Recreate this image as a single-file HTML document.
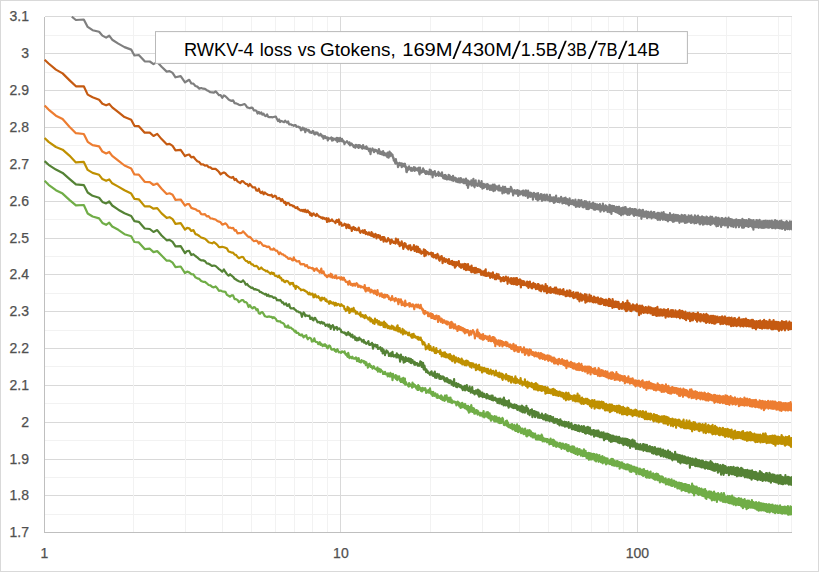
<!DOCTYPE html>
<html><head><meta charset="utf-8"><title>RWKV-4 loss vs Gtokens</title>
<style>html,body{margin:0;padding:0;background:#fff;}body{width:819px;height:572px;overflow:hidden;font-family:"Liberation Sans",sans-serif;}</style></head>
<body>
<svg width="819" height="572" viewBox="0 0 819 572" style="display:block">
<rect x="0" y="0" width="819" height="572" fill="#fff"/>
<rect x="0.5" y="0.5" width="818" height="571" fill="none" stroke="#d9d9d9" stroke-width="1"/>
<g fill="none" stroke-width="1" shape-rendering="crispEdges"><path d="M44.5 16.5H791.5M44.5 53.5H791.5M44.5 90.5H791.5M44.5 127.5H791.5M44.5 164.5H791.5M44.5 201.5H791.5M44.5 238.5H791.5M44.5 274.5H791.5M44.5 311.5H791.5M44.5 348.5H791.5M44.5 385.5H791.5M44.5 422.5H791.5M44.5 459.5H791.5M44.5 495.5H791.5M44.5 532.5H791.5" stroke="#d9d9d9"/><path d="M44.5 35.5H791.5M44.5 72.5H791.5M44.5 109.5H791.5M44.5 145.5H791.5M44.5 182.5H791.5M44.5 219.5H791.5M44.5 256.5H791.5M44.5 293.5H791.5M44.5 330.5H791.5M44.5 366.5H791.5M44.5 403.5H791.5M44.5 440.5H791.5M44.5 477.5H791.5M44.5 514.5H791.5" stroke="#f2f2f2"/><path d="M340.5 16.5V532.5M637.5 16.5V532.5" stroke="#d9d9d9"/><path d="M133.5 16.5V532.5M185.5 16.5V532.5M222.5 16.5V532.5M251.5 16.5V532.5M275.5 16.5V532.5M294.5 16.5V532.5M312.5 16.5V532.5M327.5 16.5V532.5M430.5 16.5V532.5M482.5 16.5V532.5M519.5 16.5V532.5M548.5 16.5V532.5M571.5 16.5V532.5M591.5 16.5V532.5M608.5 16.5V532.5M623.5 16.5V532.5M726.5 16.5V532.5M778.5 16.5V532.5M791.5 16.5V532.5" stroke="#f2f2f2"/><path d="M44.5 16.5V532.5H791.5" stroke="#bfbfbf"/></g>
<clipPath id="cp"><rect x="40" y="16.0" width="751.9" height="520"/></clipPath><g clip-path="url(#cp)">
<path d="M71.8,16.7 75.9,20.0 83.8,19.5 87.7,26.9 92.6,30.2 99.1,31.8 102.4,35.6 106.1,37.6 109.2,35.7 112.2,39.7 118.3,43.6 124.5,47.1 131.2,49.6 134.4,55.5 138.8,55.0 144.7,61.3 149.8,61.5 153.5,64.1 157.2,62.1 161.6,66.7 166.7,71.6 169.6,71.1 172.6,72.9 175.5,77.3 180.7,76.1 185.0,82.4 187.1,81.0 189.2,79.8 191.3,83.4 193.4,83.6 195.4,86.0 197.3,86.6 199.3,88.6 201.2,88.0 203.1,88.7 205.0,88.9 206.8,90.2 208.6,91.1 210.4,92.2 212.2,92.4 213.9,92.7 215.6,91.4 217.3,93.1 219.0,95.2 220.6,95.1 222.2,97.8 223.9,95.4 225.4,96.3 227.0,97.8 228.6,99.5 230.1,100.4 231.6,100.9 233.1,100.4 234.6,103.1 236.0,103.3 237.5,103.9 238.9,104.8 240.3,105.2 241.7,105.0 243.1,104.5 244.5,104.0 245.8,105.3 247.2,107.4 248.5,107.8 249.8,108.2 251.3,107.6 252.6,107.9 253.9,110.4 255.1,110.4 256.4,110.7 257.6,113.6 258.8,112.0 260.0,113.7 261.2,112.4 262.4,114.6 263.6,113.7 264.8,115.8 265.9,116.1 267.1,114.4 268.2,116.9 269.3,117.1 270.5,117.1 271.6,117.1 272.7,117.3 273.7,117.0 274.8,116.7 275.9,116.7 277.0,119.1 278.0,121.0 279.1,119.5 280.1,122.0 281.1,120.9 282.1,121.3 283.2,121.9 284.2,122.2 285.2,120.6 286.1,121.8 287.1,122.7 288.1,121.3 289.1,124.3 290.0,124.3 291.0,124.3 291.9,125.1 292.9,125.2 293.8,125.8 294.7,125.1 295.6,125.0 296.5,126.8 297.4,126.7 298.3,126.5 299.2,127.7 300.1,127.3 301.0,130.4 301.9,129.9 302.7,127.6 303.6,129.6 304.5,128.5 305.3,132.2 306.2,129.1 307.0,129.6 307.8,130.7 308.7,129.8 309.5,132.4 310.3,131.6 311.1,132.8 311.9,132.9 312.7,130.9 313.5,131.5 314.3,134.3 315.1,134.3 315.9,132.3 316.7,133.7 317.5,132.6 318.2,134.5 319.0,135.5 319.7,135.4 320.5,133.8 321.3,134.9 322.0,136.6 322.7,135.6 323.5,138.6 324.2,136.3 325.0,136.2 325.7,138.0 326.4,137.6 327.1,137.3 327.8,140.4 328.5,137.8 329.2,138.7 330.0,138.6 330.7,138.1 331.3,137.3 332.0,140.6 332.7,138.0 333.4,140.2 334.1,138.8 334.8,139.2 335.4,138.7 336.1,140.3 336.8,137.8 337.4,141.9 338.1,138.2 338.8,140.1 339.4,141.2 340.1,137.9 340.7,140.3 341.3,141.0 342.0,138.9 342.6,141.4 343.3,140.6 343.9,141.5 344.5,144.2 345.1,142.7 345.8,142.3 346.4,142.1 347.0,141.2 347.6,142.4 348.2,143.0 348.8,144.0 349.4,142.4 350.0,145.4 350.6,143.8 351.2,143.4 351.8,143.7 352.4,145.4 353.0,145.2 353.6,147.0 354.2,145.6 354.7,146.5 355.3,147.8 355.9,144.8 356.5,146.3 357.0,145.4 357.6,147.0 358.2,145.1 358.7,148.0 359.3,146.9 359.8,145.2 360.4,147.2 360.9,146.0 361.5,146.8 362.0,148.5 362.6,148.7 363.1,145.0 363.7,147.7 364.2,147.1 364.7,148.4 365.3,147.4 365.8,148.7 366.3,146.4 366.9,149.0 367.4,147.6 367.9,149.3 368.4,148.8 368.9,150.8 369.5,151.5 370.0,148.6 370.5,154.2 371.0,150.4 371.5,150.5 372.0,149.8 372.5,148.5 373.0,149.7 373.5,150.6 374.0,152.2 374.5,149.8 375.0,149.7 375.5,151.0 376.0,150.6 376.5,150.2 377.0,151.7 377.5,150.9 377.9,153.3 378.4,153.2 378.9,149.0 379.4,151.7 379.9,152.0 380.3,154.0 380.8,151.6 381.3,152.2 381.7,154.2 382.2,154.4 382.7,153.8 383.1,151.2 383.6,155.2 384.1,152.9 384.5,152.8 385.0,154.0 385.4,155.5 385.9,153.9 386.4,153.6 386.8,154.9 387.3,157.1 387.7,152.7 388.1,154.2 388.6,157.7 389.0,154.8 389.5,151.7 389.9,156.3 390.4,153.9 390.8,152.9 391.2,155.7 391.7,154.4 392.1,154.4 392.5,154.8 393.0,157.7 393.4,157.5 393.8,160.6 394.2,159.9 394.7,159.7 395.1,162.8 395.5,163.6 395.9,159.2 396.4,163.5 396.8,162.2 397.2,163.5 397.6,163.7 398.0,167.1 398.4,166.3 398.8,164.7 399.2,163.0 399.7,162.8 400.1,163.9 400.5,165.1 400.9,164.2 401.3,163.5 401.7,167.2 402.1,163.5 402.5,166.4 402.9,163.8 403.3,165.9 403.7,164.6 404.1,166.2 404.5,164.9 404.9,163.7 405.2,166.9 405.6,166.0 406.0,166.9 406.4,171.8 406.8,172.1 407.2,169.7 407.6,168.9 407.9,170.2 408.3,167.2 408.7,168.5 409.1,166.3 409.5,168.8 409.8,168.1 410.2,168.7 410.6,170.1 411.0,170.7 411.3,167.9 411.7,168.7 412.1,170.8 412.5,168.5 412.8,170.2 413.2,170.1 413.6,169.1 413.9,167.1 414.3,169.5 414.7,170.9 415.0,168.6 415.4,167.7 415.7,169.8 416.1,170.1 416.5,169.5 416.8,169.0 417.2,169.0 417.5,168.6 417.9,170.6 418.2,168.1 418.6,167.7 418.9,170.5 419.3,173.4 419.6,174.4 420.0,167.6 420.3,171.4 420.7,171.5 421.0,172.2 421.4,172.7 421.7,170.6 422.1,170.6 422.4,171.1 422.7,171.9 423.1,168.4 423.4,170.5 423.8,169.7 424.1,171.5 424.4,172.0 424.8,171.1 425.1,173.0 425.4,171.4 425.8,174.0 426.1,171.4 426.4,172.5 426.8,171.2 427.1,172.2 427.4,173.7 427.8,172.2 428.1,172.2 428.4,173.7 428.7,174.2 429.1,172.1 429.4,173.5 429.7,169.7 430.0,173.3 430.4,171.1 430.7,174.4 431.0,170.3 431.3,173.2 431.6,171.5 431.9,173.6 432.3,172.6 432.6,177.5 432.9,173.7 433.2,172.1 433.5,174.6 433.8,172.2 434.2,171.6 434.5,174.4 434.8,171.1 435.1,174.3 435.4,173.8 435.7,175.9 436.0,173.6 436.3,175.4 436.6,174.1 436.9,174.3 437.2,174.0 437.5,174.4 437.8,174.8 438.1,175.0 438.4,171.8 438.7,176.0 439.0,174.6 439.3,173.2 439.6,174.7 439.9,173.8 440.2,175.2 440.5,175.0 440.8,173.8 441.1,175.8 441.4,174.3 441.7,176.2 442.0,172.4 442.3,176.0 442.6,175.0 442.9,175.4 443.2,178.2 443.5,175.6 443.8,176.7 444.1,177.8 444.3,178.6 444.6,175.0 444.9,178.2 445.2,175.3 445.5,175.0 445.8,178.8 446.1,175.9 446.3,177.3 446.6,178.6 446.9,179.5 447.2,177.2 447.5,177.0 447.8,176.8 448.0,177.4 448.3,179.1 448.6,174.8 448.9,177.3 449.2,178.9 449.4,179.0 449.7,175.5 450.0,179.6 450.3,178.2 450.5,176.9 450.8,176.8 451.1,177.5 451.4,178.0 451.6,180.1 451.9,177.3 452.2,176.9 452.4,177.4 452.7,178.4 453.0,175.9 453.3,180.9 453.5,179.2 453.8,180.1 454.1,180.1 454.3,179.5 454.6,178.9 454.9,177.5 455.1,178.9 455.4,179.4 455.7,180.4 455.9,181.1 456.2,181.5 456.4,178.4 456.7,179.8 457.0,180.5 457.2,180.1 457.5,181.9 457.7,179.7 458.0,182.1 458.3,179.8 458.5,179.6 458.8,178.3 459.0,181.6 459.3,182.4 459.6,181.7 459.8,180.2 460.1,181.7 460.3,179.7 460.6,182.5 460.8,178.1 461.1,180.3 461.3,178.6 461.6,180.3 461.8,179.4 462.1,180.9 462.3,182.0 462.6,181.1 462.8,181.8 463.1,180.9 463.3,182.8 463.6,183.0 463.8,179.4 464.1,183.0 464.3,182.8 464.6,183.1 464.8,182.1 465.1,179.8 465.3,183.0 465.6,181.4 465.8,182.3 466.0,178.6 466.3,183.1 466.5,183.3 466.8,185.2 467.1,182.0 467.4,184.7 467.7,180.3 468.0,187.9 468.2,186.9 468.5,183.7 468.7,181.2 468.9,182.8 469.2,183.6 469.4,183.2 469.6,183.7 469.9,184.3 470.1,182.1 470.4,183.1 470.6,182.8 470.8,183.3 471.1,184.0 471.3,180.3 471.6,185.7 471.9,182.7 472.2,181.9 472.5,182.3 472.7,184.4 472.9,180.8 473.1,183.8 473.4,178.9 473.6,185.8 473.8,183.5 474.1,185.7 474.3,182.9 474.6,187.3 474.9,182.4 475.2,185.3 475.4,180.8 475.7,180.3 475.9,185.1 476.1,184.2 476.3,183.5 476.6,184.2 476.8,183.5 477.1,184.8 477.4,185.9 477.7,184.5 477.9,185.7 478.1,185.6 478.3,185.2 478.6,183.9 478.8,180.7 479.1,184.5 479.4,182.5 479.7,186.0 479.9,185.0 480.1,183.0 480.3,186.3 480.6,186.8 480.9,183.5 481.2,186.0 481.4,184.1 481.6,181.2 481.8,184.6 482.1,185.0 482.4,188.6 482.7,187.7 482.9,185.0 483.1,187.0 483.3,184.1 483.6,184.0 483.9,187.8 484.2,185.7 484.4,184.9 484.6,184.5 484.8,187.2 485.1,184.7 485.4,186.5 485.7,186.4 485.9,186.2 486.1,185.3 486.4,184.4 486.7,187.0 486.9,186.6 487.1,189.1 487.3,186.7 487.6,184.0 487.9,188.7 488.1,187.7 488.3,186.0 488.6,187.9 488.9,185.4 489.2,185.5 489.4,185.5 489.6,185.9 489.9,190.0 490.2,187.3 490.4,188.9 490.6,185.7 490.9,186.3 491.2,186.1 491.4,189.8 491.6,185.6 491.9,187.0 492.2,186.5 492.4,185.9 492.6,188.4 492.9,184.7 493.2,189.9 493.4,191.2 493.6,190.0 493.9,187.5 494.2,189.5 494.3,189.4 494.6,184.7 494.9,187.3 495.1,190.4 495.3,188.0 495.6,186.1 495.9,189.2 496.1,188.9 496.4,187.9 496.7,187.9 496.9,188.2 497.1,186.3 497.4,187.5 497.6,187.7 497.8,187.0 498.1,189.4 498.4,190.5 498.6,188.6 498.9,187.4 499.1,185.5 499.3,189.2 499.6,187.1 499.9,190.4 500.1,190.7 500.4,189.0 500.6,189.1 500.8,188.0 501.1,188.1 501.4,190.1 501.6,188.9 501.9,189.9 502.1,188.9 502.4,193.4 502.7,190.7 502.9,186.6 503.1,189.1 503.4,191.0 503.6,190.7 503.9,187.5 504.1,189.0 504.4,192.6 504.7,189.9 504.9,192.2 505.1,186.8 505.4,190.4 505.6,188.7 505.9,191.6 506.1,191.6 506.4,188.9 506.6,191.9 506.9,189.3 507.2,190.5 507.4,190.3 507.6,193.4 507.9,190.4 508.1,188.9 508.4,191.2 508.6,191.5 508.9,193.5 509.1,191.4 509.4,189.1 509.6,190.1 509.9,189.9 510.1,189.8 510.4,191.5 510.7,188.4 510.8,186.9 511.1,190.9 511.4,189.0 511.6,188.4 511.9,191.7 512.1,190.6 512.4,191.4 512.6,190.4 512.9,193.7 513.1,195.4 513.4,192.6 513.6,191.6 513.9,190.7 514.1,193.2 514.4,190.3 514.6,190.1 514.9,192.1 515.1,193.5 515.4,192.4 515.6,191.1 515.9,192.1 516.1,191.8 516.4,192.7 516.6,193.7 516.9,190.3 517.1,192.0 517.4,190.4 517.6,192.5 517.9,190.3 518.1,195.9 518.4,193.5 518.6,191.4 518.9,194.4 519.1,191.9 519.4,194.6 519.6,190.9 519.9,192.2 520.1,193.1 520.4,192.3 520.6,194.4 520.9,192.3 521.1,192.5 521.4,193.2 521.6,193.6 521.9,191.4 522.1,193.0 522.4,190.9 522.6,193.6 522.9,192.9 523.1,195.5 523.4,191.9 523.6,190.6 523.9,193.8 524.1,191.7 524.4,195.0 524.6,193.1 524.9,194.9 525.1,195.2 525.4,195.8 525.6,194.5 525.9,190.4 526.1,195.5 526.4,193.1 526.6,195.2 526.9,192.6 527.1,193.5 527.4,195.5 527.6,194.0 527.9,197.8 528.1,190.7 528.4,195.6 528.6,196.4 528.9,193.3 529.1,196.4 529.4,193.8 529.6,196.0 529.9,192.5 530.1,196.8 530.4,193.9 530.6,194.4 530.9,192.8 531.1,193.9 531.4,196.3 531.6,193.1 531.9,195.4 532.1,194.0 532.4,197.2 532.6,194.7 532.9,199.6 533.1,194.5 533.4,196.3 533.6,195.5 533.9,192.9 534.1,193.1 534.4,196.6 534.6,196.6 534.9,195.6 535.1,196.7 535.4,194.1 535.6,194.4 535.9,198.9 536.1,193.9 536.4,197.6 536.6,193.6 536.9,198.3 537.1,196.0 537.4,197.1 537.6,200.5 537.9,197.9 538.1,193.0 538.4,198.2 538.6,199.6 538.9,195.2 539.1,196.3 539.4,197.9 539.6,195.5 539.9,199.0 540.1,196.0 540.4,197.6 540.6,198.4 540.9,194.1 541.1,196.3 541.4,195.0 541.6,194.3 541.9,200.8 542.1,197.9 542.4,196.9 542.6,200.1 542.9,195.6 543.1,196.7 543.4,195.3 543.6,196.1 543.9,194.8 544.1,199.7 544.4,195.7 544.6,194.5 544.9,197.7 545.1,200.1 545.4,196.4 545.6,198.8 545.9,196.2 546.1,197.3 546.4,199.7 546.6,198.0 546.9,194.7 547.1,199.7 547.4,196.4 547.6,197.3 547.9,198.9 548.1,200.2 548.4,198.5 548.6,200.2 548.9,196.6 549.1,196.7 549.4,200.6 549.6,201.3 549.9,194.9 550.1,197.7 550.4,196.7 550.6,201.2 550.9,198.0 551.1,197.6 551.4,200.7 551.6,200.8 551.9,198.5 552.1,197.8 552.4,200.6 552.6,197.8 552.9,201.4 553.1,198.0 553.4,202.0 553.6,197.3 553.9,202.9 554.1,198.4 554.4,200.3 554.6,198.1 554.9,202.3 555.1,198.2 555.4,201.3 555.6,196.9 555.9,199.6 556.1,195.5 556.4,200.5 556.6,200.8 556.9,198.6 557.1,198.4 557.4,201.8 557.6,200.3 557.9,201.8 558.1,198.6 558.4,202.0 558.6,198.4 558.9,201.8 559.1,198.3 559.4,200.4 559.6,202.5 559.9,199.3 560.1,198.8 560.4,200.7 560.6,198.9 560.9,200.4 561.1,196.9 561.4,201.3 561.6,199.1 561.9,200.8 562.1,198.9 562.4,203.4 562.6,199.8 562.9,201.2 563.1,198.3 563.4,200.9 563.6,199.3 563.9,203.0 564.1,199.7 564.4,202.9 564.6,198.2 564.9,201.0 565.1,199.4 565.4,202.1 565.6,197.7 565.9,203.6 566.1,203.4 566.4,200.5 566.6,202.5 566.9,200.3 567.1,199.1 567.4,203.3 567.6,203.8 567.9,200.5 568.1,199.9 568.4,204.6 568.6,201.0 568.9,205.4 569.1,204.5 569.4,201.1 569.6,198.4 569.9,201.9 570.1,202.8 570.4,200.5 570.6,200.9 570.9,202.5 571.1,204.0 571.4,200.6 571.6,203.1 571.9,201.5 572.1,204.2 572.4,201.8 572.6,203.1 572.9,200.2 573.1,200.7 573.4,202.7 573.6,204.1 573.9,201.5 574.1,205.2 574.4,202.2 574.6,205.1 574.9,201.4 575.1,204.5 575.4,199.5 575.6,201.5 575.9,207.0 576.1,201.7 576.4,205.4 576.6,206.0 576.9,204.5 577.1,205.1 577.4,202.0 577.6,206.3 577.9,203.4 578.1,204.3 578.4,200.2 578.6,199.9 578.9,204.9 579.1,202.6 579.4,206.9 579.6,205.5 579.9,200.6 580.1,203.8 580.4,202.3 580.6,205.7 580.9,202.1 581.1,205.4 581.4,200.0 581.6,205.2 581.9,203.1 582.1,201.8 582.4,204.4 582.6,207.1 582.9,203.2 583.1,206.4 583.4,202.8 583.6,207.3 583.9,203.4 584.1,201.8 584.4,206.5 584.6,201.2 584.9,205.9 585.1,206.5 585.4,202.9 585.6,206.2 585.9,201.4 586.1,201.3 586.4,209.0 586.6,207.6 586.9,202.1 587.1,207.6 587.4,203.3 587.6,206.6 587.9,204.1 588.1,209.1 588.4,203.5 588.6,203.9 588.9,207.4 589.1,208.7 589.4,201.8 589.6,207.7 589.9,203.9 590.1,207.7 590.4,205.2 590.6,207.5 590.9,205.9 591.1,204.1 591.4,207.8 591.6,207.9 591.9,204.5 592.1,206.2 592.4,203.1 592.6,205.2 592.9,206.8 593.1,202.6 593.4,208.1 593.6,209.3 593.9,204.7 594.1,203.9 594.4,209.7 594.6,205.5 594.9,208.7 595.1,203.9 595.4,209.6 595.6,206.7 595.9,209.1 596.1,204.8 596.4,208.1 596.6,208.5 596.9,204.4 597.1,207.7 597.4,206.2 597.6,209.2 597.9,204.9 598.1,205.5 598.4,209.4 598.6,205.8 598.9,209.3 599.1,205.4 599.4,208.0 599.6,208.5 599.9,204.0 600.1,206.2 600.4,211.7 600.6,205.5 600.9,209.0 601.1,206.2 601.4,208.2 601.6,210.1 601.9,206.8 602.1,209.4 602.4,206.5 602.6,208.3 602.9,203.5 603.1,209.0 603.4,206.5 603.6,206.9 603.9,211.3 604.1,206.8 604.4,209.2 604.6,206.3 604.9,210.3 605.1,209.5 605.4,205.4 605.6,205.3 605.9,209.6 606.1,210.1 606.4,205.9 606.6,208.4 606.9,210.0 607.1,209.7 607.4,207.2 607.6,211.9 607.9,207.3 608.1,210.5 608.4,207.7 608.6,210.0 608.9,207.8 609.1,210.5 609.4,204.9 609.6,212.1 609.9,206.5 610.1,210.0 610.4,206.4 610.6,205.6 610.9,210.5 611.1,207.7 611.4,213.9 611.6,210.6 611.9,208.2 612.1,210.3 612.4,205.8 612.6,210.9 612.9,207.7 613.1,207.4 613.4,211.0 613.6,206.1 613.9,211.0 614.1,206.1 614.4,211.2 614.6,210.4 614.9,207.5 615.1,208.6 615.4,212.0 615.6,208.3 615.9,209.2 616.1,212.1 616.4,206.9 616.6,211.9 616.9,209.4 617.1,208.0 617.4,212.6 617.6,207.1 617.9,211.2 618.1,207.7 618.4,213.2 618.6,211.0 618.9,207.2 619.1,206.7 619.4,214.0 619.6,208.7 619.9,211.2 620.1,212.7 620.4,209.2 620.6,208.6 620.9,210.3 621.1,215.3 621.4,208.0 621.6,208.3 621.9,210.7 622.1,211.8 622.4,210.3 622.6,212.8 622.9,207.7 623.1,214.5 623.4,209.9 623.6,208.9 623.9,212.2 624.1,212.7 624.4,208.5 624.6,207.4 624.9,211.9 625.1,213.7 625.4,209.6 625.6,207.0 625.9,211.9 626.1,212.7 626.4,211.0 626.6,208.6 626.9,213.2 627.1,214.7 627.4,209.5 627.6,215.0 627.9,209.3 628.1,209.8 628.4,212.7 628.6,209.0 628.9,213.8 629.1,208.8 629.4,214.9 629.6,209.3 629.9,214.5 630.1,208.3 630.4,213.0 630.6,213.6 630.9,208.8 631.1,209.3 631.4,213.0 631.6,210.7 631.9,213.4 632.1,212.1 632.4,209.2 632.6,209.5 632.9,212.4 633.1,209.4 633.4,214.9 633.6,212.6 633.9,210.9 634.1,216.0 634.4,210.3 634.6,209.1 634.9,214.8 635.1,209.2 635.4,213.2 635.6,214.1 635.9,209.3 636.1,214.9 636.4,211.7 636.6,210.8 636.9,215.3 637.1,215.0 637.4,210.9 637.6,214.5 637.9,212.3 638.1,214.7 638.4,210.3 638.6,214.6 638.9,211.3 639.1,215.9 639.4,209.6 639.6,210.1 639.9,214.6 640.1,215.4 640.4,212.8 640.6,215.3 640.9,210.4 641.1,212.1 641.4,218.8 641.6,215.4 641.9,210.8 642.1,212.1 642.4,216.5 642.6,216.4 642.9,209.8 643.1,215.8 643.4,211.1 643.6,216.7 643.9,212.0 644.1,212.0 644.4,215.0 644.6,212.4 644.9,215.5 645.1,216.6 645.4,212.8 645.6,211.7 645.9,215.0 646.1,216.5 646.4,211.3 646.6,215.7 646.9,213.4 647.1,218.2 647.4,212.1 647.6,217.7 647.9,213.0 648.1,216.5 648.4,211.8 648.6,212.7 648.9,216.1 649.1,212.5 649.4,216.9 649.6,217.3 649.9,215.3 650.1,217.2 650.4,212.9 650.6,216.4 650.9,212.5 651.1,211.5 651.4,217.3 651.6,218.3 651.9,213.2 652.1,217.0 652.4,213.2 652.6,213.3 652.9,217.4 653.1,214.2 653.4,216.8 653.6,212.2 653.9,217.5 654.1,216.9 654.4,212.2 654.6,216.8 654.9,214.8 655.1,215.1 655.4,217.9 655.6,214.2 655.9,217.9 656.1,217.8 656.4,213.8 656.6,214.2 656.9,217.6 657.1,215.7 657.4,219.3 657.6,212.8 657.9,219.9 658.1,214.0 658.4,218.1 658.6,218.0 658.9,212.9 659.1,214.1 659.4,218.9 659.6,213.9 659.9,219.4 660.1,220.0 660.4,213.9 660.6,219.2 660.9,215.6 661.1,216.8 661.4,212.7 661.6,214.6 661.9,217.9 662.1,214.9 662.4,218.2 662.6,215.0 662.9,219.8 663.1,215.0 663.4,216.7 663.6,212.1 663.9,218.3 664.1,218.5 664.4,213.9 664.6,218.2 664.9,214.1 665.1,219.8 665.4,214.5 665.6,215.1 665.9,219.8 666.1,218.3 666.4,214.5 666.6,220.1 666.9,215.5 667.1,218.7 667.4,214.9 667.6,215.2 667.9,221.3 668.1,219.0 668.4,215.6 668.6,219.9 668.9,216.1 669.1,214.8 669.4,219.8 669.6,220.0 669.9,213.2 670.1,220.0 670.4,214.3 670.6,215.9 670.9,219.4 671.1,220.1 671.4,215.4 671.6,218.9 671.9,215.5 672.1,220.8 672.4,215.0 672.6,216.8 672.9,221.8 673.1,215.8 673.4,220.9 673.6,214.4 673.9,220.9 674.1,221.5 674.4,215.8 674.6,219.3 674.9,215.5 675.1,218.7 675.4,215.5 675.6,220.7 675.9,214.8 676.1,220.6 676.4,215.0 676.6,220.7 676.9,215.6 677.1,215.3 677.4,218.6 677.6,220.6 677.9,215.2 678.1,217.7 678.4,219.5 678.6,216.0 678.9,219.1 679.1,215.9 679.4,222.8 679.6,216.0 679.9,221.3 680.1,216.3 680.4,220.6 680.6,217.3 680.9,221.4 681.1,216.1 681.4,221.7 681.6,214.8 681.9,221.5 682.1,215.7 682.4,221.1 682.6,221.3 682.9,215.6 683.1,221.4 683.4,217.2 683.6,220.2 683.9,216.7 684.1,217.7 684.4,221.4 684.6,215.1 684.9,223.0 685.1,223.0 685.4,215.4 685.6,220.2 685.9,216.8 686.1,222.4 686.4,216.9 686.6,217.7 686.9,222.6 687.1,221.7 687.4,217.1 687.6,217.8 687.9,221.8 688.1,221.7 688.4,217.5 688.6,215.3 688.9,220.9 689.1,217.1 689.4,220.5 689.6,216.4 689.9,221.8 690.1,216.4 690.4,221.5 690.6,217.1 690.9,223.0 691.1,222.5 691.4,215.4 691.6,221.8 691.9,216.8 692.1,216.9 692.4,222.3 692.6,222.1 692.9,217.9 693.1,217.6 693.4,222.0 693.6,217.3 693.9,220.7 694.1,217.9 694.4,223.4 694.6,222.1 694.9,215.3 695.1,218.7 695.4,222.8 695.6,221.6 695.9,216.5 696.1,218.7 696.4,222.5 696.6,223.0 696.9,216.7 697.1,217.9 697.4,221.9 697.6,217.9 697.9,222.0 698.1,215.7 698.4,221.6 698.6,222.0 698.9,216.8 699.1,217.8 699.4,223.8 699.6,218.5 699.9,221.5 700.1,224.3 700.4,219.1 700.6,217.3 700.9,223.3 701.1,222.6 701.4,217.2 701.6,217.0 701.9,223.2 702.1,216.3 702.4,221.5 702.6,217.2 702.9,224.6 703.1,218.1 703.4,223.3 703.6,224.5 703.9,217.2 704.1,221.6 704.4,219.3 704.6,218.0 704.9,223.7 705.1,218.0 705.4,222.7 705.6,222.8 705.9,217.6 706.1,223.6 706.4,216.7 706.6,222.6 706.9,219.0 707.1,224.3 707.4,217.4 707.6,218.1 707.9,223.8 708.1,218.3 708.4,222.4 708.6,222.7 708.9,218.0 709.1,218.3 709.4,224.1 709.6,219.0 709.9,224.3 710.1,222.4 710.4,216.5 710.6,224.9 710.9,217.3 711.1,219.5 711.4,223.2 711.6,223.8 711.9,217.9 712.1,216.9 712.4,223.7 712.6,222.5 712.9,218.2 713.1,222.2 713.4,218.5 713.6,220.0 713.9,223.1 714.1,219.1 714.4,221.8 714.6,223.0 714.9,219.8 715.1,224.4 715.4,217.8 715.6,217.3 715.9,224.1 716.1,219.1 716.4,226.3 716.6,217.7 716.9,224.7 717.1,219.7 717.4,225.6 717.6,219.7 717.9,224.1 718.1,225.9 718.4,218.7 718.6,217.8 718.9,223.9 719.1,218.9 719.4,224.1 719.6,224.4 719.9,220.0 720.1,224.3 720.4,219.5 720.6,219.8 720.9,223.3 721.1,227.0 721.4,218.2 721.6,220.2 721.9,223.5 722.1,225.2 722.4,218.1 722.6,218.6 722.9,224.6 723.1,224.6 723.4,219.8 723.6,219.5 723.9,224.2 724.1,224.0 724.4,219.1 724.6,225.4 724.9,220.9 725.1,219.4 725.4,225.5 725.6,217.8 725.9,224.9 726.1,220.4 726.4,224.2 726.6,220.5 726.9,225.1 727.1,219.0 727.4,223.5 727.6,219.3 727.9,227.4 728.1,225.6 728.4,219.3 728.6,217.7 728.9,224.5 729.1,219.6 729.4,224.8 729.6,219.1 729.9,225.1 730.1,219.0 730.4,224.7 730.6,224.7 730.9,219.2 731.1,226.3 731.4,220.6 731.6,219.5 731.9,226.2 732.1,224.4 732.4,219.7 732.6,224.1 732.9,219.8 733.1,220.5 733.4,227.0 733.6,225.1 733.9,221.1 734.1,221.3 734.4,225.2 734.6,221.0 734.9,225.1 735.1,219.9 735.4,225.1 735.6,219.9 735.9,227.5 736.1,224.7 736.4,219.3 736.6,219.9 736.9,224.8 737.1,220.1 737.4,224.4 737.6,225.1 737.9,220.9 738.1,224.1 738.4,220.1 738.6,221.2 738.9,227.1 739.1,220.0 739.4,224.3 739.6,220.5 739.9,225.6 740.1,220.1 740.4,224.2 740.6,225.5 740.9,220.9 741.1,225.4 741.4,220.0 741.6,224.8 741.9,220.4 742.1,227.6 742.4,218.9 742.6,220.9 742.9,225.0 743.1,220.5 743.4,225.3 743.6,227.6 743.9,220.2 744.1,227.5 744.4,221.1 744.6,225.1 744.9,220.1 745.1,221.2 745.4,224.8 745.6,226.0 745.9,220.3 746.1,225.4 746.4,220.1 746.6,220.5 746.9,226.2 747.1,221.6 747.4,226.4 747.6,221.3 747.9,225.6 748.1,220.5 748.4,226.5 748.6,226.8 748.9,219.1 749.1,225.7 749.4,220.0 749.6,226.1 749.9,220.8 750.1,221.8 750.4,225.9 750.6,219.8 750.9,226.0 751.1,221.1 751.4,225.2 751.6,226.3 751.9,220.5 752.1,221.2 752.4,227.4 752.6,220.7 752.9,226.4 753.1,222.3 753.4,229.7 753.6,220.0 753.9,227.5 754.1,221.8 754.4,226.8 754.6,221.7 754.9,227.1 755.1,221.8 755.4,226.4 755.6,222.0 755.9,226.4 756.1,227.0 756.4,220.0 756.6,227.1 756.9,220.9 757.1,220.3 757.4,226.1 757.6,222.0 757.9,225.7 758.1,227.2 758.4,220.8 758.6,227.8 758.9,222.4 759.1,221.4 759.4,227.3 759.6,219.9 759.9,226.9 760.1,226.6 760.4,221.7 760.6,222.3 760.9,226.1 761.1,227.7 761.4,221.3 761.6,227.2 761.9,221.6 762.1,228.0 762.4,221.4 762.6,221.4 762.9,227.6 763.1,221.2 763.4,227.1 763.6,221.6 763.9,228.0 764.1,220.9 764.4,226.6 764.6,223.7 764.9,227.0 765.1,227.3 765.4,221.7 765.6,227.3 765.9,220.7 766.1,221.4 766.4,226.9 766.6,227.0 766.9,221.9 767.1,227.5 767.4,221.9 767.6,227.0 767.9,220.9 768.1,227.6 768.4,221.5 768.6,221.7 768.9,227.1 769.1,227.7 769.4,222.0 769.6,227.5 769.9,220.8 770.1,222.3 770.4,226.8 770.6,223.1 770.9,226.7 771.1,227.0 771.4,221.6 771.6,227.4 771.9,220.7 772.1,228.1 772.4,222.0 772.6,226.8 772.9,222.4 773.1,228.0 773.4,222.2 773.6,227.7 773.9,221.9 774.1,227.2 774.4,222.5 774.6,220.7 774.9,227.8 775.1,220.2 775.4,228.5 775.6,221.5 775.9,227.4 776.1,226.8 776.4,222.6 776.6,226.6 776.9,220.9 777.1,227.8 777.4,221.6 777.6,222.1 777.9,227.4 778.1,223.1 778.4,227.9 778.6,222.4 778.9,227.6 779.1,221.5 779.4,227.8 779.6,221.1 779.9,228.5 780.1,226.8 780.4,222.5 780.6,223.0 780.9,227.3 781.1,227.3 781.4,220.6 781.6,227.9 781.9,222.7 782.1,228.9 782.4,222.4 782.6,222.1 782.9,228.1 783.1,222.2 783.4,227.4 783.6,222.9 783.9,227.5 784.1,228.2 784.4,222.6 784.6,227.4 784.9,222.6 785.1,230.0 785.4,222.9 785.6,227.5 785.9,222.4 786.1,222.0 786.4,228.0 786.6,221.2 786.9,228.7 787.1,221.9 787.4,227.4 787.6,229.2 787.9,222.6 788.1,222.9 788.4,228.6 788.6,227.7 788.9,223.2 789.1,228.2 789.4,222.8 789.6,229.3 789.9,221.3 790.1,222.6 790.4,228.8 790.6,228.1 790.9,223.5 791.1,228.6 791.4,221.8 791.6,227.4 791.9,221.7 792.1,229.2 792.4,222.8 792.6,229.9 792.9,223.2 793.1,229.7 793.4,221.7 793.6,229.5 793.9,223.0 794.1,223.1 794.4,225.7" stroke="#7f7f7f" stroke-width="2.2" fill="none" stroke-linejoin="round" stroke-linecap="butt"/>
<path d="M44.6,59.7 48.6,63.5 55.9,69.6 62.6,73.4 69.4,80.1 75.9,86.3 83.8,86.3 87.7,94.6 92.6,97.2 99.1,99.8 102.4,103.8 106.1,105.3 109.2,103.9 112.2,107.4 118.3,112.1 124.5,117.1 131.2,119.8 134.4,125.8 138.8,126.2 144.7,132.7 149.8,132.6 153.5,136.0 157.2,133.9 161.6,139.1 166.7,144.3 169.6,143.9 172.6,145.9 175.5,150.3 180.7,149.9 185.0,156.1 187.1,155.0 189.2,154.5 191.3,157.4 193.4,156.8 195.4,159.2 197.3,161.2 199.3,162.1 201.2,164.5 203.1,164.3 205.0,165.7 206.8,165.3 208.6,167.1 210.4,167.3 212.2,168.8 213.9,168.9 215.6,168.9 217.3,170.3 219.0,172.0 220.6,174.3 222.2,173.2 223.9,172.4 225.4,173.2 227.0,175.2 228.6,176.4 230.1,177.3 231.6,177.8 233.1,176.9 234.6,180.0 236.0,179.0 237.5,181.4 238.9,182.2 240.3,183.2 241.7,181.1 243.1,181.4 244.5,182.7 245.8,183.9 247.2,184.1 248.5,186.1 249.8,184.0 251.3,185.7 252.6,187.4 253.9,187.3 255.1,187.4 256.4,190.5 257.6,190.8 258.8,188.7 260.0,192.1 261.2,193.0 262.4,191.6 263.6,194.3 264.8,192.5 265.9,193.6 267.1,194.2 268.2,195.0 269.3,195.2 270.5,195.4 271.6,194.7 272.7,197.1 273.7,196.6 274.8,195.7 275.9,196.2 277.0,198.7 278.0,198.7 279.1,198.0 280.1,199.1 281.1,201.1 282.1,199.1 283.2,200.8 284.2,202.9 285.2,201.8 286.1,205.0 287.1,203.0 288.1,203.1 289.1,203.5 290.0,205.1 291.0,205.1 291.9,205.1 292.9,206.3 293.8,205.8 294.7,207.1 295.6,207.9 296.5,208.1 297.4,207.1 298.3,209.4 299.2,209.1 300.1,210.2 301.0,210.7 301.9,209.8 302.7,211.2 303.6,210.0 304.5,211.6 305.3,209.7 306.2,212.2 307.0,211.9 307.8,210.5 308.7,212.7 309.5,212.2 310.3,215.1 311.1,213.4 311.9,215.8 312.7,214.6 313.5,213.3 314.3,214.8 315.1,215.0 315.9,216.0 316.7,213.8 317.5,215.4 318.2,215.4 319.0,216.6 319.7,216.8 320.5,217.3 321.3,217.9 322.0,217.3 322.7,218.7 323.5,217.7 324.2,218.0 325.0,219.1 325.7,219.2 326.4,218.2 327.1,222.0 327.8,218.8 328.5,218.3 329.2,221.4 330.0,220.9 330.7,221.0 331.3,220.0 332.0,219.4 332.7,220.8 333.4,221.2 334.1,221.5 334.8,221.7 335.4,223.2 336.1,220.7 336.8,220.0 337.4,221.9 338.1,220.6 338.8,219.5 339.4,224.6 340.1,223.2 340.7,222.5 341.3,223.1 342.0,225.8 342.6,225.4 343.3,225.4 343.9,225.1 344.5,223.7 345.1,225.1 345.8,224.4 346.4,228.2 347.0,224.8 347.6,224.8 348.2,224.7 348.8,227.8 349.4,225.2 350.0,228.2 350.6,228.0 351.2,227.6 351.8,231.0 352.4,227.5 353.0,228.9 353.6,227.0 354.2,227.7 354.7,229.8 355.3,228.1 355.9,229.2 356.5,230.2 357.0,229.7 357.6,229.2 358.2,230.0 358.7,227.5 359.3,229.9 359.8,231.7 360.4,232.8 360.9,231.6 361.5,231.1 362.0,231.3 362.6,230.3 363.1,232.7 363.7,232.8 364.2,231.2 364.7,230.1 365.3,232.8 365.8,234.0 366.3,232.0 366.9,233.2 367.4,233.5 367.9,234.5 368.4,234.0 368.9,232.4 369.5,234.8 370.0,233.5 370.5,234.2 371.0,235.5 371.5,232.1 372.0,235.8 372.5,233.4 373.0,234.3 373.5,236.8 374.0,237.0 374.5,234.5 375.0,234.4 375.5,233.9 376.0,234.9 376.5,238.4 377.0,236.7 377.5,235.2 377.9,236.6 378.4,235.1 378.9,237.0 379.4,238.2 379.9,235.5 380.3,238.7 380.8,239.9 381.3,239.1 381.7,237.3 382.2,239.5 382.7,237.0 383.1,237.1 383.6,241.6 384.1,237.1 384.5,237.9 385.0,238.8 385.4,239.4 385.9,241.3 386.4,240.7 386.8,241.6 387.3,241.0 387.7,240.4 388.1,238.2 388.6,240.5 389.0,239.4 389.5,239.6 389.9,240.3 390.4,243.8 390.8,242.4 391.2,242.5 391.7,239.7 392.1,241.3 392.5,241.2 393.0,242.0 393.4,242.9 393.8,241.6 394.2,242.1 394.7,243.0 395.1,242.8 395.5,243.5 395.9,238.6 396.4,241.2 396.8,242.5 397.2,241.4 397.6,241.4 398.0,239.4 398.4,244.2 398.8,242.8 399.2,242.1 399.7,246.1 400.1,243.1 400.5,245.1 400.9,244.4 401.3,245.1 401.7,241.3 402.1,244.2 402.5,244.0 402.9,245.7 403.3,248.9 403.7,247.2 404.1,247.0 404.5,243.2 404.9,245.8 405.2,245.2 405.6,243.7 406.0,246.3 406.4,247.5 406.8,246.6 407.2,247.6 407.6,248.4 407.9,246.0 408.3,249.5 408.7,245.6 409.1,246.7 409.5,247.0 409.8,246.6 410.2,245.2 410.6,249.0 411.0,250.3 411.3,248.5 411.7,248.1 412.1,247.5 412.5,248.8 412.8,249.1 413.2,248.2 413.6,247.7 413.9,245.0 414.3,248.7 414.7,251.0 415.0,249.1 415.4,246.9 415.7,248.1 416.1,247.1 416.5,246.5 416.8,251.9 417.2,250.0 417.5,250.6 417.9,246.8 418.2,250.9 418.6,251.3 418.9,252.2 419.3,249.0 419.6,248.8 420.0,252.6 420.3,251.8 420.7,250.6 421.0,252.2 421.4,253.8 421.7,251.8 422.1,252.2 422.4,253.0 422.7,252.8 423.1,251.6 423.4,252.1 423.8,249.3 424.1,250.3 424.4,256.1 424.8,251.5 425.1,250.0 425.4,254.6 425.8,255.4 426.1,251.0 426.4,253.0 426.8,252.8 427.1,252.8 427.4,252.1 427.8,252.2 428.1,252.8 428.4,254.4 428.7,253.5 429.1,254.2 429.4,254.2 429.7,253.8 430.0,253.3 430.4,253.1 430.7,253.9 431.0,254.5 431.3,252.6 431.6,253.6 431.9,256.3 432.3,253.8 432.6,255.3 432.9,253.2 433.2,257.2 433.5,257.4 433.8,256.0 434.2,255.9 434.5,256.5 434.8,255.8 435.1,255.0 435.4,257.4 435.7,255.2 436.0,257.0 436.3,258.4 436.6,254.9 436.9,256.5 437.2,256.9 437.5,253.9 437.8,256.4 438.1,257.3 438.4,255.4 438.7,258.9 439.0,260.0 439.3,259.8 439.6,260.8 439.9,257.5 440.2,259.7 440.5,258.6 440.8,256.5 441.1,257.0 441.4,257.9 441.7,256.0 442.0,258.7 442.3,258.9 442.6,263.1 442.9,259.5 443.2,261.2 443.5,260.1 443.8,258.4 444.1,258.1 444.3,258.8 444.6,259.3 444.9,261.6 445.2,261.8 445.5,259.6 445.8,259.9 446.1,259.2 446.3,260.2 446.6,261.0 446.9,259.9 447.2,261.0 447.5,260.0 447.8,263.0 448.0,261.5 448.3,260.5 448.6,263.5 448.9,259.0 449.2,261.4 449.4,264.0 449.7,263.7 450.0,263.1 450.3,262.0 450.5,263.7 450.8,263.4 451.1,264.0 451.4,261.0 451.6,264.3 451.9,261.4 452.2,261.0 452.4,262.9 452.7,263.0 453.0,265.1 453.3,263.0 453.5,263.9 453.8,262.0 454.1,261.8 454.3,263.2 454.6,264.7 454.9,267.7 455.1,262.4 455.4,266.7 455.7,263.7 455.9,266.3 456.2,262.2 456.4,264.8 456.7,264.7 457.0,263.9 457.2,264.2 457.5,264.7 457.7,265.0 458.0,262.1 458.3,263.1 458.5,263.7 458.8,261.1 459.0,263.2 459.3,266.4 459.6,265.8 459.8,264.1 460.1,266.9 460.3,265.6 460.6,264.3 460.8,266.7 461.1,267.8 461.3,265.4 461.6,267.1 461.8,266.5 462.1,266.6 462.3,264.4 462.6,264.3 462.8,264.7 463.1,266.9 463.3,266.4 463.6,266.3 463.8,268.6 464.1,269.0 464.3,264.1 464.6,263.8 464.8,266.3 465.1,267.7 465.3,268.0 465.6,266.8 465.8,264.2 466.0,270.1 466.3,266.4 466.5,268.0 466.8,267.6 467.1,267.2 467.4,269.6 467.7,265.9 468.0,264.2 468.2,267.1 468.5,268.6 468.7,268.6 468.9,268.8 469.2,270.0 469.4,269.9 469.6,267.8 469.9,266.5 470.1,267.5 470.4,270.4 470.6,267.7 470.8,270.5 471.1,269.9 471.3,272.1 471.6,265.7 471.9,272.1 472.2,269.3 472.5,269.2 472.7,271.5 472.9,269.0 473.1,268.0 473.4,269.1 473.6,270.5 473.8,269.2 474.1,272.5 474.3,268.5 474.6,268.0 474.9,272.9 475.2,272.7 475.4,269.8 475.7,269.0 475.9,267.8 476.1,272.6 476.3,271.4 476.6,271.5 476.8,270.1 477.1,272.5 477.4,269.1 477.7,269.6 477.9,271.4 478.1,269.1 478.3,271.9 478.6,269.8 478.8,270.6 479.1,270.6 479.4,272.2 479.7,269.6 479.9,270.6 480.1,269.7 480.3,271.0 480.6,270.3 480.9,272.6 481.2,274.8 481.4,271.4 481.6,274.1 481.8,271.4 482.1,271.3 482.4,273.9 482.7,274.1 482.9,273.3 483.1,272.8 483.3,275.2 483.6,272.0 483.9,271.5 484.2,271.0 484.4,272.0 484.6,275.4 484.8,270.7 485.1,275.7 485.4,271.0 485.7,269.4 485.9,276.0 486.1,272.5 486.4,273.8 486.7,273.2 486.9,276.0 487.1,275.3 487.3,273.8 487.6,275.4 487.9,273.6 488.1,275.3 488.3,275.7 488.6,272.6 488.9,274.8 489.2,273.1 489.4,275.1 489.6,274.1 489.9,276.1 490.2,277.8 490.4,276.6 490.6,275.6 490.9,273.4 491.2,275.8 491.4,277.0 491.6,276.4 491.9,274.4 492.2,277.0 492.4,275.7 492.6,277.7 492.9,272.3 493.2,274.4 493.4,275.0 493.6,276.6 493.9,274.8 494.2,275.8 494.3,277.6 494.6,275.5 494.9,279.1 495.1,275.4 495.3,275.6 495.6,275.3 495.9,277.3 496.1,275.6 496.4,279.2 496.7,273.8 496.9,276.2 497.1,277.3 497.4,276.9 497.6,278.0 497.8,277.3 498.1,275.5 498.4,277.6 498.6,274.3 498.9,278.7 499.1,277.0 499.3,276.7 499.6,277.3 499.9,277.1 500.1,277.3 500.4,278.0 500.6,278.6 500.8,281.5 501.1,279.4 501.4,278.2 501.6,278.6 501.9,279.3 502.1,280.0 502.4,278.1 502.7,277.7 502.9,279.2 503.1,281.0 503.4,277.0 503.6,278.6 503.9,278.4 504.1,281.1 504.4,279.1 504.7,278.2 504.9,280.3 505.1,279.5 505.4,278.4 505.6,279.5 505.9,276.7 506.1,278.5 506.4,280.4 506.6,278.3 506.9,279.8 507.2,278.9 507.4,278.8 507.6,283.8 507.9,278.5 508.1,277.4 508.4,278.4 508.6,279.2 508.9,281.5 509.1,279.3 509.4,280.6 509.6,281.0 509.9,280.2 510.1,280.1 510.4,283.2 510.7,278.7 510.8,279.6 511.1,278.0 511.4,279.5 511.6,283.9 511.9,281.1 512.1,279.6 512.4,278.9 512.6,278.8 512.9,282.4 513.1,278.4 513.4,284.2 513.6,278.3 513.9,284.0 514.1,283.0 514.4,278.4 514.6,282.5 514.9,280.3 515.1,279.3 515.4,280.0 515.6,284.4 515.9,279.6 516.1,278.1 516.4,284.4 516.6,281.0 516.9,278.2 517.1,285.0 517.4,280.7 517.6,283.0 517.9,279.5 518.1,283.7 518.4,280.1 518.6,283.4 518.9,282.8 519.1,284.1 519.4,280.9 519.6,282.7 519.9,279.4 520.1,283.8 520.4,280.4 520.6,281.7 520.9,287.4 521.1,284.3 521.4,280.6 521.6,282.5 521.9,284.7 522.1,282.3 522.4,284.8 522.6,284.4 522.9,282.8 523.1,281.1 523.4,284.7 523.6,283.2 523.9,285.1 524.1,283.3 524.4,281.7 524.6,284.7 524.9,283.1 525.1,283.9 525.4,285.0 525.6,283.8 525.9,284.8 526.1,283.7 526.4,285.7 526.6,285.1 526.9,283.0 527.1,281.7 527.4,286.4 527.6,285.4 527.9,284.5 528.1,285.5 528.4,287.8 528.6,286.4 528.9,282.1 529.1,286.3 529.4,282.5 529.6,285.0 529.9,281.6 530.1,286.6 530.4,286.1 530.6,283.6 530.9,287.0 531.1,284.4 531.4,287.9 531.6,286.1 531.9,284.1 532.1,288.4 532.4,286.9 532.6,283.9 532.9,287.0 533.1,286.3 533.4,282.9 533.6,287.1 533.9,285.6 534.1,287.1 534.4,284.2 534.6,287.3 534.9,284.6 535.1,287.4 535.4,284.1 535.6,285.8 535.9,289.2 536.1,287.7 536.4,285.7 536.6,285.8 536.9,287.0 537.1,286.5 537.4,288.7 537.6,288.8 537.9,284.1 538.1,287.0 538.4,284.0 538.6,288.1 538.9,284.9 539.1,288.2 539.4,290.4 539.6,287.2 539.9,289.9 540.1,286.0 540.4,288.7 540.6,288.4 540.9,285.6 541.1,291.3 541.4,285.9 541.6,289.4 541.9,286.9 542.1,288.2 542.4,285.3 542.6,286.0 542.9,288.3 543.1,286.3 543.4,290.0 543.6,288.5 543.9,286.5 544.1,291.5 544.4,288.1 544.6,291.0 544.9,289.6 545.1,287.3 545.4,289.4 545.6,284.1 545.9,291.3 546.1,291.4 546.4,289.5 546.6,287.9 546.9,293.1 547.1,286.2 547.4,289.3 547.6,288.9 547.9,288.1 548.1,288.1 548.4,289.8 548.6,289.5 548.9,290.3 549.1,292.3 549.4,288.0 549.6,288.1 549.9,291.5 550.1,288.3 550.4,287.2 550.6,289.2 550.9,292.9 551.1,289.5 551.4,288.8 551.6,289.6 551.9,291.1 552.1,290.9 552.4,289.5 552.6,291.9 552.9,290.2 553.1,288.9 553.4,292.4 553.6,292.5 553.9,289.4 554.1,289.4 554.4,291.2 554.6,289.7 554.9,287.7 555.1,288.6 555.4,293.3 555.6,292.1 555.9,288.6 556.1,287.6 556.4,293.2 556.6,292.5 556.9,290.3 557.1,289.4 557.4,293.6 557.6,290.2 557.9,292.0 558.1,293.0 558.4,289.7 558.6,289.8 558.9,293.5 559.1,293.5 559.4,291.2 559.6,294.4 559.9,289.5 560.1,289.3 560.4,292.7 560.6,291.0 560.9,293.8 561.1,292.2 561.4,290.9 561.6,291.5 561.9,293.5 562.1,290.3 562.4,291.7 562.6,294.3 562.9,292.2 563.1,293.6 563.4,289.2 563.6,294.6 563.9,291.8 564.1,291.5 564.4,294.0 564.6,291.6 564.9,294.2 565.1,292.0 565.4,294.3 565.6,296.1 565.9,292.0 566.1,296.1 566.4,291.8 566.6,292.7 566.9,290.7 567.1,293.3 567.4,295.7 567.6,292.2 567.9,294.9 568.1,295.3 568.4,293.9 568.6,294.1 568.9,295.7 569.1,295.7 569.4,290.4 569.6,291.8 569.9,296.4 570.1,296.3 570.4,290.9 570.6,294.8 570.9,295.6 571.1,296.2 571.4,293.1 571.6,295.8 571.9,293.1 572.1,296.0 572.4,293.8 572.6,295.0 572.9,293.2 573.1,297.5 573.4,292.0 573.6,298.1 573.9,293.7 574.1,294.4 574.4,297.7 574.6,297.1 574.9,294.3 575.1,295.3 575.4,297.3 575.6,296.9 575.9,294.7 576.1,292.7 576.4,297.5 576.6,294.4 576.9,296.8 577.1,297.5 577.4,294.4 577.6,299.2 577.9,292.7 578.1,294.5 578.4,298.7 578.6,297.0 578.9,294.5 579.1,295.2 579.4,301.3 579.6,300.8 579.9,296.1 580.1,298.9 580.4,293.5 580.6,295.4 580.9,298.2 581.1,298.4 581.4,295.9 581.6,294.6 581.9,300.7 582.1,299.9 582.4,296.3 582.6,299.4 582.9,295.4 583.1,296.3 583.4,298.1 583.6,296.8 583.9,299.1 584.1,297.0 584.4,299.9 584.6,299.6 584.9,294.2 585.1,295.6 585.4,302.6 585.6,296.9 585.9,300.1 586.1,295.6 586.4,300.3 586.6,294.6 586.9,301.6 587.1,299.4 587.4,297.2 587.6,297.3 587.9,299.9 588.1,297.4 588.4,300.4 588.6,300.7 588.9,297.2 589.1,301.3 589.4,294.7 589.6,297.0 589.9,300.3 590.1,301.5 590.4,297.7 590.6,296.9 590.9,300.9 591.1,295.8 591.4,299.6 591.6,300.9 591.9,298.2 592.1,298.0 592.4,301.8 592.6,298.8 592.9,301.8 593.1,298.5 593.4,302.5 593.6,300.6 593.9,296.6 594.1,299.6 594.4,296.8 594.6,298.6 594.9,301.2 595.1,298.1 595.4,302.4 595.6,302.0 595.9,298.0 596.1,299.3 596.4,302.1 596.6,301.3 596.9,300.2 597.1,300.6 597.4,297.5 597.6,302.1 597.9,299.3 598.1,297.6 598.4,303.6 598.6,303.1 598.9,299.6 599.1,303.3 599.4,299.9 599.6,302.5 599.9,299.1 600.1,304.1 600.4,300.8 600.6,303.1 600.9,298.3 601.1,299.7 601.4,303.8 601.6,298.8 601.9,303.3 602.1,299.8 602.4,302.9 602.6,299.3 602.9,303.2 603.1,299.7 603.4,302.6 603.6,300.0 603.9,305.0 604.1,300.2 604.4,303.1 604.6,300.1 604.9,304.2 605.1,299.9 605.4,305.1 605.6,301.3 605.9,305.3 606.1,299.7 606.4,304.8 606.6,303.9 606.9,301.8 607.1,300.9 607.4,304.3 607.6,300.8 607.9,305.1 608.1,301.8 608.4,305.9 608.6,303.8 608.9,298.9 609.1,305.9 609.4,299.8 609.6,301.4 609.9,304.3 610.1,299.7 610.4,305.9 610.6,305.0 610.9,301.0 611.1,302.1 611.4,305.1 611.6,302.5 611.9,306.3 612.1,302.2 612.4,307.9 612.6,299.0 612.9,305.8 613.1,301.6 613.4,306.7 613.6,305.8 613.9,301.7 614.1,302.9 614.4,307.1 614.6,302.9 614.9,305.0 615.1,306.9 615.4,301.5 615.6,307.0 615.9,301.5 616.1,307.0 616.4,303.9 616.6,303.9 616.9,306.7 617.1,301.8 617.4,306.3 617.6,307.2 617.9,303.7 618.1,305.4 618.4,302.3 618.6,301.9 618.9,308.8 619.1,307.7 619.4,303.7 619.6,308.9 619.9,304.0 620.1,307.1 620.4,305.1 620.6,306.6 620.9,304.3 621.1,304.2 621.4,307.2 621.6,304.3 621.9,308.8 622.1,307.6 622.4,303.4 622.6,307.9 622.9,302.2 623.1,307.5 623.4,304.3 623.6,306.5 623.9,304.5 624.1,307.4 624.4,304.1 624.6,309.5 624.9,304.9 625.1,309.1 625.4,303.2 625.6,307.8 625.9,304.9 626.1,311.1 626.4,305.4 626.6,303.9 626.9,310.9 627.1,308.2 627.4,300.6 627.6,303.6 627.9,309.7 628.1,308.7 628.4,302.9 628.6,308.6 628.9,304.8 629.1,303.7 629.4,309.4 629.6,303.6 629.9,308.0 630.1,306.0 630.4,311.0 630.6,309.2 630.9,306.4 631.1,305.8 631.4,311.1 631.6,310.4 631.9,305.5 632.1,308.8 632.4,305.0 632.6,309.7 632.9,304.3 633.1,309.1 633.4,305.3 633.6,309.2 633.9,305.8 634.1,309.7 634.4,306.0 634.6,309.6 634.9,305.3 635.1,307.1 635.4,308.9 635.6,306.9 635.9,310.6 636.1,309.7 636.4,306.5 636.6,310.7 636.9,304.3 637.1,311.4 637.4,307.8 637.6,305.6 637.9,311.0 638.1,306.8 638.4,310.4 638.6,310.6 638.9,306.4 639.1,315.1 639.4,306.4 639.6,312.1 639.9,305.7 640.1,307.9 640.4,312.2 640.6,308.3 640.9,311.7 641.1,313.6 641.4,307.8 641.6,307.3 641.9,310.1 642.1,305.7 642.4,311.9 642.6,311.4 642.9,306.5 643.1,308.3 643.4,311.4 643.6,312.9 643.9,308.2 644.1,311.1 644.4,308.0 644.6,308.6 644.9,310.5 645.1,312.5 645.4,307.2 645.6,311.9 645.9,307.2 646.1,312.4 646.4,308.8 646.6,311.3 646.9,308.0 647.1,312.1 647.4,308.3 647.6,313.1 647.9,308.1 648.1,307.5 648.4,311.5 648.6,306.5 648.9,311.9 649.1,309.2 649.4,312.4 649.6,307.5 649.9,312.6 650.1,308.9 650.4,313.5 650.6,307.4 650.9,312.8 651.1,309.0 651.4,312.7 651.6,308.2 651.9,312.6 652.1,309.2 652.4,313.2 652.6,314.9 652.9,308.4 653.1,310.5 653.4,314.8 653.6,313.0 653.9,308.7 654.1,314.6 654.4,309.7 654.6,308.7 654.9,313.1 655.1,313.1 655.4,308.0 655.6,308.0 655.9,315.5 656.1,313.4 656.4,308.7 656.6,315.9 656.9,310.3 657.1,312.8 657.4,306.9 657.6,315.7 657.9,309.1 658.1,309.7 658.4,314.5 658.6,310.1 658.9,315.1 659.1,315.7 659.4,310.1 659.6,309.6 659.9,313.9 660.1,315.3 660.4,309.7 660.6,313.4 660.9,309.3 661.1,315.5 661.4,312.0 661.6,314.1 661.9,310.2 662.1,311.8 662.4,315.2 662.6,315.7 662.9,310.8 663.1,311.5 663.4,315.1 663.6,309.4 663.9,314.5 664.1,314.1 664.4,310.8 664.6,309.6 664.9,315.2 665.1,312.0 665.4,315.1 665.6,317.7 665.9,310.7 666.1,314.3 666.4,310.0 666.6,316.4 666.9,310.7 667.1,315.1 667.4,310.8 667.6,315.3 667.9,311.3 668.1,309.1 668.4,316.6 668.6,311.2 668.9,315.7 669.1,316.5 669.4,311.4 669.6,311.7 669.9,315.4 670.1,311.3 670.4,315.1 670.6,311.6 670.9,315.8 671.1,310.2 671.4,317.0 671.6,311.2 671.9,315.2 672.1,316.7 672.4,310.5 672.6,316.0 672.9,310.1 673.1,311.9 673.4,316.6 673.6,316.6 673.9,313.1 674.1,315.4 674.4,312.9 674.6,312.6 674.9,316.6 675.1,316.6 675.4,310.4 675.6,313.3 675.9,316.5 676.1,316.5 676.4,312.4 676.6,317.3 676.9,311.7 677.1,316.4 677.4,312.5 677.6,316.6 677.9,311.6 678.1,311.4 678.4,316.9 678.6,311.5 678.9,316.5 679.1,312.3 679.4,317.3 679.6,310.1 679.9,318.3 680.1,316.2 680.4,312.2 680.6,311.4 680.9,317.0 681.1,317.2 681.4,311.5 681.6,313.9 681.9,317.0 682.1,310.9 682.4,317.6 682.6,318.1 682.9,313.5 683.1,311.5 683.4,316.9 683.6,317.8 683.9,313.2 684.1,318.3 684.4,313.9 684.6,318.9 684.9,313.5 685.1,318.8 685.4,311.7 685.6,313.1 685.9,317.0 686.1,320.1 686.4,313.4 686.6,313.5 686.9,318.3 687.1,314.3 687.4,317.1 687.6,313.0 687.9,317.6 688.1,313.6 688.4,318.6 688.6,318.3 688.9,313.7 689.1,318.9 689.4,312.8 689.6,318.0 689.9,314.1 690.1,321.2 690.4,315.2 690.6,318.5 690.9,314.8 691.1,313.6 691.4,320.3 691.6,314.4 691.9,317.3 692.1,318.8 692.4,313.7 692.6,315.0 692.9,320.3 693.1,313.1 693.4,319.0 693.6,318.5 693.9,315.5 694.1,313.6 694.4,318.4 694.6,317.9 694.9,313.9 695.1,318.5 695.4,314.5 695.6,314.6 695.9,319.9 696.1,313.8 696.4,319.0 696.6,318.1 696.9,315.0 697.1,321.7 697.4,314.5 697.6,320.7 697.9,312.5 698.1,318.2 698.4,313.9 698.6,318.7 698.9,314.5 699.1,319.4 699.4,315.5 699.6,314.6 699.9,320.6 700.1,314.8 700.4,320.5 700.6,321.4 700.9,314.2 701.1,314.7 701.4,320.3 701.6,315.0 701.9,319.2 702.1,316.1 702.4,320.0 702.6,319.7 702.9,316.2 703.1,315.4 703.4,321.1 703.6,314.2 703.9,320.1 704.1,315.2 704.4,321.4 704.6,321.2 704.9,315.1 705.1,315.0 705.4,320.2 705.6,314.6 705.9,319.4 706.1,322.9 706.4,313.8 706.6,319.8 706.9,316.0 707.1,322.2 707.4,314.8 707.6,316.1 707.9,320.4 708.1,320.9 708.4,315.5 708.6,321.4 708.9,316.2 709.1,317.0 709.4,322.9 709.6,320.6 709.9,317.0 710.1,321.9 710.4,316.4 710.6,322.1 710.9,315.9 711.1,320.3 711.4,317.5 711.6,317.2 711.9,323.2 712.1,315.9 712.4,321.7 712.6,322.8 712.9,316.1 713.1,317.5 713.4,322.4 713.6,315.8 713.9,321.6 714.1,323.6 714.4,317.7 714.6,317.0 714.9,323.3 715.1,323.5 715.4,316.4 715.6,323.3 715.9,316.6 716.1,322.5 716.4,317.6 716.6,317.9 716.9,322.2 717.1,317.6 717.4,321.5 717.6,316.7 717.9,321.8 718.1,322.1 718.4,317.5 718.6,317.8 718.9,321.9 719.1,321.9 719.4,318.2 719.6,322.3 719.9,317.1 720.1,318.1 720.4,324.1 720.6,323.0 720.9,318.7 721.1,322.6 721.4,317.2 721.6,323.6 721.9,318.9 722.1,316.4 722.4,321.4 722.6,323.1 722.9,317.8 723.1,323.9 723.4,318.4 723.6,318.3 723.9,322.6 724.1,322.8 724.4,317.4 724.6,316.5 724.9,322.1 725.1,316.6 725.4,323.7 725.6,323.4 725.9,319.6 726.1,318.2 726.4,323.0 726.6,324.4 726.9,318.5 727.1,323.8 727.4,318.9 727.6,323.8 727.9,317.9 728.1,318.1 728.4,324.3 728.6,318.5 728.9,324.4 729.1,317.6 729.4,324.4 729.6,318.0 729.9,323.7 730.1,318.2 730.4,324.5 730.6,324.4 730.9,319.1 731.1,326.1 731.4,318.1 731.6,317.6 731.9,325.2 732.1,324.7 732.4,319.6 732.6,320.3 732.9,325.6 733.1,319.5 733.4,325.8 733.6,324.7 733.9,318.4 734.1,323.6 734.4,318.3 734.6,324.6 734.9,318.0 735.1,325.5 735.4,319.9 735.6,319.9 735.9,325.4 736.1,325.2 736.4,320.1 736.6,326.1 736.9,319.5 737.1,319.4 737.4,325.4 737.6,319.5 737.9,325.4 738.1,324.2 738.4,318.7 738.6,320.6 738.9,325.1 739.1,317.7 739.4,324.1 739.6,319.8 739.9,323.9 740.1,319.6 740.4,326.4 740.6,325.4 740.9,320.1 741.1,319.6 741.4,325.0 741.6,325.0 741.9,320.5 742.1,325.8 742.4,319.3 742.6,320.5 742.9,325.2 743.1,320.4 743.4,326.5 743.6,325.3 743.9,319.0 744.1,319.5 744.4,325.6 744.6,325.2 744.9,321.6 745.1,325.1 745.4,320.0 745.6,325.2 745.9,318.6 746.1,326.2 746.4,320.2 746.6,326.3 746.9,321.0 747.1,325.8 747.4,320.4 747.6,319.9 747.9,325.0 748.1,325.8 748.4,321.2 748.6,320.1 748.9,326.5 749.1,326.0 749.4,320.9 749.6,325.8 749.9,320.9 750.1,321.0 750.4,326.0 750.6,326.4 750.9,320.3 751.1,326.4 751.4,320.7 751.6,326.4 751.9,319.8 752.1,326.2 752.4,321.5 752.6,328.1 752.9,319.9 753.1,321.7 753.4,326.4 753.6,321.7 753.9,326.7 754.1,321.4 754.4,328.0 754.6,321.4 754.9,326.7 755.1,322.2 755.4,327.0 755.6,321.7 755.9,329.3 756.1,327.2 756.4,321.2 756.6,321.6 756.9,327.7 757.1,326.6 757.4,321.9 757.6,321.6 757.9,327.0 758.1,327.0 758.4,321.2 758.6,327.3 758.9,321.8 759.1,321.2 759.4,326.5 759.6,327.8 759.9,320.8 760.1,320.5 760.4,326.4 760.6,327.8 760.9,321.7 761.1,327.8 761.4,323.1 761.6,326.9 761.9,321.8 762.1,328.6 762.4,322.9 762.6,321.1 762.9,326.5 763.1,328.0 763.4,322.6 763.6,327.7 763.9,322.3 764.1,319.9 764.4,327.8 764.6,322.3 764.9,328.2 765.1,322.8 765.4,327.4 765.6,322.5 765.9,327.5 766.1,321.1 766.4,327.4 766.6,327.1 766.9,322.3 767.1,328.4 767.4,321.9 767.6,321.6 767.9,326.7 768.1,321.8 768.4,328.3 768.6,328.2 768.9,322.1 769.1,327.2 769.4,321.9 769.6,319.9 769.9,326.5 770.1,322.8 770.4,327.4 770.6,323.3 770.9,328.7 771.1,327.1 771.4,323.1 771.6,321.5 771.9,329.3 772.1,328.0 772.4,321.9 772.6,328.2 772.9,322.7 773.1,323.1 773.4,329.2 773.6,320.0 773.9,328.0 774.1,327.3 774.4,322.0 774.6,322.5 774.9,328.6 775.1,322.4 775.4,328.8 775.6,321.9 775.9,328.6 776.1,323.1 776.4,328.2 776.6,328.0 776.9,321.9 777.1,322.7 777.4,329.1 777.6,327.7 777.9,322.7 778.1,328.1 778.4,323.0 778.6,322.0 778.9,330.8 779.1,329.4 779.4,322.9 779.6,323.4 779.9,328.0 780.1,329.2 780.4,322.5 780.6,322.5 780.9,328.0 781.1,328.3 781.4,322.4 781.6,330.1 781.9,321.2 782.1,328.7 782.4,322.5 782.6,328.8 782.9,322.7 783.1,322.8 783.4,327.9 783.6,321.8 783.9,328.2 784.1,322.5 784.4,329.0 784.6,323.7 784.9,330.3 785.1,328.8 785.4,321.8 785.6,328.5 785.9,322.5 786.1,328.4 786.4,321.3 786.6,323.0 786.9,328.0 787.1,324.1 787.4,328.4 787.6,323.6 787.9,328.2 788.1,323.4 788.4,330.0 788.6,324.1 788.9,327.7 789.1,328.9 789.4,321.5 789.6,323.6 789.9,328.8 790.1,323.1 790.4,328.4 790.6,323.6 790.9,329.2 791.1,322.8 791.4,328.8 791.6,324.2 791.9,328.3 792.1,323.8 792.4,327.2 792.6,328.9 792.9,322.1 793.1,330.3 793.4,322.8 793.6,321.5 793.9,329.9 794.1,328.4 794.4,324.2" stroke="#c55a11" stroke-width="2.2" fill="none" stroke-linejoin="round" stroke-linecap="butt"/>
<path d="M44.6,105.4 48.6,109.6 55.9,115.7 62.6,119.1 69.4,126.7 75.9,133.2 83.8,134.0 87.7,141.8 92.6,145.2 99.1,146.4 102.4,151.6 106.1,153.5 109.2,152.0 112.2,155.9 118.3,160.7 124.5,165.5 131.2,168.4 134.4,174.4 138.8,174.6 144.7,181.8 149.8,182.2 153.5,185.0 157.2,183.5 161.6,188.7 166.7,194.0 169.6,193.3 172.6,194.7 175.5,199.9 180.7,199.5 185.0,205.7 187.1,204.2 189.2,204.2 191.3,207.9 193.4,208.6 195.4,209.2 197.3,210.7 199.3,211.1 201.2,214.1 203.1,214.3 205.0,214.2 206.8,216.4 208.6,216.1 210.4,218.4 212.2,218.5 213.9,219.2 215.6,219.5 217.3,221.0 219.0,221.6 220.6,222.3 222.2,224.6 223.9,224.1 225.4,223.3 227.0,224.8 228.6,227.7 230.1,227.6 231.6,228.2 233.1,227.8 234.6,230.6 236.0,230.1 237.5,233.4 238.9,233.1 240.3,233.1 241.7,232.9 243.1,231.3 244.5,232.9 245.8,234.2 247.2,235.8 248.5,236.8 249.8,236.9 251.3,238.4 252.6,240.0 253.9,241.1 255.1,240.9 256.4,240.6 257.6,241.5 258.8,243.7 260.0,242.0 261.2,243.0 262.4,244.8 263.6,245.8 264.8,245.6 265.9,246.3 267.1,247.1 268.2,246.6 269.3,246.9 270.5,249.3 271.6,249.4 272.7,249.7 273.7,248.5 274.8,249.8 275.9,250.8 277.0,250.5 278.0,252.2 279.1,254.2 280.1,252.4 281.1,253.5 282.1,254.3 283.2,254.4 284.2,255.6 285.2,255.7 286.1,256.9 287.1,257.1 288.1,258.7 289.1,258.8 290.0,258.2 291.0,258.8 291.9,259.9 292.9,260.4 293.8,257.4 294.7,260.0 295.6,260.1 296.5,261.4 297.4,261.3 298.3,261.4 299.2,261.1 300.1,263.7 301.0,264.5 301.9,263.8 302.7,264.5 303.6,264.1 304.5,264.5 305.3,266.2 306.2,266.0 307.0,265.1 307.8,267.1 308.7,268.0 309.5,267.3 310.3,267.8 311.1,268.0 311.9,268.5 312.7,267.9 313.5,269.7 314.3,270.9 315.1,269.0 315.9,269.3 316.7,268.3 317.5,270.7 318.2,270.4 319.0,271.1 319.7,272.7 320.5,271.7 321.3,268.6 322.0,273.0 322.7,272.5 323.5,271.4 324.2,273.7 325.0,275.3 325.7,275.2 326.4,276.3 327.1,277.2 327.8,275.7 328.5,275.0 329.2,276.3 330.0,276.4 330.7,273.7 331.3,277.2 332.0,274.6 332.7,277.7 333.4,277.5 334.1,276.8 334.8,277.8 335.4,275.6 336.1,275.5 336.8,278.4 337.4,278.2 338.1,278.0 338.8,277.3 339.4,277.6 340.1,278.5 340.7,279.5 341.3,277.2 342.0,278.8 342.6,279.6 343.3,277.7 343.9,277.9 344.5,280.2 345.1,280.0 345.8,281.8 346.4,281.8 347.0,282.0 347.6,281.9 348.2,284.6 348.8,282.7 349.4,281.0 350.0,282.4 350.6,284.8 351.2,284.1 351.8,283.8 352.4,285.6 353.0,284.2 353.6,285.4 354.2,283.7 354.7,285.0 355.3,285.6 355.9,283.9 356.5,283.1 357.0,283.5 357.6,284.4 358.2,286.9 358.7,285.6 359.3,286.5 359.8,285.7 360.4,286.5 360.9,287.4 361.5,286.3 362.0,287.0 362.6,287.3 363.1,287.0 363.7,287.5 364.2,288.6 364.7,285.0 365.3,290.4 365.8,291.4 366.3,288.9 366.9,288.0 367.4,289.2 367.9,290.5 368.4,290.7 368.9,287.8 369.5,290.5 370.0,290.2 370.5,292.5 371.0,289.7 371.5,291.7 372.0,290.3 372.5,290.7 373.0,291.4 373.5,292.9 374.0,293.5 374.5,290.6 375.0,290.6 375.5,291.5 376.0,294.0 376.5,292.0 377.0,295.2 377.5,290.2 377.9,293.4 378.4,293.7 378.9,293.5 379.4,294.2 379.9,296.2 380.3,293.5 380.8,294.3 381.3,294.2 381.7,293.4 382.2,296.9 382.7,296.7 383.1,295.1 383.6,295.7 384.1,297.7 384.5,294.7 385.0,296.4 385.4,297.3 385.9,294.8 386.4,295.9 386.8,296.1 387.3,295.1 387.7,296.8 388.1,297.3 388.6,296.3 389.0,299.1 389.5,298.3 389.9,298.7 390.4,298.6 390.8,300.3 391.2,298.0 391.7,298.2 392.1,296.2 392.5,299.7 393.0,298.6 393.4,299.1 393.8,299.5 394.2,299.1 394.7,301.3 395.1,298.9 395.5,298.1 395.9,299.5 396.4,298.7 396.8,299.8 397.2,300.8 397.6,301.1 398.0,301.9 398.4,304.2 398.8,299.2 399.2,300.7 399.7,302.2 400.1,300.8 400.5,302.2 400.9,299.4 401.3,301.8 401.7,305.2 402.1,301.5 402.5,301.7 402.9,303.7 403.3,303.8 403.7,305.2 404.1,305.0 404.5,303.5 404.9,306.1 405.2,300.7 405.6,303.2 406.0,305.3 406.4,303.8 406.8,304.1 407.2,305.1 407.6,304.3 407.9,304.3 408.3,304.6 408.7,303.4 409.1,303.9 409.5,306.6 409.8,303.1 410.2,304.7 410.6,304.5 411.0,306.0 411.3,305.1 411.7,306.3 412.1,304.7 412.5,306.0 412.8,304.3 413.2,304.7 413.6,306.7 413.9,307.3 414.3,309.2 414.7,305.5 415.0,306.9 415.4,305.9 415.7,305.8 416.1,304.6 416.5,305.8 416.8,305.6 417.2,307.3 417.5,306.5 417.9,307.2 418.2,304.5 418.6,306.6 418.9,306.1 419.3,306.5 419.6,308.1 420.0,307.8 420.3,306.5 420.7,304.8 421.0,308.2 421.4,307.3 421.7,308.1 422.1,309.3 422.4,310.0 422.7,309.1 423.1,310.0 423.4,312.9 423.8,310.6 424.1,312.7 424.4,314.1 424.8,311.1 425.1,313.5 425.4,311.0 425.8,312.9 426.1,312.8 426.4,312.7 426.8,312.6 427.1,313.1 427.4,312.4 427.8,312.5 428.1,316.1 428.4,313.1 428.7,316.2 429.1,313.5 429.4,314.6 429.7,316.2 430.0,315.9 430.4,313.3 430.7,314.2 431.0,313.6 431.3,317.8 431.6,315.5 431.9,316.4 432.3,314.1 432.6,317.8 432.9,314.7 433.2,318.1 433.5,315.9 433.8,318.0 434.2,318.8 434.5,316.5 434.8,316.7 435.1,316.2 435.4,319.1 435.7,318.7 436.0,316.8 436.3,315.5 436.6,315.6 436.9,317.7 437.2,316.4 437.5,317.7 437.8,319.9 438.1,322.0 438.4,318.0 438.7,316.0 439.0,319.2 439.3,316.6 439.6,318.3 439.9,319.5 440.2,319.9 440.5,320.6 440.8,321.8 441.1,320.9 441.4,318.5 441.7,321.0 442.0,320.8 442.3,319.5 442.6,323.0 442.9,320.7 443.2,320.2 443.5,320.5 443.8,321.2 444.1,321.8 444.3,320.4 444.6,322.4 444.9,322.7 445.2,321.8 445.5,322.6 445.8,323.5 446.1,323.2 446.3,321.4 446.6,322.8 446.9,324.2 447.2,324.5 447.5,322.3 447.8,321.7 448.0,323.7 448.3,322.7 448.6,323.7 448.9,323.5 449.2,324.1 449.4,323.8 449.7,324.9 450.0,327.9 450.3,322.3 450.5,322.4 450.8,324.8 451.1,325.2 451.4,327.7 451.6,321.9 451.9,325.8 452.2,325.8 452.4,326.0 452.7,323.4 453.0,326.4 453.3,327.5 453.5,324.4 453.8,328.5 454.1,325.4 454.3,326.0 454.6,326.9 454.9,326.9 455.1,324.4 455.4,327.2 455.7,328.4 455.9,328.6 456.2,327.1 456.4,328.4 456.7,326.9 457.0,328.2 457.2,329.2 457.5,331.0 457.7,327.8 458.0,328.1 458.3,326.2 458.5,326.8 458.8,329.4 459.0,329.7 459.3,326.4 459.6,328.4 459.8,328.1 460.1,328.9 460.3,329.8 460.6,328.7 460.8,327.1 461.1,328.8 461.3,330.1 461.6,329.3 461.8,328.9 462.1,328.5 462.3,328.0 462.6,330.4 462.8,329.0 463.1,329.4 463.3,328.3 463.6,331.7 463.8,329.7 464.1,329.0 464.3,331.3 464.6,329.0 464.8,333.3 465.1,332.5 465.3,330.6 465.6,329.7 465.8,329.9 466.0,330.7 466.3,332.4 466.5,330.4 466.8,331.4 467.1,330.0 467.4,332.2 467.7,331.5 468.0,330.2 468.2,330.8 468.5,332.7 468.7,333.3 468.9,331.8 469.2,335.5 469.4,332.1 469.6,332.0 469.9,334.0 470.1,331.5 470.4,331.0 470.6,333.3 470.8,331.7 471.1,334.6 471.3,333.4 471.6,333.6 471.9,331.6 472.2,331.1 472.5,331.7 472.7,332.3 472.9,330.2 473.1,331.9 473.4,331.8 473.6,331.4 473.8,331.6 474.1,332.5 474.3,334.9 474.6,334.8 474.9,338.4 475.2,335.3 475.4,335.7 475.7,336.0 475.9,334.3 476.1,335.1 476.3,333.9 476.6,335.3 476.8,330.9 477.1,335.1 477.4,329.6 477.7,336.4 477.9,336.4 478.1,332.9 478.3,332.3 478.6,336.5 478.8,334.2 479.1,333.0 479.4,334.4 479.7,338.1 479.9,335.6 480.1,335.3 480.3,335.9 480.6,334.5 480.9,338.7 481.2,335.8 481.4,335.3 481.6,335.7 481.8,336.3 482.1,338.3 482.4,334.6 482.7,339.6 482.9,339.4 483.1,334.1 483.3,338.7 483.6,339.5 483.9,336.3 484.2,336.9 484.4,339.0 484.6,336.7 484.8,337.1 485.1,335.9 485.4,338.0 485.7,337.2 485.9,336.9 486.1,337.3 486.4,336.9 486.7,336.5 486.9,339.2 487.1,339.0 487.3,339.0 487.6,338.6 487.9,336.8 488.1,339.7 488.3,339.6 488.6,341.0 488.9,336.9 489.2,340.5 489.4,337.2 489.6,335.9 489.9,339.6 490.2,339.5 490.4,337.3 490.6,338.5 490.9,341.2 491.2,340.2 491.4,339.1 491.6,341.1 491.9,338.5 492.2,340.3 492.4,339.1 492.6,337.1 492.9,340.4 493.2,340.8 493.4,340.5 493.6,337.0 493.9,340.3 494.2,342.7 494.3,338.9 494.6,337.8 494.9,342.5 495.1,339.5 495.3,346.2 495.6,339.3 495.9,340.4 496.1,339.9 496.4,342.5 496.7,342.9 496.9,343.7 497.1,341.9 497.4,342.9 497.6,341.9 497.8,344.4 498.1,342.5 498.4,340.3 498.6,342.5 498.9,341.0 499.1,341.3 499.3,343.0 499.6,345.9 499.9,342.0 500.1,340.5 500.4,343.8 500.6,341.9 500.8,343.0 501.1,341.3 501.4,344.5 501.6,341.8 501.9,341.2 502.1,342.5 502.4,346.5 502.7,343.4 502.9,342.4 503.1,343.9 503.4,342.4 503.6,345.1 503.9,342.3 504.1,342.7 504.4,345.0 504.7,343.5 504.9,343.1 505.1,342.9 505.4,344.3 505.6,345.2 505.9,341.9 506.1,344.4 506.4,345.5 506.6,346.1 506.9,344.7 507.2,345.4 507.4,342.5 507.6,344.6 507.9,345.7 508.1,344.6 508.4,346.2 508.6,345.0 508.9,346.0 509.1,344.5 509.4,347.0 509.6,345.7 509.9,344.6 510.1,346.3 510.4,344.7 510.7,345.7 510.8,346.2 511.1,348.7 511.4,345.4 511.6,349.0 511.9,345.7 512.1,347.7 512.4,345.6 512.6,345.4 512.9,347.6 513.1,347.6 513.4,343.9 513.6,349.8 513.9,346.6 514.1,345.8 514.4,351.1 514.6,345.5 514.9,349.4 515.1,347.3 515.4,348.6 515.6,350.3 515.9,345.4 516.1,347.4 516.4,350.0 516.6,349.8 516.9,347.2 517.1,348.2 517.4,347.3 517.6,351.6 517.9,347.0 518.1,349.5 518.4,348.3 518.6,347.5 518.9,351.9 519.1,348.1 519.4,350.8 519.6,347.4 519.9,349.5 520.1,348.9 520.4,349.3 520.6,347.1 520.9,349.1 521.1,348.9 521.4,350.0 521.6,348.8 521.9,350.3 522.1,352.5 522.4,349.2 522.6,352.2 522.9,349.9 523.1,352.2 523.4,349.5 523.6,350.3 523.9,347.4 524.1,350.1 524.4,348.6 524.6,350.1 524.9,354.9 525.1,351.6 525.4,350.1 525.6,352.3 525.9,349.8 526.1,350.8 526.4,351.5 526.6,353.5 526.9,349.4 527.1,353.0 527.4,349.9 527.6,351.8 527.9,352.6 528.1,351.3 528.4,355.5 528.6,352.4 528.9,352.9 529.1,351.6 529.4,355.2 529.6,349.4 529.9,353.2 530.1,350.7 530.4,352.6 530.6,351.7 530.9,350.1 531.1,353.4 531.4,352.0 531.6,351.7 531.9,354.5 532.1,353.6 532.4,354.9 532.6,353.4 532.9,352.4 533.1,354.1 533.4,352.3 533.6,353.2 533.9,355.6 534.1,354.1 534.4,352.8 534.6,356.5 534.9,352.5 535.1,353.3 535.4,355.9 535.6,352.4 535.9,355.6 536.1,352.5 536.4,354.1 536.6,355.7 536.9,354.8 537.1,356.5 537.4,354.0 537.6,355.2 537.9,353.7 538.1,355.4 538.4,352.8 538.6,354.7 538.9,357.6 539.1,357.0 539.4,355.9 539.6,353.9 539.9,358.7 540.1,357.9 540.4,355.2 540.6,356.5 540.9,353.0 541.1,357.8 541.4,355.5 541.6,357.5 541.9,353.9 542.1,357.9 542.4,356.5 542.6,359.0 542.9,354.6 543.1,358.7 543.4,354.5 543.6,354.8 543.9,357.4 544.1,357.9 544.4,354.8 544.6,355.1 544.9,359.8 545.1,358.7 545.4,357.1 545.6,359.1 545.9,356.1 546.1,358.7 546.4,356.0 546.6,358.7 546.9,355.6 547.1,358.2 547.4,355.5 547.6,359.8 547.9,355.5 548.1,355.9 548.4,360.9 548.6,359.1 548.9,355.5 549.1,359.6 549.4,356.7 549.6,356.9 549.9,359.8 550.1,356.5 550.4,358.4 550.6,356.3 550.9,358.3 551.1,360.8 551.4,358.0 551.6,357.5 551.9,361.7 552.1,359.2 552.4,360.8 552.6,357.8 552.9,360.0 553.1,359.2 553.4,361.3 553.6,360.3 553.9,357.7 554.1,363.4 554.4,358.1 554.6,358.4 554.9,361.3 555.1,363.3 555.4,360.0 555.6,363.2 555.9,359.7 556.1,360.4 556.4,360.7 556.6,360.0 556.9,361.7 557.1,363.3 557.4,360.0 557.6,360.8 557.9,363.8 558.1,364.5 558.4,359.1 558.6,359.5 558.9,362.1 559.1,358.8 559.4,363.1 559.6,359.9 559.9,362.6 560.1,360.2 560.4,363.4 560.6,360.7 560.9,363.8 561.1,363.5 561.4,360.9 561.6,362.4 561.9,360.4 562.1,359.2 562.4,363.7 562.6,363.8 562.9,361.6 563.1,361.7 563.4,365.0 563.6,363.4 563.9,360.4 564.1,362.8 564.4,364.5 564.6,361.5 564.9,365.6 565.1,361.3 565.4,365.1 565.6,361.8 565.9,365.0 566.1,360.9 566.4,368.1 566.6,362.3 566.9,364.0 567.1,360.6 567.4,363.7 567.6,362.4 567.9,364.0 568.1,362.5 568.4,366.5 568.6,366.1 568.9,362.6 569.1,363.1 569.4,365.9 569.6,363.9 569.9,364.3 570.1,363.1 570.4,366.9 570.6,365.5 570.9,361.8 571.1,362.8 571.4,365.2 571.6,362.6 571.9,367.3 572.1,365.8 572.4,367.6 572.6,363.2 572.9,368.3 573.1,367.3 573.4,363.5 573.6,364.3 573.9,368.7 574.1,364.4 574.4,368.3 574.6,363.3 574.9,367.4 575.1,365.1 575.4,367.8 575.6,366.3 575.9,369.3 576.1,368.7 576.4,364.7 576.6,364.5 576.9,366.9 577.1,370.0 577.4,364.6 577.6,364.1 577.9,367.9 578.1,365.5 578.4,369.1 578.6,367.8 578.9,363.3 579.1,370.1 579.4,366.6 579.6,367.5 579.9,365.1 580.1,365.6 580.4,368.6 580.6,365.0 580.9,370.0 581.1,368.4 581.4,363.9 581.6,369.8 581.9,365.8 582.1,365.8 582.4,370.9 582.6,366.9 582.9,369.8 583.1,367.5 583.4,370.5 583.6,369.9 583.9,366.9 584.1,368.2 584.4,370.7 584.6,369.6 584.9,366.5 585.1,371.7 585.4,367.1 585.6,369.2 585.9,366.5 586.1,370.8 586.4,367.8 586.6,367.8 586.9,371.4 587.1,371.3 587.4,368.3 587.6,373.4 587.9,366.5 588.1,366.7 588.4,372.7 588.6,371.2 588.9,368.0 589.1,366.7 589.4,371.9 589.6,367.9 589.9,370.4 590.1,371.4 590.4,367.2 590.6,374.5 590.9,367.3 591.1,368.2 591.4,372.1 591.6,368.5 591.9,371.6 592.1,369.4 592.4,372.0 592.6,371.3 592.9,369.2 593.1,369.7 593.4,373.4 593.6,371.5 593.9,368.5 594.1,373.3 594.4,370.8 594.6,374.0 594.9,370.9 595.1,368.1 595.4,372.3 595.6,372.2 595.9,370.8 596.1,373.9 596.4,370.9 596.6,373.1 596.9,370.3 597.1,371.1 597.4,373.3 597.6,370.2 597.9,375.8 598.1,371.7 598.4,374.2 598.6,368.2 598.9,373.6 599.1,374.5 599.4,369.2 599.6,371.1 599.9,376.1 600.1,371.2 600.4,374.8 600.6,373.6 600.9,372.1 601.1,372.2 601.4,375.7 601.6,370.2 601.9,375.6 602.1,374.7 602.4,372.8 602.6,375.1 602.9,370.6 603.1,372.9 603.4,375.9 603.6,372.2 603.9,374.6 604.1,372.1 604.4,374.0 604.6,374.7 604.9,371.6 605.1,376.4 605.4,371.1 605.6,375.3 605.9,372.3 606.1,372.2 606.4,377.2 606.6,373.1 606.9,375.0 607.1,375.4 607.4,371.7 607.6,377.3 607.9,373.9 608.1,373.4 608.4,376.7 608.6,378.3 608.9,373.6 609.1,376.4 609.4,373.6 609.6,376.6 609.9,374.2 610.1,373.7 610.4,377.1 610.6,378.7 610.9,372.8 611.1,372.4 611.4,377.1 611.6,373.8 611.9,378.9 612.1,376.6 612.4,372.4 612.6,374.5 612.9,377.7 613.1,372.9 613.4,378.0 613.6,374.0 613.9,377.5 614.1,374.2 614.4,378.3 614.6,379.9 614.9,375.5 615.1,377.8 615.4,374.1 615.6,375.2 615.9,379.7 616.1,378.1 616.4,372.2 616.6,378.3 616.9,374.8 617.1,379.5 617.4,373.9 617.6,377.8 617.9,374.4 618.1,379.6 618.4,374.6 618.6,375.4 618.9,379.4 619.1,378.6 619.4,375.9 619.6,376.0 619.9,380.8 620.1,375.4 620.4,380.2 620.6,379.4 620.9,375.8 621.1,375.8 621.4,379.3 621.6,378.8 621.9,376.0 622.1,376.7 622.4,380.2 622.6,380.7 622.9,377.6 623.1,376.3 623.4,379.3 623.6,376.7 623.9,381.0 624.1,377.0 624.4,381.3 624.6,376.1 624.9,383.3 625.1,376.7 625.4,381.7 625.6,381.4 625.9,378.0 626.1,380.8 626.4,378.5 626.6,380.0 626.9,378.0 627.1,382.3 627.4,378.1 627.6,382.1 627.9,377.8 628.1,381.0 628.4,376.3 628.6,378.4 628.9,382.2 629.1,381.5 629.4,380.2 629.6,379.7 629.9,383.7 630.1,381.3 630.4,378.8 630.6,382.4 630.9,380.1 631.1,378.9 631.4,382.5 631.6,382.9 631.9,379.3 632.1,379.7 632.4,383.5 632.6,378.3 632.9,383.3 633.1,383.1 633.4,379.7 633.6,384.0 633.9,380.3 634.1,381.6 634.4,385.1 634.6,384.4 634.9,381.4 635.1,381.6 635.4,383.5 635.6,386.3 635.9,380.4 636.1,381.1 636.4,384.3 636.6,385.2 636.9,381.3 637.1,385.3 637.4,382.2 637.6,381.2 637.9,384.7 638.1,381.8 638.4,384.4 638.6,385.6 638.9,380.6 639.1,384.8 639.4,381.7 639.6,382.4 639.9,385.8 640.1,382.3 640.4,386.9 640.6,385.9 640.9,381.8 641.1,385.2 641.4,381.3 641.6,382.1 641.9,385.7 642.1,385.6 642.4,382.2 642.6,380.4 642.9,386.3 643.1,383.6 643.4,387.5 643.6,386.8 643.9,383.0 644.1,388.0 644.4,382.3 644.6,386.6 644.9,383.7 645.1,383.5 645.4,386.4 645.6,387.1 645.9,382.5 646.1,382.1 646.4,389.9 646.6,387.2 646.9,381.9 647.1,387.0 647.4,382.8 647.6,387.1 647.9,382.9 648.1,386.8 648.4,383.4 648.6,388.4 648.9,383.9 649.1,381.7 649.4,388.0 649.6,386.5 649.9,383.1 650.1,383.4 650.4,387.7 650.6,388.5 650.9,383.1 651.1,384.6 651.4,388.3 651.6,384.5 651.9,388.1 652.1,384.9 652.4,388.6 652.6,383.9 652.9,388.5 653.1,384.1 653.4,387.7 653.6,385.2 653.9,390.0 654.1,388.4 654.4,384.7 654.6,388.0 654.9,384.7 655.1,385.2 655.4,388.9 655.6,385.4 655.9,389.6 656.1,390.5 656.4,386.1 656.6,385.0 656.9,389.7 657.1,385.3 657.4,389.6 657.6,383.4 657.9,389.4 658.1,388.8 658.4,386.1 658.6,388.2 658.9,384.9 659.1,385.6 659.4,390.2 659.6,386.9 659.9,389.2 660.1,385.3 660.4,390.4 660.6,386.5 660.9,390.7 661.1,389.3 661.4,386.2 661.6,392.0 661.9,386.2 662.1,384.8 662.4,391.6 662.6,385.1 662.9,391.5 663.1,385.4 663.4,391.7 663.6,389.8 663.9,387.8 664.1,391.8 664.4,386.2 664.6,388.4 664.9,390.5 665.1,386.8 665.4,391.2 665.6,390.9 665.9,384.3 666.1,390.8 666.4,386.0 666.6,388.0 666.9,391.6 667.1,387.8 667.4,392.2 667.6,391.9 667.9,387.0 668.1,393.0 668.4,385.8 668.6,388.8 668.9,393.0 669.1,391.7 669.4,387.8 669.6,387.5 669.9,393.5 670.1,393.0 670.4,388.3 670.6,391.7 670.9,388.3 671.1,393.6 671.4,388.4 671.6,392.2 671.9,388.6 672.1,387.2 672.4,392.6 672.6,387.0 672.9,392.5 673.1,392.5 673.4,388.9 673.6,388.0 673.9,391.9 674.1,392.7 674.4,389.0 674.6,392.9 674.9,387.8 675.1,388.7 675.4,392.5 675.6,389.4 675.9,392.5 676.1,392.4 676.4,389.5 676.6,388.2 676.9,393.6 677.1,390.0 677.4,393.3 677.6,389.6 677.9,393.8 678.1,388.5 678.4,393.6 678.6,388.8 678.9,395.6 679.1,389.4 679.4,393.6 679.6,390.8 679.9,396.0 680.1,394.3 680.4,388.5 680.6,394.9 680.9,391.6 681.1,394.1 681.4,389.6 681.6,394.3 681.9,390.5 682.1,394.6 682.4,390.7 682.6,390.4 682.9,396.8 683.1,396.4 683.4,388.7 683.6,389.1 683.9,395.0 684.1,394.5 684.4,390.5 684.6,394.9 684.9,391.3 685.1,389.9 685.4,395.3 685.6,394.9 685.9,390.2 686.1,390.2 686.4,395.1 686.6,395.1 686.9,391.5 687.1,390.6 687.4,396.3 687.6,396.2 687.9,391.9 688.1,395.6 688.4,391.9 688.6,391.8 688.9,397.5 689.1,396.6 689.4,391.7 689.6,395.8 689.9,389.7 690.1,395.6 690.4,391.4 690.6,396.5 690.9,391.8 691.1,396.7 691.4,389.3 691.6,398.1 691.9,390.6 692.1,396.5 692.4,391.2 692.6,396.6 692.9,391.3 693.1,392.2 693.4,397.6 693.6,392.1 693.9,397.8 694.1,396.7 694.4,392.7 694.6,392.1 694.9,396.9 695.1,391.4 695.4,397.1 695.6,391.4 695.9,397.0 696.1,393.6 696.4,399.2 696.6,393.7 696.9,397.9 697.1,392.1 697.4,397.8 697.6,393.5 697.9,397.9 698.1,397.8 698.4,393.1 698.6,397.9 698.9,393.9 699.1,394.0 699.4,398.4 699.6,392.5 699.9,398.2 700.1,393.9 700.4,397.4 700.6,399.3 700.9,393.2 701.1,397.4 701.4,392.6 701.6,397.5 701.9,394.4 702.1,393.6 702.4,398.0 702.6,393.4 702.9,399.4 703.1,397.3 703.4,393.5 703.6,394.6 703.9,397.7 704.1,398.8 704.4,392.7 704.6,394.7 704.9,399.7 705.1,393.2 705.4,399.6 705.6,398.2 705.9,395.2 706.1,400.4 706.4,394.5 706.6,398.2 706.9,394.1 707.1,395.3 707.4,400.0 707.6,400.2 707.9,395.5 708.1,393.4 708.4,400.6 708.6,400.0 708.9,394.7 709.1,399.6 709.4,394.1 709.6,394.3 709.9,399.4 710.1,399.5 710.4,394.7 710.6,399.5 710.9,395.2 711.1,399.7 711.4,395.0 711.6,400.2 711.9,395.6 712.1,396.0 712.4,399.4 712.6,399.7 712.9,395.6 713.1,400.7 713.4,395.3 713.6,396.1 713.9,400.8 714.1,394.9 714.4,402.8 714.6,396.4 714.9,401.3 715.1,400.6 715.4,395.2 715.6,401.8 715.9,396.1 716.1,400.7 716.4,396.3 716.6,400.6 716.9,398.2 717.1,395.9 717.4,401.9 717.6,395.9 717.9,402.3 718.1,401.9 718.4,396.5 718.6,400.4 718.9,396.4 719.1,401.0 719.4,395.5 719.6,396.7 719.9,403.0 720.1,402.0 720.4,396.5 720.6,401.1 720.9,396.3 721.1,402.2 721.4,397.6 721.6,396.8 721.9,401.5 722.1,397.4 722.4,402.1 722.6,397.7 722.9,403.2 723.1,396.0 723.4,401.2 723.6,401.2 723.9,397.1 724.1,396.8 724.4,402.1 724.6,401.8 724.9,397.7 725.1,403.3 725.4,395.3 725.6,396.7 725.9,403.9 726.1,402.7 726.4,398.7 726.6,395.8 726.9,404.0 727.1,395.9 727.4,402.2 727.6,402.6 727.9,397.9 728.1,402.6 728.4,396.9 728.6,404.2 728.9,398.5 729.1,398.3 729.4,404.8 729.6,403.0 729.9,397.7 730.1,403.4 730.4,397.5 730.6,396.2 730.9,402.8 731.1,398.1 731.4,402.2 731.6,398.9 731.9,403.0 732.1,397.7 732.4,404.4 732.6,398.1 732.9,402.7 733.1,403.4 733.4,398.5 733.6,403.8 733.9,398.5 734.1,403.4 734.4,398.2 734.6,403.7 734.9,397.4 735.1,398.7 735.4,403.5 735.6,404.6 735.9,399.2 736.1,403.7 736.4,399.4 736.6,403.9 736.9,399.2 737.1,402.8 737.4,398.6 737.6,403.5 737.9,399.1 738.1,403.3 738.4,399.3 738.6,399.6 738.9,406.2 739.1,403.6 739.4,399.0 739.6,404.6 739.9,399.6 740.1,403.9 740.4,398.3 740.6,399.9 740.9,405.3 741.1,404.6 741.4,400.1 741.6,399.6 741.9,404.6 742.1,399.2 742.4,404.1 742.6,399.6 742.9,405.2 743.1,404.4 743.4,400.0 743.6,400.2 743.9,404.7 744.1,404.8 744.4,397.6 744.6,405.7 744.9,400.4 745.1,398.7 745.4,404.1 745.6,404.6 745.9,400.2 746.1,404.9 746.4,398.9 746.6,400.0 746.9,405.4 747.1,398.7 747.4,404.9 747.6,405.4 747.9,399.5 748.1,399.9 748.4,404.6 748.6,404.4 748.9,399.4 749.1,404.7 749.4,400.6 749.6,399.2 749.9,406.2 750.1,399.6 750.4,406.2 750.6,400.2 750.9,404.9 751.1,400.1 751.4,405.4 751.6,400.8 751.9,405.3 752.1,406.7 752.4,400.6 752.6,405.5 752.9,400.0 753.1,401.5 753.4,406.1 753.6,405.8 753.9,402.7 754.1,400.0 754.4,406.0 754.6,406.6 754.9,401.0 755.1,405.8 755.4,401.3 755.6,407.1 755.9,399.9 756.1,406.1 756.4,401.0 756.6,401.1 756.9,405.6 757.1,406.5 757.4,402.4 757.6,406.9 757.9,402.6 758.1,405.5 758.4,402.0 758.6,407.5 758.9,402.3 759.1,402.0 759.4,406.9 759.6,400.4 759.9,407.5 760.1,406.7 760.4,402.4 760.6,402.4 760.9,406.7 761.1,401.1 761.4,408.6 761.6,407.4 761.9,402.5 762.1,406.6 762.4,401.3 762.6,401.0 762.9,406.3 763.1,401.8 763.4,407.9 763.6,401.6 763.9,410.2 764.1,402.2 764.4,407.3 764.6,401.6 764.9,407.4 765.1,401.3 765.4,408.4 765.6,408.2 765.9,402.0 766.1,402.3 766.4,407.2 766.6,402.1 766.9,407.1 767.1,403.5 767.4,406.9 767.6,403.7 767.9,407.9 768.1,400.8 768.4,408.6 768.6,403.1 768.9,407.9 769.1,406.7 769.4,403.5 769.6,407.8 769.9,403.2 770.1,407.5 770.4,401.4 770.6,401.6 770.9,407.7 771.1,408.5 771.4,402.6 771.6,402.7 771.9,407.3 772.1,408.6 772.4,401.3 772.6,408.1 772.9,403.6 773.1,408.8 773.4,402.6 773.6,407.8 773.9,401.7 774.1,402.6 774.4,408.6 774.6,408.3 774.9,403.8 775.1,401.6 775.4,408.3 775.6,408.4 775.9,403.8 776.1,403.1 776.4,409.6 776.6,402.7 776.9,409.5 777.1,404.3 777.4,408.6 777.6,403.2 777.9,409.3 778.1,404.2 778.4,409.0 778.6,408.7 778.9,402.2 779.1,409.2 779.4,404.2 779.6,410.3 779.9,402.9 780.1,402.6 780.4,410.0 780.6,402.3 780.9,409.2 781.1,402.6 781.4,410.9 781.6,404.0 781.9,409.6 782.1,409.3 782.4,403.3 782.6,404.0 782.9,409.7 783.1,404.4 783.4,409.6 783.6,409.4 783.9,403.0 784.1,403.8 784.4,409.7 784.6,404.0 784.9,409.4 785.1,403.5 785.4,410.4 785.6,403.1 785.9,410.3 786.1,403.3 786.4,409.8 786.6,409.5 786.9,404.4 787.1,403.3 787.4,408.8 787.6,404.7 787.9,409.6 788.1,410.5 788.4,404.9 788.6,409.6 788.9,403.2 789.1,409.2 789.4,403.4 789.6,403.5 789.9,409.1 790.1,404.0 790.4,410.2 790.6,402.2 790.9,408.5 791.1,405.0 791.4,410.5 791.6,409.9 791.9,404.5 792.1,404.7 792.4,410.2 792.6,410.0 792.9,404.6 793.1,404.6 793.4,408.5 793.6,410.9 793.9,402.6 794.1,403.1 794.4,409.6" stroke="#ed7d31" stroke-width="2.2" fill="none" stroke-linejoin="round" stroke-linecap="butt"/>
<path d="M44.6,138.0 48.6,141.9 55.9,147.0 62.6,149.7 69.4,155.6 75.9,162.4 83.8,161.9 87.7,169.9 92.6,172.9 99.1,174.8 102.4,179.1 106.1,180.8 109.2,179.4 112.2,183.3 118.3,186.6 124.5,190.3 131.2,193.6 134.4,198.8 138.8,199.3 144.7,206.4 149.8,206.4 153.5,208.7 157.2,208.1 161.6,213.4 166.7,217.9 169.6,217.2 172.6,219.2 175.5,223.9 180.7,223.1 185.0,229.7 187.1,227.9 189.2,228.3 191.3,231.0 193.4,230.1 195.4,234.1 197.3,234.6 199.3,236.0 201.2,237.5 203.1,238.1 205.0,238.8 206.8,240.4 208.6,242.2 210.4,242.8 212.2,243.3 213.9,242.1 215.6,243.4 217.3,244.8 219.0,247.1 220.6,247.1 222.2,246.8 223.9,247.2 225.4,247.8 227.0,248.6 228.6,251.5 230.1,251.9 231.6,252.6 233.1,252.6 234.6,254.6 236.0,254.8 237.5,256.9 238.9,258.2 240.3,257.5 241.7,256.9 243.1,257.0 244.5,259.4 245.8,260.9 247.2,261.2 248.5,262.8 249.8,261.8 251.3,264.3 252.6,264.3 253.9,265.9 255.1,266.1 256.4,265.9 257.6,266.8 258.8,269.1 260.0,268.7 261.2,267.5 262.4,268.8 263.6,269.7 264.8,270.1 265.9,271.4 267.1,270.7 268.2,272.0 269.3,272.6 270.5,274.0 271.6,272.4 272.7,273.9 273.7,273.0 274.8,275.6 275.9,275.8 277.0,276.2 278.0,277.2 279.1,275.7 280.1,278.2 281.1,277.9 282.1,280.5 283.2,279.8 284.2,281.7 285.2,282.2 286.1,280.8 287.1,281.1 288.1,281.6 289.1,283.1 290.0,284.5 291.0,282.9 291.9,283.8 292.9,282.8 293.8,286.1 294.7,285.7 295.6,288.9 296.5,286.0 297.4,287.0 298.3,287.1 299.2,288.5 300.1,288.7 301.0,290.3 301.9,289.8 302.7,289.9 303.6,289.7 304.5,290.8 305.3,290.7 306.2,291.6 307.0,291.8 307.8,293.4 308.7,294.3 309.5,292.7 310.3,294.5 311.1,294.7 311.9,293.6 312.7,293.9 313.5,297.3 314.3,297.1 315.1,294.3 315.9,295.7 316.7,297.3 317.5,297.0 318.2,296.2 319.0,298.2 319.7,297.6 320.5,300.4 321.3,300.5 322.0,297.6 322.7,299.2 323.5,299.0 324.2,297.8 325.0,299.5 325.7,300.9 326.4,299.5 327.1,301.8 327.8,301.6 328.5,301.7 329.2,303.8 330.0,301.1 330.7,301.6 331.3,303.3 332.0,302.6 332.7,303.7 333.4,302.4 334.1,304.0 334.8,305.6 335.4,302.9 336.1,303.3 336.8,305.3 337.4,304.9 338.1,303.9 338.8,304.3 339.4,304.7 340.1,305.9 340.7,305.8 341.3,304.2 342.0,305.5 342.6,305.3 343.3,306.3 343.9,306.1 344.5,308.9 345.1,308.8 345.8,311.0 346.4,309.3 347.0,310.4 347.6,306.8 348.2,309.2 348.8,307.9 349.4,313.0 350.0,311.4 350.6,311.7 351.2,308.9 351.8,308.8 352.4,311.0 353.0,311.5 353.6,307.9 354.2,311.4 354.7,311.1 355.3,310.6 355.9,313.7 356.5,312.5 357.0,311.9 357.6,313.7 358.2,313.7 358.7,313.8 359.3,313.9 359.8,315.2 360.4,312.4 360.9,316.5 361.5,315.1 362.0,314.8 362.6,316.6 363.1,315.3 363.7,317.3 364.2,316.4 364.7,318.2 365.3,315.1 365.8,315.5 366.3,317.1 366.9,317.1 367.4,318.5 367.9,318.5 368.4,319.5 368.9,318.3 369.5,317.4 370.0,319.5 370.5,321.4 371.0,318.6 371.5,321.3 372.0,320.5 372.5,320.0 373.0,323.1 373.5,321.9 374.0,320.9 374.5,323.9 375.0,318.7 375.5,321.0 376.0,322.1 376.5,321.4 377.0,320.1 377.5,322.7 377.9,321.4 378.4,324.5 378.9,321.1 379.4,322.9 379.9,322.2 380.3,325.1 380.8,324.1 381.3,324.9 381.7,322.5 382.2,324.7 382.7,323.0 383.1,324.1 383.6,326.8 384.1,321.5 384.5,327.1 385.0,327.3 385.4,323.2 385.9,326.3 386.4,325.4 386.8,324.4 387.3,326.9 387.7,328.0 388.1,327.0 388.6,326.0 389.0,327.9 389.5,328.5 389.9,326.8 390.4,327.2 390.8,327.8 391.2,328.8 391.7,325.6 392.1,326.1 392.5,326.1 393.0,328.5 393.4,326.5 393.8,329.5 394.2,329.7 394.7,328.0 395.1,329.3 395.5,330.2 395.9,329.2 396.4,330.0 396.8,326.4 397.2,330.7 397.6,325.4 398.0,329.3 398.4,331.5 398.8,328.1 399.2,330.2 399.7,328.0 400.1,331.6 400.5,331.0 400.9,332.6 401.3,331.9 401.7,331.5 402.1,331.8 402.5,328.8 402.9,334.4 403.3,331.3 403.7,333.1 404.1,330.4 404.5,332.2 404.9,331.6 405.2,333.7 405.6,331.6 406.0,333.3 406.4,332.3 406.8,332.3 407.2,333.4 407.6,333.1 407.9,334.9 408.3,335.2 408.7,334.4 409.1,332.5 409.5,334.7 409.8,335.0 410.2,335.2 410.6,336.2 411.0,335.8 411.3,334.9 411.7,337.7 412.1,334.0 412.5,334.5 412.8,337.7 413.2,334.7 413.6,333.8 413.9,337.2 414.3,337.2 414.7,335.5 415.0,337.0 415.4,336.9 415.7,337.7 416.1,336.7 416.5,337.7 416.8,337.8 417.2,337.2 417.5,338.9 417.9,336.9 418.2,337.4 418.6,339.7 418.9,338.2 419.3,338.3 419.6,337.7 420.0,338.5 420.3,339.8 420.7,337.6 421.0,339.6 421.4,340.2 421.7,340.0 422.1,341.3 422.4,342.8 422.7,344.3 423.1,341.8 423.4,342.9 423.8,342.8 424.1,344.4 424.4,342.7 424.8,345.2 425.1,344.8 425.4,344.9 425.8,349.4 426.1,347.9 426.4,346.8 426.8,346.7 427.1,346.7 427.4,348.4 427.8,347.9 428.1,346.0 428.4,348.4 428.7,344.1 429.1,348.3 429.4,349.6 429.7,349.9 430.0,348.9 430.4,346.2 430.7,347.4 431.0,349.7 431.3,349.8 431.6,348.7 431.9,350.6 432.3,350.5 432.6,349.4 432.9,349.3 433.2,350.0 433.5,347.2 433.8,350.8 434.2,349.8 434.5,350.8 434.8,352.8 435.1,349.4 435.4,350.7 435.7,350.7 436.0,353.1 436.3,348.1 436.6,351.6 436.9,352.3 437.2,350.7 437.5,350.8 437.8,351.2 438.1,351.2 438.4,351.5 438.7,351.9 439.0,351.4 439.3,351.2 439.6,351.4 439.9,353.9 440.2,350.0 440.5,352.6 440.8,353.3 441.1,352.2 441.4,352.4 441.7,356.4 442.0,353.7 442.3,355.0 442.6,353.1 442.9,355.2 443.2,354.4 443.5,355.9 443.8,352.5 444.1,356.7 444.3,354.7 444.6,354.0 444.9,352.4 445.2,355.7 445.5,357.0 445.8,355.0 446.1,357.3 446.3,353.9 446.6,354.6 446.9,355.4 447.2,356.9 447.5,357.1 447.8,355.6 448.0,357.4 448.3,354.5 448.6,354.7 448.9,358.1 449.2,357.6 449.4,358.6 449.7,356.2 450.0,354.2 450.3,359.4 450.5,358.1 450.8,355.4 451.1,356.9 451.4,355.9 451.6,357.0 451.9,359.9 452.2,361.1 452.4,358.1 452.7,358.5 453.0,357.7 453.3,359.9 453.5,356.4 453.8,355.7 454.1,357.3 454.3,360.7 454.6,358.0 454.9,362.7 455.1,362.7 455.4,359.3 455.7,358.2 455.9,357.4 456.2,360.3 456.4,359.8 456.7,361.1 457.0,361.2 457.2,360.8 457.5,361.4 457.7,360.4 458.0,361.1 458.3,358.2 458.5,361.6 458.8,362.2 459.0,360.9 459.3,359.1 459.6,361.7 459.8,361.8 460.1,362.3 460.3,360.2 460.6,363.1 460.8,359.9 461.1,361.4 461.3,361.2 461.6,358.5 461.8,362.1 462.1,359.7 462.3,364.4 462.6,362.6 462.8,360.4 463.1,362.6 463.3,361.0 463.6,362.9 463.8,362.3 464.1,363.3 464.3,364.2 464.6,365.2 464.8,362.2 465.1,362.9 465.3,361.2 465.6,363.1 465.8,364.4 466.0,365.1 466.3,360.5 466.5,365.5 466.8,361.5 467.1,363.6 467.4,361.1 467.7,361.0 468.0,363.6 468.2,364.4 468.5,364.3 468.7,362.1 468.9,363.5 469.2,365.2 469.4,364.6 469.6,363.7 469.9,366.6 470.1,364.8 470.4,363.2 470.6,364.3 470.8,364.0 471.1,365.9 471.3,366.1 471.6,367.6 471.9,363.2 472.2,365.7 472.5,365.6 472.7,365.1 472.9,364.9 473.1,365.0 473.4,363.6 473.6,365.2 473.8,366.2 474.1,367.3 474.3,365.7 474.6,365.0 474.9,365.2 475.2,366.9 475.4,367.0 475.7,367.0 475.9,370.2 476.1,364.3 476.3,366.8 476.6,366.2 476.8,369.2 477.1,367.8 477.4,367.0 477.7,369.2 477.9,367.4 478.1,365.7 478.3,366.7 478.6,365.8 478.8,367.9 479.1,364.9 479.4,369.6 479.7,370.2 479.9,368.4 480.1,367.9 480.3,369.2 480.6,367.4 480.9,369.3 481.2,368.2 481.4,370.5 481.6,367.6 481.8,371.3 482.1,372.5 482.4,367.6 482.7,368.3 482.9,370.3 483.1,368.6 483.3,371.3 483.6,368.8 483.9,370.6 484.2,367.9 484.4,370.9 484.6,371.1 484.8,368.9 485.1,370.0 485.4,371.4 485.7,368.8 485.9,368.7 486.1,369.4 486.4,368.9 486.7,369.1 486.9,372.8 487.1,372.5 487.3,372.9 487.6,372.6 487.9,368.9 488.1,370.9 488.3,373.3 488.6,372.0 488.9,372.6 489.2,373.8 489.4,371.2 489.6,371.8 489.9,371.3 490.2,372.2 490.4,371.1 490.6,369.7 490.9,372.6 491.2,372.2 491.4,372.9 491.6,374.3 491.9,371.2 492.2,373.3 492.4,373.1 492.6,372.5 492.9,371.8 493.2,370.9 493.4,371.3 493.6,373.0 493.9,372.0 494.2,372.6 494.3,374.1 494.6,375.5 494.9,374.2 495.1,372.5 495.3,374.2 495.6,374.4 495.9,370.6 496.1,371.6 496.4,375.1 496.7,375.4 496.9,374.7 497.1,374.6 497.4,373.7 497.6,373.2 497.8,374.5 498.1,376.1 498.4,376.6 498.6,374.1 498.9,373.4 499.1,375.2 499.3,372.6 499.6,377.1 499.9,373.4 500.1,376.6 500.4,376.1 500.6,375.9 500.8,375.6 501.1,376.6 501.4,376.0 501.6,373.6 501.9,378.5 502.1,373.8 502.4,377.7 502.7,379.8 502.9,376.0 503.1,374.7 503.4,376.9 503.6,377.4 503.9,376.1 504.1,377.5 504.4,375.9 504.7,376.4 504.9,376.3 505.1,375.7 505.4,378.9 505.6,376.8 505.9,379.5 506.1,374.2 506.4,377.2 506.6,378.0 506.9,377.4 507.2,377.1 507.4,376.8 507.6,375.9 507.9,379.5 508.1,379.9 508.4,378.3 508.6,381.2 508.9,376.0 509.1,378.9 509.4,379.8 509.6,379.3 509.9,378.3 510.1,376.6 510.4,379.8 510.7,378.2 510.8,378.9 511.1,382.7 511.4,378.6 511.6,379.3 511.9,376.8 512.1,380.5 512.4,378.3 512.6,378.6 512.9,380.1 513.1,380.0 513.4,380.3 513.6,382.3 513.9,379.0 514.1,378.6 514.4,379.8 514.6,379.9 514.9,382.3 515.1,379.8 515.4,376.4 515.6,383.1 515.9,378.4 516.1,380.7 516.4,381.6 516.6,382.7 516.9,378.9 517.1,381.7 517.4,380.5 517.6,380.5 517.9,382.2 518.1,382.6 518.4,380.3 518.6,380.2 518.9,382.6 519.1,381.3 519.4,380.6 519.6,380.9 519.9,383.8 520.1,382.1 520.4,381.2 520.6,378.0 520.9,382.5 521.1,380.5 521.4,383.1 521.6,381.0 521.9,383.2 522.1,381.9 522.4,385.3 522.6,384.0 522.9,383.7 523.1,383.7 523.4,382.4 523.6,382.4 523.9,383.4 524.1,382.4 524.4,384.6 524.6,383.3 524.9,379.4 525.1,383.8 525.4,382.0 525.6,382.8 525.9,385.8 526.1,382.6 526.4,384.7 526.6,383.0 526.9,386.4 527.1,384.5 527.4,381.7 527.6,387.6 527.9,384.0 528.1,382.9 528.4,384.9 528.6,385.0 528.9,382.6 529.1,383.0 529.4,386.1 529.6,384.8 529.9,383.6 530.1,384.1 530.4,385.2 530.6,385.2 530.9,385.9 531.1,384.1 531.4,386.8 531.6,382.8 531.9,385.6 532.1,383.6 532.4,387.4 532.6,384.8 532.9,386.8 533.1,384.4 533.4,387.9 533.6,386.1 533.9,386.7 534.1,389.3 534.4,383.8 534.6,384.2 534.9,389.2 535.1,384.0 535.4,387.3 535.6,389.2 535.9,383.2 536.1,389.6 536.4,385.6 536.6,384.1 536.9,388.6 537.1,384.6 537.4,387.4 537.6,384.5 537.9,389.7 538.1,390.5 538.4,386.6 538.6,387.9 538.9,386.5 539.1,388.2 539.4,388.8 539.6,385.9 539.9,388.9 540.1,390.1 540.4,386.5 540.6,386.2 540.9,389.4 541.1,390.0 541.4,388.0 541.6,390.8 541.9,386.0 542.1,387.5 542.4,390.6 542.6,386.6 542.9,390.4 543.1,389.8 543.4,387.8 543.6,387.1 543.9,389.0 544.1,388.1 544.4,390.2 544.6,389.5 544.9,391.1 545.1,386.9 545.4,393.6 545.6,387.4 545.9,388.3 546.1,393.1 546.4,389.6 546.6,391.2 546.9,389.1 547.1,390.5 547.4,389.5 547.6,387.4 547.9,392.9 548.1,388.9 548.4,392.3 548.6,391.5 548.9,389.6 549.1,389.4 549.4,392.9 549.6,389.6 549.9,392.0 550.1,391.7 550.4,392.4 550.6,390.4 550.9,393.5 551.1,389.7 551.4,392.6 551.6,393.0 551.9,390.2 552.1,392.2 552.4,389.7 552.6,389.1 552.9,394.4 553.1,394.9 553.4,388.9 553.6,395.0 553.9,392.1 554.1,390.3 554.4,393.5 554.6,394.7 554.9,389.8 555.1,393.1 555.4,391.1 555.6,395.2 555.9,391.5 556.1,391.2 556.4,394.2 556.6,391.0 556.9,395.4 557.1,392.3 557.4,393.9 557.6,395.1 557.9,392.9 558.1,391.9 558.4,394.6 558.6,396.0 558.9,392.8 559.1,392.4 559.4,395.0 559.6,391.5 559.9,395.3 560.1,392.2 560.4,395.5 560.6,392.9 560.9,394.4 561.1,396.3 561.4,393.5 561.6,396.1 561.9,392.5 562.1,393.4 562.4,395.6 562.6,393.8 562.9,396.9 563.1,397.3 563.4,394.1 563.6,393.0 563.9,398.6 564.1,394.1 564.4,396.9 564.6,394.1 564.9,396.1 565.1,396.8 565.4,394.4 565.6,393.8 565.9,400.3 566.1,392.6 566.4,398.6 566.6,397.0 566.9,395.2 567.1,394.2 567.4,399.2 567.6,398.0 567.9,394.1 568.1,397.7 568.4,392.8 568.6,399.6 568.9,394.2 569.1,396.0 569.4,399.4 569.6,395.0 569.9,398.2 570.1,395.4 570.4,399.0 570.6,397.6 570.9,396.0 571.1,398.7 571.4,396.1 571.6,397.4 571.9,397.0 572.1,397.1 572.4,398.0 572.6,396.8 572.9,400.7 573.1,398.7 573.4,395.7 573.6,396.2 573.9,399.6 574.1,399.2 574.4,397.2 574.6,395.3 574.9,400.9 575.1,396.4 575.4,401.5 575.6,400.6 575.9,396.5 576.1,396.3 576.4,399.6 576.6,395.5 576.9,401.2 577.1,397.4 577.4,400.9 577.6,393.7 577.9,400.2 578.1,401.3 578.4,396.4 578.6,401.5 578.9,396.6 579.1,399.9 579.4,395.7 579.6,397.4 579.9,400.5 580.1,401.7 580.4,398.4 580.6,403.0 580.9,400.0 581.1,398.9 581.4,403.8 581.6,400.2 581.9,398.5 582.1,397.5 582.4,401.2 582.6,400.0 582.9,403.1 583.1,398.9 583.4,404.0 583.6,402.5 583.9,399.6 584.1,399.4 584.4,402.3 584.6,403.5 584.9,399.3 585.1,400.6 585.4,402.6 585.6,398.9 585.9,403.0 586.1,398.8 586.4,402.9 586.6,402.5 586.9,399.5 587.1,403.6 587.4,398.8 587.6,399.5 587.9,404.1 588.1,400.6 588.4,404.0 588.6,400.2 588.9,404.3 589.1,404.4 589.4,400.4 589.6,404.8 589.9,401.8 590.1,406.2 590.4,401.0 590.6,404.9 590.9,401.1 591.1,401.9 591.4,404.0 591.6,407.8 591.9,402.0 592.1,400.1 592.4,405.8 592.6,405.3 592.9,400.6 593.1,401.7 593.4,404.6 593.6,406.1 593.9,400.8 594.1,404.5 594.4,400.0 594.6,408.7 594.9,404.0 595.1,406.9 595.4,401.5 595.6,403.0 595.9,404.4 596.1,405.4 596.4,407.1 596.6,405.7 596.9,401.6 597.1,403.0 597.4,406.6 597.6,407.7 597.9,401.6 598.1,407.9 598.4,403.7 598.6,408.1 598.9,403.8 599.1,401.7 599.4,406.3 599.6,404.6 599.9,408.3 600.1,406.6 600.4,404.0 600.6,402.2 600.9,406.8 601.1,407.0 601.4,403.5 601.6,401.6 601.9,407.1 602.1,407.7 602.4,403.2 602.6,406.4 602.9,408.4 603.1,404.9 603.4,402.2 603.6,402.6 603.9,407.3 604.1,403.5 604.4,407.3 604.6,404.6 604.9,410.3 605.1,405.6 605.4,410.3 605.6,407.8 605.9,404.9 606.1,403.8 606.4,407.3 606.6,410.2 606.9,404.6 607.1,408.9 607.4,406.4 607.6,406.7 607.9,410.5 608.1,409.4 608.4,405.6 608.6,404.8 608.9,408.9 609.1,408.2 609.4,404.8 609.6,404.5 609.9,412.2 610.1,405.4 610.4,409.4 610.6,409.2 610.9,404.7 611.1,406.9 611.4,408.5 611.6,411.1 611.9,404.5 612.1,409.7 612.4,406.8 612.6,406.4 612.9,410.3 613.1,410.3 613.4,406.4 613.6,405.9 613.9,409.2 614.1,409.9 614.4,407.3 614.6,406.1 614.9,410.6 615.1,411.1 615.4,406.3 615.6,407.7 615.9,409.5 616.1,411.0 616.4,408.7 616.6,409.2 616.9,405.8 617.1,412.4 617.4,407.9 617.6,407.9 617.9,411.3 618.1,411.1 618.4,408.1 618.6,411.7 618.9,405.6 619.1,411.5 619.4,407.4 619.6,413.1 619.9,406.0 620.1,410.0 620.4,408.7 620.6,407.5 620.9,411.9 621.1,407.2 621.4,411.1 621.6,407.5 621.9,414.3 622.1,412.0 622.4,409.4 622.6,412.8 622.9,408.4 623.1,406.9 623.4,410.8 623.6,414.1 623.9,408.8 624.1,409.9 624.4,413.3 624.6,408.0 624.9,412.0 625.1,409.7 625.4,414.2 625.6,409.8 625.9,413.2 626.1,411.7 626.4,409.5 626.6,408.5 626.9,414.3 627.1,415.1 627.4,407.5 627.6,409.0 627.9,413.2 628.1,413.8 628.4,408.2 628.6,414.1 628.9,410.5 629.1,409.4 629.4,413.4 629.6,410.3 629.9,413.7 630.1,410.1 630.4,414.4 630.6,412.6 630.9,409.9 631.1,409.8 631.4,414.6 631.6,410.4 631.9,415.0 632.1,411.2 632.4,413.1 632.6,416.1 632.9,410.9 633.1,413.8 633.4,410.6 633.6,410.8 633.9,414.9 634.1,410.5 634.4,413.7 634.6,412.3 634.9,415.1 635.1,414.7 635.4,409.5 635.6,410.1 635.9,414.9 636.1,414.5 636.4,410.2 636.6,415.6 636.9,411.3 637.1,411.6 637.4,415.0 637.6,415.3 637.9,411.4 638.1,411.6 638.4,415.7 638.6,412.3 638.9,416.5 639.1,416.7 639.4,412.1 639.6,415.6 639.9,412.4 640.1,411.1 640.4,415.3 640.6,411.4 640.9,415.1 641.1,412.1 641.4,415.9 641.6,417.0 641.9,412.8 642.1,413.5 642.4,416.9 642.6,416.5 642.9,411.1 643.1,413.2 643.4,417.7 643.6,413.2 643.9,417.7 644.1,413.4 644.4,418.0 644.6,412.3 644.9,419.1 645.1,413.2 645.4,417.5 645.6,418.1 645.9,411.7 646.1,416.7 646.4,414.3 646.6,413.0 646.9,419.2 647.1,417.1 647.4,414.7 647.6,415.3 647.9,419.2 648.1,418.7 648.4,414.1 648.6,413.6 648.9,416.7 649.1,414.6 649.4,419.0 649.6,414.0 649.9,417.8 650.1,413.9 650.4,419.6 650.6,413.7 650.9,417.6 651.1,413.9 651.4,418.3 651.6,415.4 651.9,418.5 652.1,418.7 652.4,416.5 652.6,415.7 652.9,418.4 653.1,420.4 653.4,416.5 653.6,421.5 653.9,414.1 654.1,420.6 654.4,415.4 654.6,420.6 654.9,414.8 655.1,418.8 655.4,416.4 655.6,419.7 655.9,415.4 656.1,415.9 656.4,420.5 656.6,421.5 656.9,415.1 657.1,421.2 657.4,417.3 657.6,417.4 657.9,420.6 658.1,420.8 658.4,416.1 658.6,422.4 658.9,416.4 659.1,421.8 659.4,416.6 659.6,421.8 659.9,416.6 660.1,417.3 660.4,420.9 660.6,421.3 660.9,417.9 661.1,418.4 661.4,421.6 661.6,420.5 661.9,416.4 662.1,421.2 662.4,417.2 662.6,421.3 662.9,416.9 663.1,417.6 663.4,423.3 663.6,417.0 663.9,422.2 664.1,416.1 664.4,423.0 664.6,418.4 664.9,423.5 665.1,418.7 665.4,422.7 665.6,422.1 665.9,416.5 666.1,418.8 666.4,423.5 666.6,418.9 666.9,422.9 667.1,417.1 667.4,423.4 667.6,418.6 667.9,424.9 668.1,418.4 668.4,422.3 668.6,417.5 668.9,423.5 669.1,422.4 669.4,419.1 669.6,418.9 669.9,423.1 670.1,419.7 670.4,423.7 670.6,419.1 670.9,425.8 671.1,420.2 671.4,423.4 671.6,420.6 671.9,423.7 672.1,423.8 672.4,418.6 672.6,419.9 672.9,422.6 673.1,426.3 673.4,419.4 673.6,424.6 673.9,421.0 674.1,419.5 674.4,424.6 674.6,420.6 674.9,425.0 675.1,424.7 675.4,419.4 675.6,423.7 675.9,419.5 676.1,427.8 676.4,421.8 676.6,425.4 676.9,420.9 677.1,420.8 677.4,424.9 677.6,424.6 677.9,420.2 678.1,419.8 678.4,424.1 678.6,425.5 678.9,419.9 679.1,425.9 679.4,419.9 679.6,421.8 679.9,424.8 680.1,424.7 680.4,421.0 680.6,427.1 680.9,421.5 681.1,427.4 681.4,421.9 681.6,425.6 681.9,422.1 682.1,421.9 682.4,425.0 682.6,425.4 682.9,421.2 683.1,427.4 683.4,422.5 683.6,419.7 683.9,425.3 684.1,428.1 684.4,422.6 684.6,427.0 684.9,423.6 685.1,423.8 685.4,426.6 685.6,428.1 685.9,422.5 686.1,427.7 686.4,423.4 686.6,420.3 686.9,428.3 687.1,423.2 687.4,426.5 687.6,422.5 687.9,427.7 688.1,422.4 688.4,427.9 688.6,427.4 688.9,423.3 689.1,428.5 689.4,420.7 689.6,427.5 689.9,423.4 690.1,428.0 690.4,424.6 690.6,428.9 690.9,423.5 691.1,422.7 691.4,428.8 691.6,424.0 691.9,427.2 692.1,431.3 692.4,424.0 692.6,424.1 692.9,429.0 693.1,427.5 693.4,422.0 693.6,428.5 693.9,423.3 694.1,428.8 694.4,422.9 694.6,430.0 694.9,422.3 695.1,423.4 695.4,428.8 695.6,423.8 695.9,429.1 696.1,428.3 696.4,425.5 696.6,429.3 696.9,424.4 697.1,429.1 697.4,424.8 697.6,428.5 697.9,424.3 698.1,425.1 698.4,429.0 698.6,430.6 698.9,426.5 699.1,423.5 699.4,431.2 699.6,428.9 699.9,423.8 700.1,425.8 700.4,430.2 700.6,424.6 700.9,429.1 701.1,426.3 701.4,429.0 701.6,430.3 701.9,426.4 702.1,429.6 702.4,425.3 702.6,424.2 702.9,428.8 703.1,425.4 703.4,429.3 703.6,432.7 703.9,425.4 704.1,431.3 704.4,425.0 704.6,429.7 704.9,426.9 705.1,425.9 705.4,430.9 705.6,423.6 705.9,433.1 706.1,427.0 706.4,432.1 706.6,426.5 706.9,429.8 707.1,426.9 707.4,431.6 707.6,430.1 707.9,425.8 708.1,431.4 708.4,424.9 708.6,427.1 708.9,432.4 709.1,430.4 709.4,427.1 709.6,426.0 709.9,431.4 710.1,427.3 710.4,430.8 710.6,427.4 710.9,432.0 711.1,432.6 711.4,426.0 711.6,431.6 711.9,428.0 712.1,426.1 712.4,434.3 712.6,424.9 712.9,432.0 713.1,427.0 713.4,433.9 713.6,427.7 713.9,433.7 714.1,427.4 714.4,432.4 714.6,428.6 714.9,431.9 715.1,425.8 715.4,433.9 715.6,434.3 715.9,428.0 716.1,427.1 716.4,433.3 716.6,433.6 716.9,427.3 717.1,433.7 717.4,428.9 717.6,429.2 717.9,433.0 718.1,433.6 718.4,429.0 718.6,428.8 718.9,434.9 719.1,434.3 719.4,427.8 719.6,427.8 719.9,435.3 720.1,434.6 720.4,429.0 720.6,428.3 720.9,433.7 721.1,429.8 721.4,434.5 721.6,430.0 721.9,434.4 722.1,433.8 722.4,430.4 722.6,435.2 722.9,427.8 723.1,434.4 723.4,429.4 723.6,435.5 723.9,429.5 724.1,430.9 724.4,435.1 724.6,435.2 724.9,429.1 725.1,436.9 725.4,430.1 725.6,429.2 725.9,434.3 726.1,430.7 726.4,434.9 726.6,435.7 726.9,431.6 727.1,436.1 727.4,428.9 727.6,431.6 727.9,436.1 728.1,436.7 728.4,430.7 728.6,429.7 728.9,436.7 729.1,435.3 729.4,430.5 729.6,434.5 729.9,430.0 730.1,436.2 730.4,431.4 730.6,431.5 730.9,436.2 731.1,437.6 731.4,432.1 731.6,429.5 731.9,435.1 732.1,435.9 732.4,431.6 732.6,432.9 732.9,437.3 733.1,432.3 733.4,439.2 733.6,431.7 733.9,436.9 734.1,431.8 734.4,437.7 734.6,431.0 734.9,436.5 735.1,430.7 735.4,437.2 735.6,432.7 735.9,438.4 736.1,432.4 736.4,437.9 736.6,437.1 736.9,432.4 737.1,432.2 737.4,436.5 737.6,432.2 737.9,438.1 738.1,432.1 738.4,437.7 738.6,433.0 738.9,437.7 739.1,432.0 739.4,437.7 739.6,437.1 739.9,432.3 740.1,433.1 740.4,438.1 740.6,437.5 740.9,433.1 741.1,433.2 741.4,438.0 741.6,438.3 741.9,433.4 742.1,431.5 742.4,437.7 742.6,432.1 742.9,439.2 743.1,431.1 743.4,438.8 743.6,437.9 743.9,433.1 744.1,433.3 744.4,439.7 744.6,438.6 744.9,433.4 745.1,433.5 745.4,439.6 745.6,438.4 745.9,432.8 746.1,439.5 746.4,435.0 746.6,434.7 746.9,440.8 747.1,432.4 747.4,439.4 747.6,434.5 747.9,440.4 748.1,432.7 748.4,439.6 748.6,433.1 748.9,440.2 749.1,438.6 749.4,433.9 749.6,434.3 749.9,440.0 750.1,432.1 750.4,439.4 750.6,440.3 750.9,432.7 751.1,435.0 751.4,439.4 751.6,439.6 751.9,433.7 752.1,440.2 752.4,434.1 752.6,435.0 752.9,439.4 753.1,438.5 753.4,434.9 753.6,434.5 753.9,439.1 754.1,440.6 754.4,433.6 754.6,434.1 754.9,440.7 755.1,434.9 755.4,442.2 755.6,434.9 755.9,440.4 756.1,434.5 756.4,441.7 756.6,441.5 756.9,436.2 757.1,434.9 757.4,440.9 757.6,442.0 757.9,434.9 758.1,434.6 758.4,441.2 758.6,440.7 758.9,436.0 759.1,435.1 759.4,440.6 759.6,441.4 759.9,435.4 760.1,434.6 760.4,441.5 760.6,442.4 760.9,435.6 761.1,441.0 761.4,435.7 761.6,441.4 761.9,435.5 762.1,435.9 762.4,440.3 762.6,436.0 762.9,442.2 763.1,433.6 763.4,441.0 763.6,441.6 763.9,434.5 764.1,441.9 764.4,434.9 764.6,440.3 764.9,435.5 765.1,441.1 765.4,433.3 765.6,433.6 765.9,441.9 766.1,435.4 766.4,441.5 766.6,443.1 766.9,436.2 767.1,436.5 767.4,441.3 767.6,441.3 767.9,436.6 768.1,442.6 768.4,436.6 768.6,436.5 768.9,441.7 769.1,436.7 769.4,441.8 769.6,442.7 769.9,436.2 770.1,437.3 770.4,442.6 770.6,441.8 770.9,436.0 771.1,437.8 771.4,442.4 771.6,442.1 771.9,436.0 772.1,443.1 772.4,435.6 772.6,443.0 772.9,437.5 773.1,437.1 773.4,444.0 773.6,442.6 773.9,435.9 774.1,443.0 774.4,436.3 774.6,443.5 774.9,435.6 775.1,437.0 775.4,445.6 775.6,436.8 775.9,442.9 776.1,443.8 776.4,436.6 776.6,442.6 776.9,437.4 777.1,443.7 777.4,437.4 777.6,437.2 777.9,443.4 778.1,436.7 778.4,443.3 778.6,443.8 778.9,437.5 779.1,442.7 779.4,437.0 779.6,437.9 779.9,443.0 780.1,443.0 780.4,438.2 780.6,443.6 780.9,437.4 781.1,443.4 781.4,436.8 781.6,435.0 781.9,443.2 782.1,444.0 782.4,437.5 782.6,442.7 782.9,436.8 783.1,438.3 783.4,443.5 783.6,438.1 783.9,443.4 784.1,439.0 784.4,444.6 784.6,443.5 784.9,437.7 785.1,445.7 785.4,439.0 785.6,436.9 785.9,444.0 786.1,444.2 786.4,438.4 786.6,444.6 786.9,438.2 787.1,443.1 787.4,437.0 787.6,437.8 787.9,444.4 788.1,444.0 788.4,439.0 788.6,439.5 788.9,445.0 789.1,436.2 789.4,443.8 789.6,445.4 789.9,438.9 790.1,443.7 790.4,439.6 790.6,438.4 790.9,444.3 791.1,446.8 791.4,438.0 791.6,445.2 791.9,438.2 792.1,438.4 792.4,445.2 792.6,438.2 792.9,445.0 793.1,438.2 793.4,444.4 793.6,438.5 793.9,444.9 794.1,442.1 794.4,439.7" stroke="#bf9000" stroke-width="2.2" fill="none" stroke-linejoin="round" stroke-linecap="butt"/>
<path d="M44.6,161.1 48.6,164.8 55.9,169.6 62.6,172.9 69.4,178.9 75.9,184.4 83.8,185.1 87.7,192.5 92.6,195.8 99.1,197.7 102.4,201.9 106.1,203.4 109.2,201.5 112.2,205.5 118.3,209.7 124.5,213.2 131.2,216.0 134.4,221.2 138.8,221.8 144.7,228.5 149.8,229.0 153.5,232.0 157.2,230.1 161.6,235.5 166.7,240.3 169.6,239.8 172.6,241.8 175.5,246.4 180.7,246.2 185.0,253.1 187.1,251.0 189.2,250.9 191.3,254.9 193.4,254.2 195.4,256.0 197.3,257.4 199.3,259.2 201.2,260.4 203.1,260.4 205.0,261.1 206.8,263.4 208.6,263.7 210.4,264.8 212.2,266.0 213.9,265.5 215.6,266.0 217.3,267.5 219.0,269.1 220.6,270.2 222.2,271.8 223.9,269.5 225.4,272.0 227.0,274.2 228.6,275.7 230.1,274.2 231.6,275.7 233.1,276.8 234.6,278.7 236.0,279.5 237.5,280.6 238.9,281.3 240.3,281.8 241.7,281.8 243.1,280.4 244.5,282.1 245.8,284.7 247.2,284.0 248.5,285.9 249.8,286.7 251.3,287.9 252.6,287.6 253.9,289.4 255.1,289.1 256.4,289.6 257.6,290.0 258.8,290.3 260.0,292.0 261.2,292.2 262.4,293.1 263.6,293.5 264.8,294.5 265.9,293.8 267.1,295.9 268.2,294.6 269.3,296.3 270.5,296.2 271.6,296.3 272.7,297.0 273.7,298.0 274.8,297.4 275.9,298.1 277.0,300.3 278.0,299.9 279.1,300.5 280.1,299.8 281.1,301.0 282.1,302.6 283.2,302.4 284.2,304.4 285.2,304.3 286.1,303.4 287.1,305.8 288.1,305.6 289.1,304.1 290.0,307.4 291.0,308.4 291.9,308.4 292.9,308.5 293.8,308.1 294.7,309.6 295.6,309.8 296.5,311.3 297.4,311.3 298.3,311.6 299.2,312.4 300.1,312.3 301.0,313.2 301.9,316.8 302.7,314.4 303.6,312.5 304.5,313.5 305.3,316.1 306.2,315.3 307.0,315.7 307.8,315.8 308.7,315.8 309.5,315.7 310.3,318.9 311.1,318.5 311.9,317.6 312.7,319.8 313.5,320.3 314.3,318.1 315.1,317.8 315.9,319.3 316.7,320.4 317.5,322.3 318.2,322.0 319.0,321.8 319.7,322.7 320.5,323.3 321.3,321.8 322.0,322.2 322.7,323.5 323.5,322.6 324.2,323.2 325.0,324.7 325.7,325.9 326.4,325.1 327.1,324.5 327.8,325.7 328.5,326.7 329.2,324.5 330.0,326.0 330.7,328.9 331.3,326.1 332.0,326.6 332.7,325.1 333.4,326.3 334.1,329.8 334.8,327.5 335.4,327.3 336.1,327.8 336.8,327.0 337.4,329.8 338.1,328.6 338.8,328.5 339.4,328.4 340.1,329.5 340.7,329.5 341.3,332.1 342.0,331.9 342.6,332.0 343.3,332.7 343.9,332.8 344.5,332.5 345.1,333.6 345.8,333.0 346.4,335.1 347.0,334.8 347.6,334.2 348.2,332.1 348.8,333.5 349.4,335.1 350.0,333.6 350.6,335.5 351.2,336.7 351.8,335.0 352.4,334.6 353.0,337.6 353.6,336.6 354.2,337.5 354.7,336.4 355.3,339.8 355.9,339.4 356.5,338.0 357.0,340.5 357.6,338.6 358.2,340.1 358.7,340.0 359.3,337.5 359.8,339.5 360.4,339.5 360.9,339.2 361.5,339.9 362.0,341.7 362.6,341.2 363.1,340.4 363.7,339.9 364.2,342.7 364.7,341.7 365.3,342.3 365.8,343.4 366.3,343.8 366.9,342.9 367.4,343.0 367.9,341.9 368.4,341.2 368.9,344.5 369.5,345.0 370.0,345.0 370.5,343.9 371.0,344.5 371.5,344.5 372.0,342.9 372.5,345.3 373.0,348.7 373.5,344.3 374.0,345.1 374.5,346.1 375.0,346.3 375.5,344.7 376.0,346.5 376.5,346.9 377.0,345.1 377.5,345.3 377.9,349.0 378.4,347.9 378.9,348.1 379.4,348.7 379.9,347.9 380.3,347.2 380.8,348.2 381.3,350.9 381.7,350.0 382.2,348.4 382.7,353.3 383.1,349.4 383.6,349.8 384.1,351.9 384.5,351.9 385.0,355.1 385.4,352.4 385.9,352.9 386.4,350.4 386.8,352.5 387.3,352.2 387.7,351.5 388.1,352.8 388.6,353.4 389.0,356.0 389.5,355.5 389.9,354.4 390.4,353.4 390.8,354.6 391.2,356.3 391.7,352.7 392.1,354.3 392.5,351.9 393.0,356.2 393.4,355.5 393.8,356.7 394.2,355.3 394.7,355.7 395.1,355.1 395.5,355.0 395.9,355.5 396.4,357.4 396.8,353.4 397.2,355.5 397.6,357.1 398.0,357.4 398.4,354.9 398.8,357.3 399.2,356.1 399.7,357.8 400.1,361.6 400.5,357.2 400.9,354.5 401.3,358.7 401.7,358.4 402.1,357.5 402.5,359.6 402.9,356.9 403.3,357.8 403.7,362.7 404.1,359.4 404.5,361.1 404.9,361.0 405.2,361.8 405.6,357.2 406.0,357.9 406.4,359.8 406.8,359.5 407.2,361.0 407.6,360.6 407.9,359.8 408.3,358.2 408.7,360.9 409.1,361.7 409.5,361.4 409.8,358.7 410.2,360.3 410.6,362.8 411.0,359.0 411.3,361.2 411.7,363.1 412.1,361.4 412.5,360.1 412.8,362.5 413.2,361.5 413.6,361.7 413.9,361.8 414.3,364.5 414.7,361.9 415.0,364.8 415.4,363.6 415.7,363.4 416.1,363.1 416.5,363.7 416.8,363.1 417.2,364.8 417.5,363.4 417.9,365.7 418.2,365.1 418.6,364.3 418.9,364.3 419.3,365.8 419.6,364.0 420.0,364.2 420.3,361.3 420.7,364.5 421.0,364.6 421.4,362.2 421.7,367.0 422.1,364.7 422.4,363.1 422.7,363.8 423.1,363.0 423.4,367.7 423.8,369.4 424.1,367.0 424.4,365.5 424.8,367.4 425.1,369.9 425.4,369.8 425.8,370.1 426.1,372.2 426.4,369.4 426.8,371.5 427.1,371.9 427.4,370.8 427.8,371.7 428.1,373.0 428.4,372.4 428.7,373.2 429.1,373.5 429.4,372.8 429.7,372.7 430.0,374.9 430.4,372.7 430.7,372.1 431.0,373.9 431.3,374.0 431.6,371.4 431.9,374.2 432.3,375.1 432.6,375.5 432.9,373.5 433.2,374.5 433.5,375.8 433.8,373.2 434.2,376.1 434.5,373.6 434.8,371.6 435.1,377.6 435.4,374.4 435.7,376.8 436.0,376.9 436.3,374.3 436.6,377.8 436.9,375.8 437.2,373.8 437.5,374.8 437.8,376.2 438.1,375.4 438.4,376.4 438.7,375.8 439.0,374.4 439.3,378.7 439.6,377.0 439.9,378.9 440.2,377.7 440.5,376.1 440.8,377.7 441.1,379.0 441.4,376.7 441.7,377.6 442.0,377.9 442.3,378.4 442.6,376.5 442.9,376.3 443.2,378.7 443.5,378.0 443.8,379.6 444.1,377.4 444.3,380.1 444.6,380.4 444.9,381.4 445.2,380.5 445.5,380.1 445.8,379.2 446.1,378.3 446.3,381.3 446.6,380.1 446.9,378.0 447.2,381.4 447.5,382.1 447.8,379.1 448.0,380.7 448.3,379.9 448.6,382.4 448.9,380.0 449.2,383.1 449.4,381.7 449.7,381.2 450.0,380.5 450.3,382.4 450.5,380.3 450.8,382.0 451.1,381.7 451.4,383.3 451.6,384.6 451.9,381.5 452.2,384.5 452.4,383.8 452.7,383.7 453.0,383.4 453.3,383.2 453.5,385.9 453.8,383.2 454.1,379.0 454.3,384.2 454.6,384.3 454.9,385.3 455.1,383.1 455.4,385.7 455.7,384.0 455.9,385.9 456.2,386.8 456.4,383.2 456.7,384.7 457.0,386.8 457.2,387.2 457.5,384.1 457.7,384.7 458.0,386.4 458.3,383.9 458.5,384.7 458.8,386.0 459.0,385.4 459.3,386.2 459.6,384.8 459.8,385.2 460.1,387.1 460.3,385.0 460.6,385.7 460.8,386.2 461.1,385.6 461.3,386.2 461.6,386.2 461.8,388.3 462.1,386.7 462.3,388.2 462.6,388.9 462.8,390.2 463.1,387.2 463.3,389.0 463.6,388.9 463.8,386.7 464.1,387.8 464.3,386.6 464.6,387.1 464.8,385.9 465.1,390.4 465.3,387.7 465.6,388.8 465.8,387.3 466.0,389.0 466.3,386.5 466.5,386.3 466.8,385.1 467.1,388.5 467.4,390.0 467.7,388.5 468.0,388.2 468.2,390.1 468.5,390.9 468.7,389.7 468.9,389.7 469.2,390.9 469.4,388.7 469.6,386.6 469.9,388.6 470.1,389.9 470.4,389.4 470.6,389.9 470.8,392.7 471.1,389.0 471.3,389.8 471.6,391.5 471.9,389.3 472.2,387.1 472.5,390.9 472.7,391.7 472.9,392.5 473.1,392.9 473.4,391.4 473.6,393.0 473.8,391.2 474.1,393.7 474.3,391.5 474.6,394.5 474.9,391.0 475.2,391.1 475.4,391.8 475.7,390.7 475.9,391.9 476.1,390.4 476.3,393.3 476.6,391.4 476.8,393.5 477.1,392.7 477.4,393.6 477.7,394.1 477.9,389.7 478.1,391.9 478.3,393.5 478.6,395.6 478.8,390.6 479.1,396.6 479.4,390.5 479.7,391.9 479.9,392.1 480.1,392.7 480.3,391.7 480.6,393.7 480.9,396.1 481.2,393.9 481.4,394.1 481.6,394.0 481.8,395.4 482.1,396.1 482.4,392.5 482.7,397.1 482.9,394.9 483.1,395.9 483.3,395.1 483.6,396.6 483.9,395.4 484.2,393.9 484.4,396.0 484.6,396.0 484.8,397.0 485.1,396.9 485.4,395.7 485.7,396.3 485.9,397.4 486.1,396.7 486.4,398.4 486.7,394.2 486.9,394.8 487.1,394.2 487.3,396.4 487.6,397.8 487.9,395.4 488.1,396.5 488.3,397.0 488.6,398.4 488.9,395.8 489.2,397.1 489.4,398.8 489.6,398.9 489.9,397.3 490.2,399.2 490.4,399.2 490.6,397.1 490.9,398.6 491.2,395.6 491.4,395.6 491.6,399.8 491.9,397.7 492.2,397.0 492.4,400.0 492.6,395.6 492.9,399.5 493.2,400.5 493.4,398.3 493.6,398.2 493.9,397.9 494.2,397.8 494.3,398.1 494.6,399.9 494.9,399.0 495.1,397.5 495.3,399.4 495.6,400.1 495.9,400.7 496.1,399.7 496.4,398.7 496.7,398.9 496.9,399.2 497.1,399.0 497.4,402.8 497.6,400.2 497.8,402.2 498.1,399.5 498.4,401.4 498.6,402.5 498.9,399.0 499.1,398.7 499.3,403.5 499.6,400.0 499.9,402.0 500.1,402.7 500.4,398.7 500.6,400.9 500.8,400.3 501.1,402.3 501.4,400.1 501.6,404.1 501.9,401.7 502.1,402.6 502.4,402.2 502.7,399.3 502.9,401.3 503.1,400.9 503.4,404.2 503.6,405.4 503.9,397.5 504.1,400.1 504.4,403.5 504.7,403.1 504.9,404.4 505.1,400.4 505.4,404.1 505.6,405.4 505.9,402.0 506.1,401.8 506.4,404.1 506.6,403.2 506.9,401.2 507.2,405.1 507.4,403.2 507.6,404.1 507.9,402.9 508.1,406.2 508.4,402.2 508.6,407.7 508.9,400.3 509.1,403.4 509.4,404.9 509.6,405.0 509.9,406.5 510.1,405.3 510.4,403.7 510.7,403.6 510.8,405.1 511.1,405.5 511.4,406.6 511.6,406.0 511.9,404.6 512.1,407.4 512.4,405.3 512.6,406.1 512.9,405.5 513.1,407.8 513.4,405.6 513.6,405.0 513.9,408.1 514.1,406.6 514.4,404.7 514.6,404.4 514.9,405.9 515.1,405.4 515.4,407.5 515.6,407.9 515.9,405.3 516.1,406.4 516.4,405.0 516.6,408.8 516.9,405.5 517.1,406.1 517.4,409.8 517.6,408.2 517.9,406.2 518.1,407.6 518.4,409.2 518.6,406.8 518.9,407.3 519.1,409.6 519.4,406.9 519.6,410.6 519.9,406.4 520.1,408.4 520.4,407.7 520.6,409.6 520.9,408.9 521.1,406.5 521.4,411.6 521.6,407.6 521.9,405.7 522.1,405.8 522.4,411.5 522.6,408.3 522.9,412.4 523.1,410.1 523.4,406.9 523.6,410.7 523.9,409.6 524.1,408.4 524.4,411.0 524.6,407.8 524.9,412.7 525.1,409.6 525.4,411.3 525.6,411.1 525.9,410.7 526.1,411.1 526.4,405.9 526.6,409.4 526.9,411.2 527.1,411.6 527.4,410.6 527.6,408.1 527.9,413.8 528.1,408.8 528.4,411.4 528.6,411.4 528.9,412.5 529.1,411.4 529.4,414.3 529.6,415.1 529.9,410.6 530.1,413.1 530.4,411.4 530.6,410.0 530.9,413.1 531.1,410.6 531.4,413.3 531.6,412.1 531.9,409.4 532.1,412.3 532.4,417.2 532.6,413.2 532.9,414.7 533.1,414.8 533.4,411.0 533.6,412.5 533.9,415.3 534.1,415.4 534.4,413.7 534.6,411.1 534.9,415.6 535.1,417.1 535.4,411.9 535.6,416.1 535.9,414.1 536.1,411.8 536.4,414.6 536.6,414.7 536.9,413.6 537.1,412.4 537.4,416.0 537.6,415.4 537.9,417.5 538.1,417.7 538.4,412.5 538.6,416.1 538.9,414.0 539.1,415.3 539.4,417.1 539.6,414.8 539.9,417.9 540.1,417.2 540.4,415.5 540.6,417.7 540.9,416.5 541.1,416.8 541.4,415.0 541.6,417.8 541.9,413.5 542.1,416.7 542.4,415.1 542.6,418.2 542.9,415.1 543.1,419.1 543.4,416.0 543.6,416.4 543.9,419.4 544.1,417.8 544.4,418.2 544.6,417.1 544.9,415.1 545.1,418.0 545.4,416.8 545.6,414.1 545.9,420.5 546.1,417.7 546.4,418.2 546.6,418.0 546.9,416.7 547.1,420.2 547.4,417.3 547.6,415.4 547.9,417.5 548.1,420.5 548.4,416.6 548.6,419.9 548.9,416.7 549.1,420.6 549.4,418.5 549.6,421.3 549.9,416.0 550.1,419.9 550.4,416.1 550.6,418.2 550.9,420.4 551.1,416.7 551.4,418.1 551.6,420.8 551.9,419.3 552.1,420.1 552.4,417.7 552.6,418.2 552.9,421.7 553.1,417.2 553.4,420.5 553.6,422.6 553.9,419.2 554.1,419.2 554.4,421.5 554.6,419.8 554.9,422.8 555.1,419.8 555.4,422.2 555.6,418.8 555.9,421.8 556.1,421.5 556.4,422.0 556.6,419.3 556.9,421.7 557.1,419.2 557.4,422.9 557.6,423.8 557.9,419.9 558.1,421.8 558.4,420.6 558.6,423.4 558.9,420.3 559.1,424.6 559.4,420.9 559.6,425.5 559.9,419.7 560.1,423.7 560.4,419.3 560.6,423.5 560.9,421.9 561.1,422.3 561.4,421.4 561.6,420.9 561.9,424.7 562.1,425.5 562.4,422.6 562.6,425.3 562.9,422.1 563.1,425.6 563.4,423.9 563.6,423.5 563.9,425.6 564.1,424.9 564.4,422.5 564.6,421.7 564.9,426.6 565.1,422.0 565.4,424.8 565.6,426.3 565.9,423.2 566.1,422.0 566.4,426.2 566.6,422.4 566.9,425.6 567.1,424.4 567.4,426.4 567.6,426.0 567.9,423.0 568.1,425.4 568.4,423.4 568.6,422.2 568.9,427.9 569.1,425.9 569.4,423.6 569.6,424.6 569.9,427.4 570.1,425.5 570.4,427.3 570.6,425.1 570.9,424.2 571.1,426.4 571.4,423.2 571.6,424.0 571.9,429.1 572.1,427.5 572.4,425.5 572.6,425.7 572.9,429.2 573.1,428.7 573.4,426.2 573.6,429.0 573.9,426.6 574.1,428.9 574.4,425.3 574.6,429.6 574.9,424.8 575.1,425.9 575.4,429.8 575.6,427.8 575.9,425.2 576.1,427.0 576.4,430.1 576.6,426.9 576.9,426.2 577.1,426.5 577.4,428.4 577.6,426.0 577.9,429.3 578.1,431.0 578.4,425.3 578.6,427.2 578.9,430.0 579.1,425.7 579.4,430.3 579.6,431.3 579.9,426.8 580.1,427.1 580.4,430.7 580.6,427.2 580.9,429.7 581.1,429.8 581.4,427.4 581.6,426.2 581.9,430.7 582.1,426.8 582.4,431.9 582.6,428.6 582.9,430.9 583.1,430.0 583.4,427.4 583.6,432.0 583.9,426.2 584.1,426.3 584.4,432.1 584.6,428.6 584.9,433.1 585.1,430.8 585.4,427.8 585.6,428.6 585.9,433.7 586.1,432.4 586.4,429.8 586.6,431.8 586.9,427.3 587.1,430.5 587.4,432.6 587.6,432.9 587.9,426.9 588.1,429.6 588.4,433.0 588.6,432.9 588.9,429.4 589.1,433.8 589.4,429.4 589.6,433.7 589.9,427.7 590.1,432.9 590.4,430.3 590.6,430.8 590.9,433.8 591.1,434.7 591.4,431.2 591.6,430.4 591.9,431.2 592.1,431.8 592.4,434.3 592.6,434.3 592.9,432.4 593.1,433.1 593.4,430.0 593.6,434.7 593.9,430.2 594.1,436.6 594.4,430.8 594.6,433.1 594.9,435.5 595.1,431.4 595.4,434.5 595.6,435.6 595.9,430.8 596.1,430.6 596.4,435.5 596.6,435.4 596.9,433.1 597.1,435.6 597.4,433.1 597.6,436.1 597.9,430.6 598.1,434.9 598.4,430.6 598.6,435.5 598.9,431.7 599.1,436.5 599.4,433.5 599.6,437.1 599.9,434.2 600.1,432.9 600.4,435.3 600.6,433.9 600.9,437.2 601.1,436.7 601.4,432.3 601.6,434.5 601.9,436.6 602.1,432.6 602.4,437.5 602.6,437.1 602.9,434.2 603.1,433.0 603.4,437.7 603.6,432.4 603.9,439.3 604.1,440.2 604.4,435.6 604.6,439.1 604.9,434.4 605.1,436.8 605.4,434.1 605.6,433.7 605.9,438.8 606.1,438.7 606.4,434.4 606.6,434.1 606.9,437.1 607.1,433.6 607.4,438.3 607.6,438.8 607.9,436.6 608.1,435.6 608.4,439.2 608.6,434.1 608.9,439.1 609.1,440.7 609.4,436.9 609.6,435.2 609.9,439.6 610.1,439.4 610.4,435.4 610.6,435.1 610.9,441.9 611.1,440.0 611.4,436.7 611.6,436.0 611.9,439.4 612.1,437.5 612.4,441.4 612.6,439.2 612.9,435.5 613.1,437.5 613.4,440.9 613.6,437.4 613.9,440.2 614.1,439.5 614.4,436.6 614.6,440.7 614.9,436.5 615.1,441.1 615.4,437.5 615.6,441.1 615.9,437.6 616.1,437.8 616.4,441.4 616.6,436.7 616.9,440.5 617.1,440.8 617.4,437.4 617.6,438.6 617.9,442.3 618.1,441.9 618.4,437.2 618.6,437.6 618.9,441.8 619.1,436.8 619.4,443.2 619.6,438.8 619.9,442.8 620.1,438.0 620.4,442.0 620.6,441.6 620.9,439.1 621.1,442.8 621.4,438.6 621.6,442.3 621.9,438.8 622.1,443.5 622.4,440.9 622.6,443.2 622.9,438.3 623.1,438.6 623.4,445.1 623.6,444.7 623.9,440.0 624.1,442.6 624.4,438.8 624.6,444.3 624.9,438.7 625.1,443.1 625.4,440.0 625.6,443.3 625.9,440.1 626.1,438.8 626.4,444.9 626.6,439.5 626.9,445.0 627.1,444.8 627.4,441.6 627.6,439.0 627.9,445.7 628.1,443.8 628.4,439.9 628.6,441.5 628.9,444.4 629.1,445.3 629.4,440.1 629.6,440.7 629.9,443.5 630.1,448.0 630.4,441.1 630.6,444.7 630.9,440.9 631.1,445.9 631.4,442.8 631.6,440.4 631.9,445.8 632.1,446.1 632.4,442.7 632.6,439.7 632.9,446.7 633.1,440.6 633.4,444.5 633.6,445.4 633.9,442.5 634.1,446.4 634.4,440.7 634.6,440.9 634.9,446.8 635.1,446.8 635.4,443.9 635.6,443.0 635.9,449.0 636.1,447.0 636.4,444.5 636.6,444.6 636.9,448.1 637.1,444.1 637.4,448.8 637.6,443.9 637.9,447.8 638.1,444.5 638.4,447.4 638.6,444.9 638.9,449.1 639.1,445.7 639.4,449.5 639.6,447.6 639.9,444.6 640.1,449.1 640.4,444.2 640.6,444.9 640.9,448.6 641.1,449.6 641.4,446.1 641.6,445.9 641.9,449.5 642.1,447.9 642.4,446.7 642.6,448.6 642.9,445.3 643.1,444.0 643.4,450.8 643.6,446.0 643.9,448.6 644.1,444.7 644.4,449.9 644.6,448.0 644.9,444.5 645.1,449.6 645.4,445.1 645.6,445.7 645.9,450.5 646.1,446.7 646.4,451.0 646.6,451.1 646.9,444.9 647.1,450.7 647.4,446.3 647.6,447.5 647.9,451.1 648.1,451.1 648.4,446.9 648.6,448.4 648.9,450.2 649.1,447.2 649.4,450.3 649.6,451.5 649.9,446.2 650.1,446.9 650.4,450.1 650.6,451.3 650.9,448.3 651.1,447.1 651.4,451.9 651.6,451.6 651.9,448.0 652.1,453.2 652.4,448.7 652.6,447.2 652.9,452.7 653.1,448.0 653.4,451.9 653.6,453.7 653.9,448.6 654.1,452.6 654.4,448.8 654.6,452.3 654.9,447.0 655.1,452.9 655.4,449.0 655.6,448.8 655.9,454.3 656.1,453.5 656.4,450.0 656.6,449.1 656.9,454.6 657.1,448.6 657.4,453.4 657.6,449.8 657.9,453.7 658.1,453.3 658.4,448.7 658.6,454.2 658.9,450.1 659.1,450.9 659.4,454.1 659.6,454.5 659.9,450.0 660.1,453.8 660.4,448.5 660.6,450.6 660.9,456.1 661.1,450.8 661.4,455.3 661.6,454.5 661.9,450.8 662.1,455.4 662.4,450.2 662.6,450.3 662.9,455.2 663.1,449.6 663.4,454.7 663.6,456.6 663.9,450.5 664.1,456.2 664.4,451.6 664.6,451.7 664.9,456.0 665.1,454.8 665.4,450.9 665.6,452.0 665.9,457.0 666.1,451.5 666.4,455.3 666.6,457.5 666.9,452.4 667.1,452.1 667.4,455.6 667.6,452.1 667.9,456.8 668.1,450.3 668.4,457.8 668.6,453.3 668.9,457.8 669.1,457.9 669.4,452.1 669.6,458.2 669.9,453.3 670.1,451.8 670.4,457.7 670.6,452.9 670.9,457.0 671.1,454.1 671.4,458.0 671.6,459.0 671.9,454.8 672.1,453.4 672.4,460.3 672.6,453.9 672.9,458.3 673.1,459.1 673.4,454.6 673.6,455.4 673.9,458.6 674.1,454.7 674.4,459.5 674.6,455.2 674.9,457.7 675.1,451.9 675.4,458.6 675.6,453.5 675.9,459.4 676.1,455.0 676.4,459.2 676.6,454.8 676.9,459.6 677.1,455.2 677.4,457.9 677.6,454.6 677.9,460.8 678.1,461.7 678.4,456.0 678.6,455.9 678.9,459.9 679.1,455.1 679.4,460.6 679.6,462.0 679.9,456.4 680.1,455.4 680.4,463.3 680.6,461.2 680.9,455.9 681.1,457.9 681.4,462.2 681.6,461.0 681.9,456.9 682.1,455.7 682.4,462.3 682.6,456.3 682.9,460.6 683.1,457.0 683.4,460.9 683.6,456.7 683.9,462.2 684.1,462.8 684.4,458.3 684.6,456.3 684.9,461.8 685.1,462.2 685.4,456.9 685.6,463.2 685.9,457.7 686.1,457.6 686.4,463.2 686.6,458.7 686.9,463.7 687.1,457.8 687.4,462.5 687.6,457.6 687.9,463.2 688.1,457.3 688.4,462.4 688.6,459.3 688.9,461.7 689.1,459.4 689.4,463.3 689.6,459.4 689.9,467.8 690.1,458.0 690.4,462.6 690.6,459.4 690.9,464.3 691.1,463.7 691.4,459.5 691.6,459.0 691.9,464.9 692.1,460.0 692.4,464.9 692.6,458.7 692.9,463.7 693.1,460.0 693.4,464.3 693.6,459.7 693.9,464.8 694.1,463.8 694.4,460.3 694.6,460.5 694.9,465.3 695.1,465.9 695.4,461.2 695.6,458.7 695.9,466.1 696.1,459.1 696.4,464.9 696.6,465.7 696.9,461.2 697.1,465.9 697.4,459.8 697.6,460.1 697.9,464.3 698.1,466.3 698.4,461.4 698.6,461.2 698.9,466.0 699.1,460.2 699.4,466.4 699.6,460.5 699.9,466.7 700.1,461.4 700.4,465.2 700.6,461.8 700.9,466.7 701.1,460.9 701.4,467.4 701.6,466.0 701.9,460.7 702.1,461.7 702.4,466.3 702.6,466.2 702.9,460.8 703.1,467.4 703.4,462.5 703.6,461.7 703.9,466.0 704.1,462.7 704.4,467.7 704.6,467.4 704.9,462.3 705.1,468.7 705.4,462.1 705.6,467.7 705.9,461.7 706.1,463.2 706.4,467.1 706.6,467.8 706.9,462.7 707.1,462.5 707.4,467.9 707.6,462.5 707.9,468.8 708.1,462.6 708.4,467.4 708.6,462.8 708.9,468.3 709.1,462.7 709.4,469.0 709.6,468.6 709.9,464.2 710.1,468.6 710.4,463.4 710.6,461.2 710.9,469.0 711.1,469.4 711.4,462.1 711.6,469.0 711.9,462.8 712.1,462.4 712.4,470.1 712.6,469.2 712.9,464.2 713.1,463.8 713.4,469.4 713.6,464.6 713.9,470.6 714.1,469.5 714.4,465.8 714.6,464.5 714.9,469.9 715.1,470.8 715.4,463.9 715.6,469.4 715.9,464.7 716.1,464.3 716.4,469.7 716.6,465.5 716.9,469.9 717.1,465.4 717.4,470.6 717.6,464.0 717.9,472.7 718.1,465.6 718.4,469.6 718.6,471.2 718.9,465.5 719.1,466.3 719.4,471.4 719.6,471.1 719.9,466.3 720.1,470.2 720.4,465.2 720.6,466.2 720.9,472.1 721.1,474.6 721.4,466.6 721.6,470.4 721.9,466.6 722.1,473.0 722.4,466.0 722.6,472.2 722.9,464.8 723.1,466.5 723.4,471.9 723.6,474.8 723.9,465.6 724.1,471.4 724.4,466.2 724.6,472.9 724.9,466.5 725.1,472.4 725.4,466.1 725.6,467.0 725.9,472.0 726.1,467.0 726.4,473.0 726.6,472.6 726.9,467.8 727.1,472.5 727.4,467.9 727.6,467.7 727.9,472.8 728.1,472.0 728.4,467.6 728.6,467.2 728.9,475.1 729.1,468.0 729.4,473.4 729.6,467.6 729.9,472.7 730.1,473.4 730.4,467.1 730.6,468.4 730.9,473.4 731.1,467.1 731.4,474.2 731.6,473.3 731.9,467.3 732.1,474.2 732.4,467.5 732.6,467.5 732.9,473.7 733.1,474.0 733.4,468.3 733.6,466.9 733.9,471.7 734.1,474.5 734.4,468.4 734.6,469.4 734.9,475.0 735.1,473.5 735.4,469.8 735.6,472.1 735.9,467.9 736.1,468.4 736.4,473.7 736.6,468.8 736.9,476.3 737.1,467.7 737.4,473.3 737.6,475.4 737.9,469.3 738.1,467.9 738.4,475.6 738.6,468.6 738.9,474.1 739.1,474.1 739.4,470.1 739.6,474.7 739.9,469.3 740.1,475.8 740.4,469.5 740.6,475.2 740.9,470.5 741.1,467.8 741.4,476.0 741.6,474.7 741.9,469.9 742.1,474.7 742.4,468.7 742.6,474.8 742.9,469.5 743.1,475.2 743.4,471.4 743.6,471.6 743.9,475.6 744.1,470.1 744.4,476.4 744.6,471.2 744.9,477.3 745.1,470.4 745.4,476.5 745.6,470.1 745.9,476.4 746.1,476.5 746.4,472.5 746.6,470.5 746.9,476.0 747.1,477.4 747.4,469.8 747.6,476.5 747.9,470.9 748.1,470.4 748.4,477.4 748.6,477.0 748.9,471.3 749.1,476.2 749.4,471.4 749.6,478.0 749.9,470.6 750.1,478.1 750.4,472.1 750.6,477.4 750.9,471.0 751.1,477.1 751.4,472.1 751.6,479.7 751.9,472.7 752.1,470.3 752.4,478.3 752.6,472.2 752.9,477.4 753.1,478.2 753.4,472.0 753.6,477.8 753.9,473.4 754.1,472.0 754.4,477.4 754.6,472.4 754.9,478.8 755.1,477.3 755.4,471.8 755.6,472.7 755.9,478.7 756.1,478.9 756.4,472.4 756.6,473.3 756.9,479.3 757.1,478.0 757.4,474.4 757.6,480.1 757.9,473.5 758.1,474.3 758.4,478.4 758.6,478.8 758.9,473.4 759.1,473.1 759.4,478.2 759.6,479.4 759.9,471.0 760.1,473.9 760.4,479.9 760.6,479.7 760.9,472.8 761.1,478.9 761.4,472.4 761.6,479.3 761.9,473.0 762.1,473.5 762.4,480.0 762.6,480.9 762.9,474.4 763.1,474.0 763.4,480.0 763.6,480.1 763.9,474.0 764.1,474.3 764.4,478.4 764.6,475.4 764.9,479.6 765.1,479.3 765.4,475.0 765.6,480.7 765.9,475.1 766.1,473.1 766.4,479.9 766.6,479.5 766.9,473.2 767.1,475.3 767.4,480.4 767.6,474.5 767.9,480.3 768.1,480.6 768.4,474.7 768.6,475.6 768.9,480.8 769.1,481.2 769.4,472.8 769.6,473.4 769.9,480.9 770.1,480.7 770.4,475.3 770.6,474.6 770.9,482.6 771.1,474.5 771.4,480.0 771.6,475.7 771.9,480.8 772.1,480.8 772.4,476.6 772.6,481.0 772.9,474.3 773.1,475.1 773.4,481.3 773.6,481.4 773.9,475.0 774.1,481.8 774.4,476.7 774.6,474.9 774.9,481.0 775.1,477.4 775.4,481.8 775.6,482.1 775.9,476.5 776.1,482.0 776.4,477.0 776.6,482.5 776.9,476.2 777.1,475.4 777.4,482.5 777.6,481.6 777.9,475.6 778.1,482.2 778.4,476.8 778.6,483.8 778.9,477.4 779.1,475.3 779.4,482.6 779.6,483.2 779.9,477.2 780.1,477.0 780.4,482.4 780.6,475.2 780.9,483.6 781.1,476.6 781.4,483.6 781.6,477.8 781.9,484.0 782.1,484.1 782.4,476.8 782.6,477.0 782.9,482.6 783.1,484.1 783.4,477.4 783.6,477.5 783.9,483.1 784.1,478.2 784.4,483.5 784.6,482.8 784.9,478.4 785.1,483.4 785.4,475.2 785.6,483.6 785.9,477.4 786.1,483.4 786.4,477.7 786.6,477.3 786.9,482.3 787.1,482.9 787.4,477.3 787.6,476.9 787.9,483.7 788.1,483.3 788.4,477.1 788.6,476.8 788.9,484.6 789.1,483.3 789.4,477.4 789.6,478.0 789.9,483.3 790.1,483.9 790.4,478.8 790.6,483.8 790.9,477.5 791.1,484.8 791.4,478.5 791.6,477.9 791.9,483.9 792.1,477.0 792.4,482.9 792.6,478.0 792.9,484.1 793.1,483.1 793.4,477.7 793.6,482.8 793.9,478.4 794.1,481.2 794.4,483.2" stroke="#548235" stroke-width="2.2" fill="none" stroke-linejoin="round" stroke-linecap="butt"/>
<path d="M44.6,180.8 48.6,184.8 55.9,190.2 62.6,193.6 69.4,199.9 75.9,205.4 83.8,205.0 87.7,213.5 92.6,216.5 99.1,218.4 102.4,222.9 106.1,224.8 109.2,222.7 112.2,226.5 118.3,229.8 124.5,234.2 131.2,236.2 134.4,242.0 138.8,242.4 144.7,249.1 149.8,248.7 153.5,252.1 157.2,251.1 161.6,255.5 166.7,260.7 169.6,260.6 172.6,262.7 175.5,267.1 180.7,266.5 185.0,273.1 187.1,271.6 189.2,272.4 191.3,274.1 193.4,274.4 195.4,277.3 197.3,278.4 199.3,278.9 201.2,281.0 203.1,281.8 205.0,281.8 206.8,283.3 208.6,285.0 210.4,285.4 212.2,286.9 213.9,287.4 215.6,286.4 217.3,288.3 219.0,290.8 220.6,290.5 222.2,291.4 223.9,291.6 225.4,291.8 227.0,294.9 228.6,295.8 230.1,296.7 231.6,295.4 233.1,295.3 234.6,299.2 236.0,299.2 237.5,299.9 238.9,302.2 240.3,301.2 241.7,300.1 243.1,300.1 244.5,302.2 245.8,302.0 247.2,303.3 248.5,307.0 249.8,305.2 251.3,307.4 252.6,308.4 253.9,307.1 255.1,307.5 256.4,310.0 257.6,309.1 258.8,313.3 260.0,313.8 261.2,312.4 262.4,312.2 263.6,313.9 264.8,316.1 265.9,316.5 267.1,316.9 268.2,316.6 269.3,316.4 270.5,316.9 271.6,316.8 272.7,318.2 273.7,317.2 274.8,318.0 275.9,319.0 277.0,321.1 278.0,321.1 279.1,321.5 280.1,321.2 281.1,322.5 282.1,322.8 283.2,323.3 284.2,324.1 285.2,326.8 286.1,326.3 287.1,327.4 288.1,325.4 289.1,327.9 290.0,327.5 291.0,327.6 291.9,328.7 292.9,329.2 293.8,330.3 294.7,331.5 295.6,330.7 296.5,333.0 297.4,332.9 298.3,332.9 299.2,334.9 300.1,334.6 301.0,335.5 301.9,334.3 302.7,336.0 303.6,337.4 304.5,335.9 305.3,336.3 306.2,335.1 307.0,337.7 307.8,339.3 308.7,338.0 309.5,337.7 310.3,338.1 311.1,338.7 311.9,341.6 312.7,340.4 313.5,341.2 314.3,338.4 315.1,341.2 315.9,341.9 316.7,342.0 317.5,342.3 318.2,344.1 319.0,342.9 319.7,342.1 320.5,345.0 321.3,343.7 322.0,344.9 322.7,346.1 323.5,344.6 324.2,345.8 325.0,344.2 325.7,346.0 326.4,345.4 327.1,347.9 327.8,348.3 328.5,346.4 329.2,345.5 330.0,345.9 330.7,347.7 331.3,349.3 332.0,349.7 332.7,349.4 333.4,349.5 334.1,349.0 334.8,350.8 335.4,350.1 336.1,351.8 336.8,350.2 337.4,349.1 338.1,350.6 338.8,352.3 339.4,352.1 340.1,352.2 340.7,352.9 341.3,352.7 342.0,351.3 342.6,351.8 343.3,352.0 343.9,352.5 344.5,351.3 345.1,353.4 345.8,354.6 346.4,353.9 347.0,355.7 347.6,356.8 348.2,352.8 348.8,355.2 349.4,358.1 350.0,356.8 350.6,357.1 351.2,357.7 351.8,358.3 352.4,356.7 353.0,358.5 353.6,358.5 354.2,358.7 354.7,358.1 355.3,358.6 355.9,357.4 356.5,357.8 357.0,361.2 357.6,360.8 358.2,358.5 358.7,358.1 359.3,361.9 359.8,361.5 360.4,361.0 360.9,362.5 361.5,360.0 362.0,361.3 362.6,361.3 363.1,361.7 363.7,360.9 364.2,363.1 364.7,361.6 365.3,362.2 365.8,365.1 366.3,362.3 366.9,364.7 367.4,364.7 367.9,367.7 368.4,364.4 368.9,364.3 369.5,363.7 370.0,366.0 370.5,366.8 371.0,365.7 371.5,366.8 372.0,367.2 372.5,368.6 373.0,368.0 373.5,366.2 374.0,366.4 374.5,368.2 375.0,368.7 375.5,368.8 376.0,368.8 376.5,369.8 377.0,368.5 377.5,367.5 377.9,371.6 378.4,369.9 378.9,368.8 379.4,368.8 379.9,371.1 380.3,372.1 380.8,369.6 381.3,370.5 381.7,371.2 382.2,371.2 382.7,371.6 383.1,374.0 383.6,372.9 384.1,373.2 384.5,373.8 385.0,371.8 385.4,373.2 385.9,374.3 386.4,374.3 386.8,373.7 387.3,373.8 387.7,376.3 388.1,373.3 388.6,374.0 389.0,374.3 389.5,376.0 389.9,376.5 390.4,372.9 390.8,376.4 391.2,375.7 391.7,374.2 392.1,374.6 392.5,380.1 393.0,373.9 393.4,376.8 393.8,377.0 394.2,377.4 394.7,377.6 395.1,377.5 395.5,375.2 395.9,378.9 396.4,375.5 396.8,377.7 397.2,380.2 397.6,378.9 398.0,376.6 398.4,378.6 398.8,378.4 399.2,376.3 399.7,379.6 400.1,380.9 400.5,379.8 400.9,382.0 401.3,378.9 401.7,380.8 402.1,381.9 402.5,378.4 402.9,381.4 403.3,377.8 403.7,383.2 404.1,381.4 404.5,382.0 404.9,378.6 405.2,384.7 405.6,382.6 406.0,382.1 406.4,383.4 406.8,384.2 407.2,384.6 407.6,385.0 407.9,384.6 408.3,386.1 408.7,386.6 409.1,383.1 409.5,384.6 409.8,385.8 410.2,384.3 410.6,385.0 411.0,385.2 411.3,386.2 411.7,384.7 412.1,387.6 412.5,382.7 412.8,386.4 413.2,386.8 413.6,384.2 413.9,386.6 414.3,385.4 414.7,384.8 415.0,385.2 415.4,385.8 415.7,387.1 416.1,387.9 416.5,388.6 416.8,386.3 417.2,386.2 417.5,390.0 417.9,389.4 418.2,385.1 418.6,389.8 418.9,385.8 419.3,388.6 419.6,387.4 420.0,388.6 420.3,388.1 420.7,387.8 421.0,391.0 421.4,389.0 421.7,389.9 422.1,391.4 422.4,389.7 422.7,387.8 423.1,388.7 423.4,388.7 423.8,390.2 424.1,389.3 424.4,388.9 424.8,389.9 425.1,388.0 425.4,388.5 425.8,389.9 426.1,392.9 426.4,390.5 426.8,390.5 427.1,392.4 427.4,392.2 427.8,391.0 428.1,390.4 428.4,390.0 428.7,392.5 429.1,392.7 429.4,391.5 429.7,392.4 430.0,388.3 430.4,392.6 430.7,393.2 431.0,393.3 431.3,394.3 431.6,391.9 431.9,392.2 432.3,392.9 432.6,396.0 432.9,392.4 433.2,391.9 433.5,393.5 433.8,393.3 434.2,393.6 434.5,395.8 434.8,394.1 435.1,394.9 435.4,393.4 435.7,394.7 436.0,395.3 436.3,395.8 436.6,397.4 436.9,396.8 437.2,397.9 437.5,394.4 437.8,396.2 438.1,395.7 438.4,396.4 438.7,397.2 439.0,396.7 439.3,397.9 439.6,396.6 439.9,397.3 440.2,396.2 440.5,396.7 440.8,398.8 441.1,395.4 441.4,397.9 441.7,396.0 442.0,397.9 442.3,399.9 442.6,397.1 442.9,400.2 443.2,397.8 443.5,399.4 443.8,399.5 444.1,398.9 444.3,399.0 444.6,400.8 444.9,395.7 445.2,399.8 445.5,398.2 445.8,399.8 446.1,398.3 446.3,398.3 446.6,395.3 446.9,398.9 447.2,398.3 447.5,399.6 447.8,398.7 448.0,401.7 448.3,397.8 448.6,401.7 448.9,399.2 449.2,397.9 449.4,401.8 449.7,400.2 450.0,399.6 450.3,401.3 450.5,397.7 450.8,401.7 451.1,402.4 451.4,402.7 451.6,399.5 451.9,402.8 452.2,403.0 452.4,401.1 452.7,401.9 453.0,402.4 453.3,402.3 453.5,401.7 453.8,401.4 454.1,401.5 454.3,402.2 454.6,402.4 454.9,402.2 455.1,402.7 455.4,402.0 455.7,403.6 455.9,403.6 456.2,402.4 456.4,405.4 456.7,404.6 457.0,404.6 457.2,402.8 457.5,403.5 457.7,401.6 458.0,403.7 458.3,402.0 458.5,402.5 458.8,405.1 459.0,402.9 459.3,406.5 459.6,405.7 459.8,405.3 460.1,404.8 460.3,404.8 460.6,407.9 460.8,403.6 461.1,404.4 461.3,405.1 461.6,407.3 461.8,403.8 462.1,402.8 462.3,402.8 462.6,407.2 462.8,406.7 463.1,406.5 463.3,404.2 463.6,406.4 463.8,405.9 464.1,406.2 464.3,407.3 464.6,408.0 464.8,404.9 465.1,404.0 465.3,404.5 465.6,407.9 465.8,408.5 466.0,406.2 466.3,407.8 466.5,406.0 466.8,409.3 467.1,409.0 467.4,407.2 467.7,407.5 468.0,405.9 468.2,411.0 468.5,408.4 468.7,408.4 468.9,412.6 469.2,409.8 469.4,407.0 469.6,407.7 469.9,411.8 470.1,410.2 470.4,410.9 470.6,409.2 470.8,406.4 471.1,409.8 471.3,405.1 471.6,407.1 471.9,410.2 472.2,411.8 472.5,410.0 472.7,408.2 472.9,411.8 473.1,408.0 473.4,409.7 473.6,409.9 473.8,410.6 474.1,408.5 474.3,413.6 474.6,410.3 474.9,413.6 475.2,411.8 475.4,413.5 475.7,410.9 475.9,411.7 476.1,412.5 476.3,410.0 476.6,412.0 476.8,412.4 477.1,413.4 477.4,410.7 477.7,414.6 477.9,413.9 478.1,413.0 478.3,411.4 478.6,414.0 478.8,412.8 479.1,413.2 479.4,414.1 479.7,413.8 479.9,413.4 480.1,415.6 480.3,413.9 480.6,412.9 480.9,414.7 481.2,414.3 481.4,414.6 481.6,414.7 481.8,414.4 482.1,413.5 482.4,416.5 482.7,412.9 482.9,413.1 483.1,414.9 483.3,413.5 483.6,411.0 483.9,415.3 484.2,417.3 484.4,413.9 484.6,417.0 484.8,416.3 485.1,416.3 485.4,415.4 485.7,414.4 485.9,416.2 486.1,416.3 486.4,412.4 486.7,416.0 486.9,415.8 487.1,416.0 487.3,413.4 487.6,417.2 487.9,412.2 488.1,415.8 488.3,414.0 488.6,418.2 488.9,416.9 489.2,417.6 489.4,417.8 489.6,413.4 489.9,418.6 490.2,418.7 490.4,415.1 490.6,417.7 490.9,420.7 491.2,420.0 491.4,416.6 491.6,419.3 491.9,416.1 492.2,417.6 492.4,419.2 492.6,419.0 492.9,416.8 493.2,418.4 493.4,417.7 493.6,420.2 493.9,419.8 494.2,419.4 494.3,421.5 494.6,416.0 494.9,420.4 495.1,418.9 495.3,421.2 495.6,421.4 495.9,418.1 496.1,421.3 496.4,416.6 496.7,419.4 496.9,420.4 497.1,421.4 497.4,418.4 497.6,421.4 497.8,418.2 498.1,419.1 498.4,422.7 498.6,421.1 498.9,417.9 499.1,417.6 499.3,420.4 499.6,421.0 499.9,423.2 500.1,418.7 500.4,422.1 500.6,419.2 500.8,420.9 501.1,420.1 501.4,423.0 501.6,420.6 501.9,422.4 502.1,421.8 502.4,417.9 502.7,419.3 502.9,418.8 503.1,420.2 503.4,421.4 503.6,422.4 503.9,424.9 504.1,423.2 504.4,425.1 504.7,423.2 504.9,424.0 505.1,424.0 505.4,423.1 505.6,424.6 505.9,421.0 506.1,422.2 506.4,423.8 506.6,425.6 506.9,420.7 507.2,424.0 507.4,425.1 507.6,425.8 507.9,422.3 508.1,426.8 508.4,424.8 508.6,427.2 508.9,424.7 509.1,425.4 509.4,427.1 509.6,426.6 509.9,425.1 510.1,424.7 510.4,427.8 510.7,425.7 510.8,425.1 511.1,424.8 511.4,426.7 511.6,428.4 511.9,426.9 512.1,424.2 512.4,428.0 512.6,429.4 512.9,426.2 513.1,425.7 513.4,429.2 513.6,426.4 513.9,426.7 514.1,428.9 514.4,424.8 514.6,427.4 514.9,430.2 515.1,426.8 515.4,430.9 515.6,429.0 515.9,426.1 516.1,428.0 516.4,430.8 516.6,428.7 516.9,429.8 517.1,424.3 517.4,430.2 517.6,431.3 517.9,426.9 518.1,432.1 518.4,430.1 518.6,429.6 518.9,427.3 519.1,426.2 519.4,430.8 519.6,429.4 519.9,431.5 520.1,427.4 520.4,431.8 520.6,428.7 520.9,431.0 521.1,433.2 521.4,430.4 521.6,430.5 521.9,432.6 522.1,430.8 522.4,428.6 522.6,432.1 522.9,430.2 523.1,429.7 523.4,430.8 523.6,434.1 523.9,430.5 524.1,432.6 524.4,429.3 524.6,433.2 524.9,430.9 525.1,428.5 525.4,432.0 525.6,434.5 525.9,430.5 526.1,432.0 526.4,436.2 526.6,431.2 526.9,436.4 527.1,430.6 527.4,432.9 527.6,431.5 527.9,430.3 528.1,435.4 528.4,433.9 528.6,432.1 528.9,434.6 529.1,435.2 529.4,433.5 529.6,430.1 529.9,433.9 530.1,432.2 530.4,435.2 530.6,431.0 530.9,436.3 531.1,431.5 531.4,434.5 531.6,433.8 531.9,434.2 532.1,436.0 532.4,433.5 532.6,437.4 532.9,433.1 533.1,434.1 533.4,435.2 533.6,433.6 533.9,437.3 534.1,434.1 534.4,437.1 534.6,435.8 534.9,436.9 535.1,433.5 535.4,438.0 535.6,436.7 535.9,439.5 536.1,437.2 536.4,435.9 536.6,439.3 536.9,436.1 537.1,439.6 537.4,435.7 537.6,439.5 537.9,437.2 538.1,435.7 538.4,437.2 538.6,435.3 538.9,439.7 539.1,438.8 539.4,437.1 539.6,436.5 539.9,439.6 540.1,436.2 540.4,439.8 540.6,437.9 540.9,436.5 541.1,436.1 541.4,439.5 541.6,434.6 541.9,439.9 542.1,435.6 542.4,439.2 542.6,441.5 542.9,438.2 543.1,437.8 543.4,441.1 543.6,438.3 543.9,440.2 544.1,440.5 544.4,438.6 544.6,441.5 544.9,439.4 545.1,440.7 545.4,439.8 545.6,439.9 545.9,438.8 546.1,439.2 546.4,441.2 546.6,439.1 546.9,441.7 547.1,442.3 547.4,439.6 547.6,439.1 547.9,442.1 548.1,441.7 548.4,439.9 548.6,441.8 548.9,440.5 549.1,441.1 549.4,444.3 549.6,439.8 549.9,443.8 550.1,440.9 550.4,443.3 550.6,438.6 550.9,444.0 551.1,443.5 551.4,441.5 551.6,440.6 551.9,442.8 552.1,442.4 552.4,444.1 552.6,444.4 552.9,439.9 553.1,439.6 553.4,445.9 553.6,442.5 553.9,440.2 554.1,444.7 554.4,442.9 554.6,442.2 554.9,445.5 555.1,444.7 555.4,441.6 555.6,446.1 555.9,443.6 556.1,446.8 556.4,443.1 556.6,442.8 556.9,444.9 557.1,445.1 557.4,442.7 557.6,445.6 557.9,443.7 558.1,446.4 558.4,444.9 558.6,446.4 558.9,445.2 559.1,446.7 559.4,444.1 559.6,447.1 559.9,442.8 560.1,446.5 560.4,443.6 560.6,444.6 560.9,446.7 561.1,444.0 561.4,448.8 561.6,446.8 561.9,443.6 562.1,445.4 562.4,447.3 562.6,447.4 562.9,443.6 563.1,447.8 563.4,445.3 563.6,447.2 563.9,445.9 564.1,444.7 564.4,448.8 564.6,448.0 564.9,445.1 565.1,448.7 565.4,447.1 565.6,448.5 565.9,444.1 566.1,445.8 566.4,447.7 566.6,444.3 566.9,450.4 567.1,448.7 567.4,445.7 567.6,447.3 567.9,451.2 568.1,450.1 568.4,446.9 568.6,445.1 568.9,450.7 569.1,447.1 569.4,449.3 569.6,446.6 569.9,450.6 570.1,448.3 570.4,451.0 570.6,451.0 570.9,448.9 571.1,451.8 571.4,446.7 571.6,447.5 571.9,452.2 572.1,449.5 572.4,447.6 572.6,446.4 572.9,449.7 573.1,450.9 573.4,447.6 573.6,452.9 573.9,446.5 574.1,450.7 574.4,448.5 574.6,447.6 574.9,451.5 575.1,449.4 575.4,453.9 575.6,453.5 575.9,450.5 576.1,450.5 576.4,453.1 576.6,453.4 576.9,449.7 577.1,448.3 577.4,453.2 577.6,454.9 577.9,449.2 578.1,454.1 578.4,451.3 578.6,453.7 578.9,452.3 579.1,450.3 579.4,452.8 579.6,449.0 579.9,454.1 580.1,453.8 580.4,451.4 580.6,451.8 580.9,455.7 581.1,454.0 581.4,451.0 581.6,450.5 581.9,453.9 582.1,454.9 582.4,452.5 582.6,452.5 582.9,456.1 583.1,453.7 583.4,451.0 583.6,454.5 583.9,449.3 584.1,455.9 584.4,453.5 584.6,452.3 584.9,455.9 585.1,453.2 585.4,454.5 585.6,450.8 585.9,455.9 586.1,453.7 586.4,457.0 586.6,457.9 586.9,454.4 587.1,453.4 587.4,458.2 587.6,456.9 587.9,453.6 588.1,456.3 588.4,452.9 588.6,453.1 588.9,459.8 589.1,459.1 589.4,454.2 589.6,458.0 589.9,453.1 590.1,458.1 590.4,455.3 590.6,459.5 590.9,456.1 591.1,458.8 591.4,454.6 591.6,453.7 591.9,459.5 592.1,455.4 592.4,457.2 592.6,454.6 592.9,456.0 593.1,458.3 593.4,453.8 593.6,458.8 593.9,454.8 594.1,458.0 594.4,454.1 594.6,460.4 594.9,455.8 595.1,459.9 595.4,455.6 595.6,456.7 595.9,459.1 596.1,461.5 596.4,455.6 596.6,454.4 596.9,459.7 597.1,459.1 597.4,455.4 597.6,459.8 597.9,455.4 598.1,460.4 598.4,456.8 598.6,461.8 598.9,456.4 599.1,459.0 599.4,455.0 599.6,460.1 599.9,458.0 600.1,457.6 600.4,461.1 600.6,457.2 600.9,462.1 601.1,461.4 601.4,456.9 601.6,461.1 601.9,457.3 602.1,461.7 602.4,456.1 602.6,463.3 602.9,459.0 603.1,459.2 603.4,462.2 603.6,459.9 603.9,462.4 604.1,461.5 604.4,457.4 604.6,459.1 604.9,461.7 605.1,458.0 605.4,462.3 605.6,459.5 605.9,464.0 606.1,464.3 606.4,458.3 606.6,463.2 606.9,459.7 607.1,463.5 607.4,460.1 607.6,458.5 607.9,463.5 608.1,460.9 608.4,463.0 608.6,460.3 608.9,463.0 609.1,463.3 609.4,460.7 609.6,460.6 609.9,464.1 610.1,464.1 610.4,460.2 610.6,459.7 610.9,463.1 611.1,462.5 611.4,459.2 611.6,463.2 611.9,458.8 612.1,465.2 612.4,461.4 612.6,464.4 612.9,459.0 613.1,465.2 613.4,460.9 613.6,464.7 613.9,460.6 614.1,465.6 614.4,460.7 614.6,461.8 614.9,465.6 615.1,461.6 615.4,465.6 615.6,464.8 615.9,462.9 616.1,464.8 616.4,462.1 616.6,461.2 616.9,465.8 617.1,466.3 617.4,462.2 617.6,461.0 617.9,465.1 618.1,465.5 618.4,462.0 618.6,466.0 618.9,462.8 619.1,466.2 619.4,462.1 619.6,468.7 619.9,463.4 620.1,463.5 620.4,465.9 620.6,462.9 620.9,467.4 621.1,462.5 621.4,464.9 621.6,467.4 621.9,462.4 622.1,467.7 622.4,464.6 622.6,467.4 622.9,464.7 623.1,463.9 623.4,467.3 623.6,468.5 623.9,463.8 624.1,468.3 624.4,464.3 624.6,465.0 624.9,467.2 625.1,469.0 625.4,465.3 625.6,465.3 625.9,468.2 626.1,469.3 626.4,464.5 626.6,464.9 626.9,467.3 627.1,464.4 627.4,469.3 627.6,469.1 627.9,465.7 628.1,464.6 628.4,467.9 628.6,466.0 628.9,469.5 629.1,465.2 629.4,470.6 629.6,466.2 629.9,470.0 630.1,471.7 630.4,465.5 630.6,465.8 630.9,470.4 631.1,465.5 631.4,469.2 631.6,471.8 631.9,466.5 632.1,467.6 632.4,470.2 632.6,470.6 632.9,466.6 633.1,470.6 633.4,467.2 633.6,470.5 633.9,468.5 634.1,471.5 634.4,466.8 634.6,470.9 634.9,468.2 635.1,468.7 635.4,472.0 635.6,468.8 635.9,472.0 636.1,467.6 636.4,474.2 636.6,469.2 636.9,472.0 637.1,472.0 637.4,467.9 637.6,470.5 637.9,472.4 638.1,470.7 638.4,472.5 638.6,470.2 638.9,472.7 639.1,474.1 639.4,469.2 639.6,472.7 639.9,468.7 640.1,470.0 640.4,474.1 640.6,469.7 640.9,472.5 641.1,473.7 641.4,470.3 641.6,471.0 641.9,474.8 642.1,469.6 642.4,473.8 642.6,471.2 642.9,475.2 643.1,475.9 643.4,471.7 643.6,475.0 643.9,469.0 644.1,475.2 644.4,471.8 644.6,470.7 644.9,475.1 645.1,474.6 645.4,471.7 645.6,471.1 645.9,477.1 646.1,473.4 646.4,475.9 646.6,472.6 646.9,477.6 647.1,476.4 647.4,470.8 647.6,477.2 647.9,472.1 648.1,475.6 648.4,473.2 648.6,472.3 648.9,477.7 649.1,476.2 649.4,473.4 649.6,477.8 649.9,472.0 650.1,477.5 650.4,474.0 650.6,471.7 650.9,476.6 651.1,474.4 651.4,477.4 651.6,474.0 651.9,477.5 652.1,477.7 652.4,474.4 652.6,477.9 652.9,474.4 653.1,473.3 653.4,478.7 653.6,478.8 653.9,474.4 654.1,478.2 654.4,474.5 654.6,475.1 654.9,479.6 655.1,479.8 655.4,474.0 655.6,477.6 655.9,475.7 656.1,478.9 656.4,475.5 656.6,473.6 656.9,478.4 657.1,474.5 657.4,480.1 657.6,479.7 657.9,474.0 658.1,474.2 658.4,479.7 658.6,480.2 658.9,475.7 659.1,480.1 659.4,475.9 659.6,475.8 659.9,482.5 660.1,477.3 660.4,481.5 660.6,481.3 660.9,477.0 661.1,479.9 661.4,477.2 661.6,480.5 661.9,476.4 662.1,478.0 662.4,482.0 662.6,481.8 662.9,477.2 663.1,479.2 663.4,482.4 663.6,478.4 663.9,481.2 664.1,479.2 664.4,481.9 664.6,482.4 664.9,479.5 665.1,482.6 665.4,479.0 665.6,478.3 665.9,484.5 666.1,479.6 666.4,482.9 666.6,480.1 666.9,483.8 667.1,481.9 667.4,479.6 667.6,482.7 667.9,479.5 668.1,480.6 668.4,484.7 668.6,484.3 668.9,479.0 669.1,480.9 669.4,482.5 669.6,480.3 669.9,483.9 670.1,484.8 670.4,480.0 670.6,485.5 670.9,480.9 671.1,479.9 671.4,483.8 671.6,479.3 671.9,485.9 672.1,484.7 672.4,481.2 672.6,486.0 672.9,482.5 673.1,484.9 673.4,481.7 673.6,485.0 673.9,480.7 674.1,484.8 674.4,480.8 674.6,482.2 674.9,487.0 675.1,486.2 675.4,483.0 675.6,482.2 675.9,486.3 676.1,485.0 676.4,481.9 676.6,482.4 676.9,485.8 677.1,482.8 677.4,488.4 677.6,487.6 677.9,483.8 678.1,488.1 678.4,483.2 678.6,486.8 678.9,482.6 679.1,482.6 679.4,486.7 679.6,488.6 679.9,483.5 680.1,488.5 680.4,483.2 680.6,487.5 680.9,483.5 681.1,487.9 681.4,483.4 681.6,490.7 681.9,483.3 682.1,484.5 682.4,488.1 682.6,488.1 682.9,484.4 683.1,484.1 683.4,488.4 683.6,490.0 683.9,484.3 684.1,484.7 684.4,488.3 684.6,484.0 684.9,490.7 685.1,489.2 685.4,484.2 685.6,485.9 685.9,491.1 686.1,485.3 686.4,490.3 686.6,484.6 686.9,490.9 687.1,485.5 687.4,490.1 687.6,485.2 687.9,489.8 688.1,485.1 688.4,490.4 688.6,492.4 688.9,486.5 689.1,485.2 689.4,490.0 689.6,492.5 689.9,486.1 690.1,487.3 690.4,491.3 690.6,490.8 690.9,487.5 691.1,488.7 691.4,490.4 691.6,491.8 691.9,487.3 692.1,483.7 692.4,489.8 692.6,492.9 692.9,488.3 693.1,491.1 693.4,485.9 693.6,487.2 693.9,493.2 694.1,495.3 694.4,488.2 694.6,491.7 694.9,486.5 695.1,493.3 695.4,487.4 695.6,493.0 695.9,487.8 696.1,487.2 696.4,492.0 696.6,486.7 696.9,492.0 697.1,487.7 697.4,494.0 697.6,493.9 697.9,488.6 698.1,489.2 698.4,493.6 698.6,495.0 698.9,489.8 699.1,488.1 699.4,494.4 699.6,488.8 699.9,493.4 700.1,489.2 700.4,493.5 700.6,491.5 700.9,493.5 701.1,494.7 701.4,488.7 701.6,494.1 701.9,489.4 702.1,495.6 702.4,490.8 702.6,490.9 702.9,495.9 703.1,491.3 703.4,496.1 703.6,489.6 703.9,495.2 704.1,495.6 704.4,491.1 704.6,495.1 704.9,489.9 705.1,489.1 705.4,497.9 705.6,490.7 705.9,496.5 706.1,491.6 706.4,498.9 706.6,491.4 706.9,496.5 707.1,492.4 707.4,495.7 707.6,492.3 707.9,494.7 708.1,492.7 708.4,497.1 708.6,497.2 708.9,492.9 709.1,491.3 709.4,497.7 709.6,496.6 709.9,492.4 710.1,493.4 710.4,496.8 710.6,498.5 710.9,491.7 711.1,492.3 711.4,498.1 711.6,492.4 711.9,500.4 712.1,493.2 712.4,498.6 712.6,499.7 712.9,492.9 713.1,494.4 713.4,498.6 713.6,493.1 713.9,498.2 714.1,491.7 714.4,500.1 714.6,495.0 714.9,499.1 715.1,499.7 715.4,493.6 715.6,498.0 715.9,494.9 716.1,499.2 716.4,495.6 716.6,493.8 716.9,502.0 717.1,494.7 717.4,498.6 717.6,499.6 717.9,495.2 718.1,493.0 718.4,498.7 718.6,495.1 718.9,499.2 719.1,499.2 719.4,494.7 719.6,499.6 719.9,495.2 720.1,494.4 720.4,500.7 720.6,494.9 720.9,498.9 721.1,499.9 721.4,493.2 721.6,499.6 721.9,494.7 722.1,496.2 722.4,500.7 722.6,501.4 722.9,495.9 723.1,501.9 723.4,495.6 723.6,501.7 723.9,493.0 724.1,500.8 724.4,494.8 724.6,495.9 724.9,501.7 725.1,502.2 725.4,497.2 725.6,497.4 725.9,502.1 726.1,501.6 726.4,496.8 726.6,500.2 726.9,497.0 727.1,501.7 727.4,496.3 727.6,495.9 727.9,501.5 728.1,502.5 728.4,497.2 728.6,503.0 728.9,496.3 729.1,497.2 729.4,502.9 729.6,496.1 729.9,503.3 730.1,498.4 730.4,501.8 730.6,502.1 730.9,497.2 731.1,498.9 731.4,503.3 731.6,496.4 731.9,503.6 732.1,495.5 732.4,502.2 732.6,496.8 732.9,502.1 733.1,503.9 733.4,498.9 733.6,504.7 733.9,500.2 734.1,497.7 734.4,503.5 734.6,504.1 734.9,498.3 735.1,503.5 735.4,498.3 735.6,499.3 735.9,505.3 736.1,498.6 736.4,503.9 736.6,499.2 736.9,504.4 737.1,499.0 737.4,504.0 737.6,499.0 737.9,504.4 738.1,504.8 738.4,498.4 738.6,498.2 738.9,504.2 739.1,498.3 739.4,504.9 739.6,499.3 739.9,504.6 740.1,499.2 740.4,505.2 740.6,499.7 740.9,504.4 741.1,498.6 741.4,506.4 741.6,506.1 741.9,499.5 742.1,500.1 742.4,505.3 742.6,499.9 742.9,508.1 743.1,501.0 743.4,506.0 743.6,505.7 743.9,500.4 744.1,506.0 744.4,501.2 744.6,499.2 744.9,505.5 745.1,506.9 745.4,500.7 745.6,501.3 745.9,505.8 746.1,501.0 746.4,505.7 746.6,509.1 746.9,501.2 747.1,506.0 747.4,500.7 747.6,507.2 747.9,501.2 748.1,501.4 748.4,507.9 748.6,507.5 748.9,500.5 749.1,506.1 749.4,502.0 749.6,501.7 749.9,507.2 750.1,506.1 750.4,502.5 750.6,502.5 750.9,507.6 751.1,507.1 751.4,501.9 751.6,506.4 751.9,500.1 752.1,501.9 752.4,506.9 752.6,507.7 752.9,502.4 753.1,502.0 753.4,507.7 753.6,502.7 753.9,507.9 754.1,504.3 754.4,507.6 754.6,503.3 754.9,508.4 755.1,507.5 755.4,502.3 755.6,503.3 755.9,508.2 756.1,502.0 756.4,509.3 756.6,502.9 756.9,509.6 757.1,503.9 757.4,508.6 757.6,504.4 757.9,508.1 758.1,503.0 758.4,508.5 758.6,510.7 758.9,502.3 759.1,503.4 759.4,508.8 759.6,508.4 759.9,503.0 760.1,510.3 760.4,503.9 760.6,509.7 760.9,503.9 761.1,503.2 761.4,509.3 761.6,510.4 761.9,504.7 762.1,509.3 762.4,504.1 762.6,509.7 762.9,503.6 763.1,504.1 763.4,509.0 763.6,510.3 763.9,503.8 764.1,510.0 764.4,504.8 764.6,509.1 764.9,504.7 765.1,504.2 765.4,510.9 765.6,509.8 765.9,505.1 766.1,511.1 766.4,504.1 766.6,504.7 766.9,510.6 767.1,511.9 767.4,505.0 767.6,505.9 767.9,510.6 768.1,510.1 768.4,505.6 768.6,504.3 768.9,511.8 769.1,510.7 769.4,504.3 769.6,512.4 769.9,504.9 770.1,506.3 770.4,511.0 770.6,505.4 770.9,511.3 771.1,510.6 771.4,506.0 771.6,504.8 771.9,511.0 772.1,505.8 772.4,511.3 772.6,504.7 772.9,511.8 773.1,512.1 773.4,505.6 773.6,506.9 773.9,512.2 774.1,506.0 774.4,511.2 774.6,510.7 774.9,505.7 775.1,513.1 775.4,505.3 775.6,511.4 775.9,506.3 776.1,511.5 776.4,506.2 776.6,512.1 776.9,506.9 777.1,512.2 777.4,505.5 777.6,506.3 777.9,513.0 778.1,512.0 778.4,506.7 778.6,513.0 778.9,506.6 779.1,506.4 779.4,512.7 779.6,507.0 779.9,512.2 780.1,505.4 780.4,512.8 780.6,506.9 780.9,512.1 781.1,511.8 781.4,507.5 781.6,513.4 781.9,507.1 782.1,506.8 782.4,513.6 782.6,512.6 782.9,507.9 783.1,507.1 783.4,513.0 783.6,512.3 783.9,506.8 784.1,511.9 784.4,506.6 784.6,513.4 784.9,507.7 785.1,513.3 785.4,509.3 785.6,506.8 785.9,512.4 786.1,507.0 786.4,513.5 786.6,513.1 786.9,507.4 787.1,512.3 787.4,507.6 787.6,513.1 787.9,506.1 788.1,514.6 788.4,507.9 788.6,507.9 788.9,514.0 789.1,514.5 789.4,508.3 789.6,507.7 789.9,514.2 790.1,514.2 790.4,506.3 790.6,514.5 790.9,508.0 791.1,507.2 791.4,513.4 791.6,507.4 791.9,513.3 792.1,507.1 792.4,514.1 792.6,512.9 792.9,507.7 793.1,508.9 793.4,514.8 793.6,506.6 793.9,513.2 794.1,510.9 794.4,508.1" stroke="#70ad47" stroke-width="2.2" fill="none" stroke-linejoin="round" stroke-linecap="butt"/>
</g>
<rect x="155.5" y="31.6" width="531.9" height="31.8" fill="#fff" stroke="#b9b9b9" stroke-width="1"/>
<g font-family="'Liberation Sans', sans-serif" font-size="18.5" fill="#000"><text transform="translate(184.02 55.8) scale(0.9869 1.03)">RWKV-4</text><text transform="translate(259.83 55.8) scale(0.9774 1.03)">loss</text><text transform="translate(297.80 55.8) scale(0.9605 1.03)">vs</text><text transform="translate(320.08 55.8) scale(1.0224 1.03)">Gtokens,</text><text transform="translate(402.17 55.8) scale(1.0899 1.03)">169M</text><path d="M452.4 59.0h1.9L461.6 40.8h-1.9z"/><text transform="translate(461.77 55.8) scale(1.0833 1.03)">430M</text><path d="M511.4 59.0h1.9L520.9 40.8h-1.9z"/><text transform="translate(520.64 55.8) scale(0.9748 1.03)">1.5B</text><path d="M557.5 59.0h1.9L566.8 40.8h-1.9z"/><text transform="translate(566.98 55.8) scale(0.8857 1.03)">3B</text><path d="M587.9 59.0h1.9L597.6 40.8h-1.9z"/><text transform="translate(597.29 55.8) scale(0.8990 1.03)">7B</text><path d="M617.9 59.0h1.9L627.5 40.8h-1.9z"/><text transform="translate(627.00 55.8) scale(1.0000 1.03)">14B</text></g>
<g font-family="'Liberation Sans', sans-serif" font-size="14" fill="#505050" stroke="#505050" stroke-width="0.25"><text x="29" y="20.8" text-anchor="end">3.1</text><text x="29" y="57.8" text-anchor="end">3</text><text x="29" y="94.8" text-anchor="end">2.9</text><text x="29" y="131.8" text-anchor="end">2.8</text><text x="29" y="168.8" text-anchor="end">2.7</text><text x="29" y="205.8" text-anchor="end">2.6</text><text x="29" y="242.8" text-anchor="end">2.5</text><text x="29" y="278.8" text-anchor="end">2.4</text><text x="29" y="315.8" text-anchor="end">2.3</text><text x="29" y="352.8" text-anchor="end">2.2</text><text x="29" y="389.8" text-anchor="end">2.1</text><text x="29" y="426.8" text-anchor="end">2</text><text x="29" y="463.8" text-anchor="end">1.9</text><text x="29" y="499.8" text-anchor="end">1.8</text><text x="29" y="536.8" text-anchor="end">1.7</text><text x="44.4" y="558" text-anchor="middle">1</text><text x="340.9" y="558" text-anchor="middle">10</text><text x="637.4" y="558" text-anchor="middle">100</text></g>
</svg>
</body></html>
